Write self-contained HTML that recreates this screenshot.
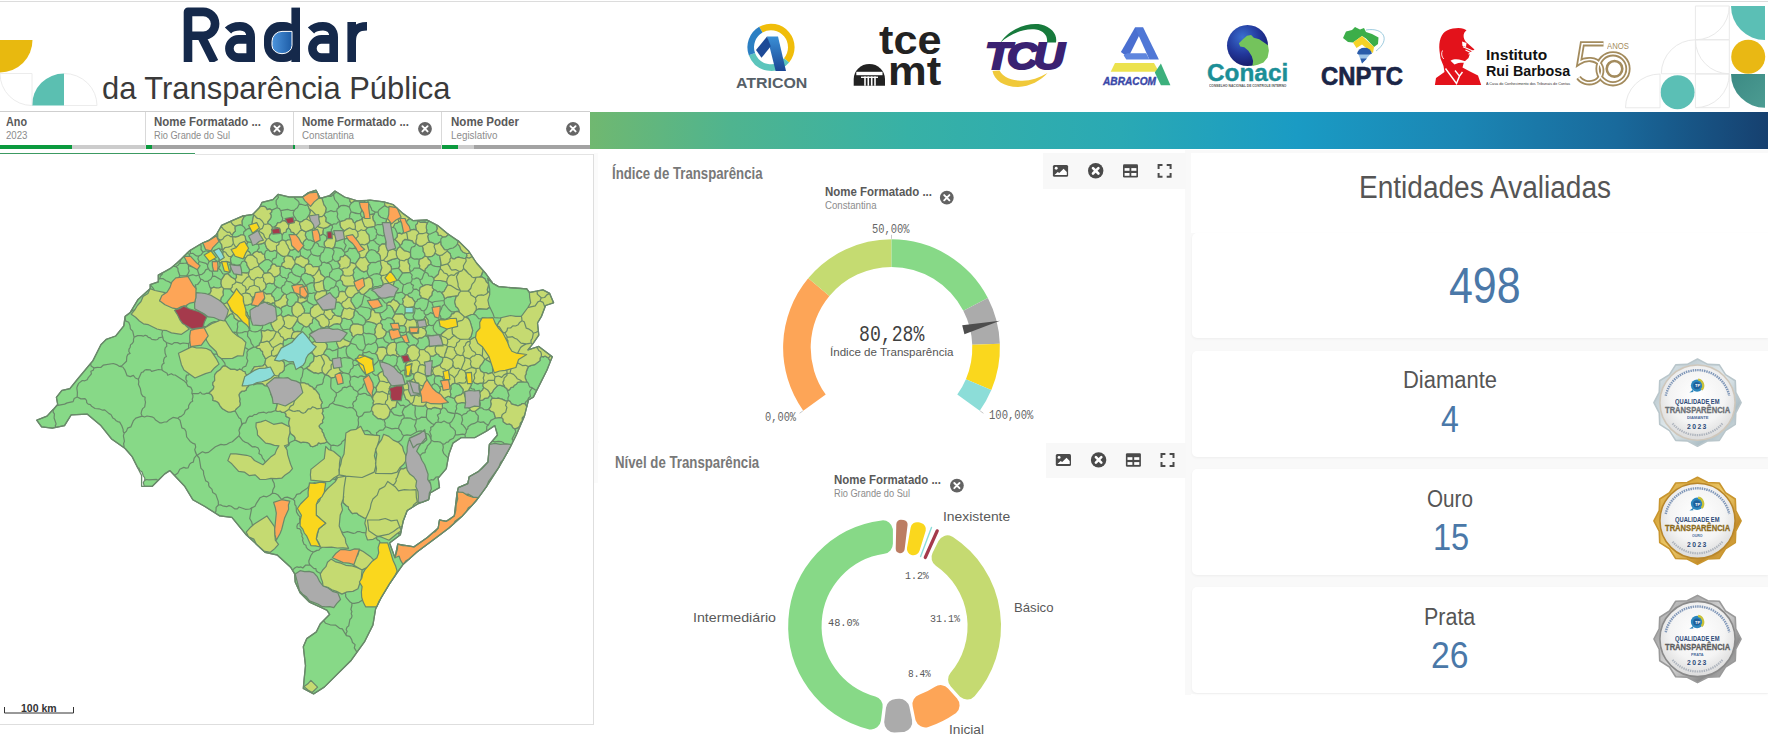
<!DOCTYPE html>
<html lang="pt-br">
<head>
<meta charset="utf-8">
<title>Radar da Transparência Pública</title>
<style>
html,body{margin:0;padding:0;background:#fff;}
body{width:1768px;height:742px;position:relative;overflow:hidden;font-family:"Liberation Sans",sans-serif;}
.abs{position:absolute;}
.t{position:absolute;white-space:nowrap;line-height:1;transform-origin:0 0;}
svg{position:absolute;left:0;top:0;overflow:visible;}
.card{position:absolute;left:1192px;width:576px;background:#fff;border-radius:5px 0 0 5px;box-shadow:0 1px 3px rgba(0,0,0,.05);}
</style>
</head>
<body>
<!-- top hairline -->
<div class="abs" style="left:0;top:1px;width:1768px;height:1px;background:#dcdcdc"></div>

<!-- ===== header graphics ===== -->
<svg width="1768" height="112" viewBox="0 0 1768 112">
<defs>
<linearGradient id="gDrop" x1="0" y1="0" x2="1" y2="0"><stop offset="0" stop-color="#4d95dd"/><stop offset="1" stop-color="#1d5ca6"/></linearGradient>
<linearGradient id="gA" x1="0" y1="0" x2="0" y2="1"><stop offset="0" stop-color="#3a8fd6"/><stop offset="1" stop-color="#1b4795"/></linearGradient>
<radialGradient id="gGlobe" cx="0.38" cy="0.3" r="0.75"><stop offset="0" stop-color="#3a6fd0"/><stop offset="0.55" stop-color="#22379a"/><stop offset="1" stop-color="#151a66"/></radialGradient>
<linearGradient id="gTeal2" x1="0" y1="0" x2="1" y2="1"><stop offset="0" stop-color="#3c8a84"/><stop offset="1" stop-color="#4c9c92"/></linearGradient>
<clipPath id="cpR"><rect x="170" y="0" width="210" height="62"/></clipPath>
</defs>
<!-- left decorations -->
<path d="M0 40H32.5A32.5 32.5 0 0 1 0 72.5Z" fill="#e8b90f"/>
<path d="M64 73.5V105.5H32A32 32 0 0 1 64 73.5Z" fill="#5bbfb1"/>
<g fill="none" stroke="#ececec" stroke-width="1">
<path d="M0 73.5H32V105.5A32 32 0 0 1 0 73.5"/>
<path d="M64 73.5A33 32 0 0 1 97 105.5H64"/>
</g>
<!-- Radar wordmark -->
<g fill="none" stroke="#15294b" stroke-width="8.6" stroke-linejoin="round" clip-path="url(#cpR)">
<path d="M188 62V11.9H203.2A11.9 11.9 0 0 1 203.2 35.7H188M201.5 36.5L214.3 62"/>
<path d="M228 30.5C231 27.3 235 26.3 240 26.3C247 26.3 250.7 30.5 250.7 37V62M250.7 39.4H238.5A9.1 9.1 0 0 0 238.5 57.6H250.7"/>
<path d="M295.7 7.6V62"/>
<path d="M311 30.5C314 27.3 318 26.3 323 26.3C330 26.3 333.7 30.5 333.7 37V62M333.7 39.4H321.5A9.1 9.1 0 0 0 321.5 57.6H333.7"/>
<path d="M351.7 22V62M351.7 41C351.7 31 357 26.3 367 26.3"/>
</g>
<rect x="264" y="22" width="36" height="40" rx="16" ry="17" fill="#15294b"/>
<path d="M292 31.4V45.5A10 8.2 0 0 1 272 45.5V41.4A10 10 0 0 1 282 31.4Z" fill="url(#gDrop)" stroke="#fff" stroke-width="1"/>

<!-- ATRICON -->
<g fill="none" stroke-width="6.6">
<path d="M760.85 29.72A20.3 20.3 0 0 1 786.55 60.35" stroke="#f0bd0a"/>
<path d="M786.55 60.35A20.3 20.3 0 0 1 751.92 54.24" stroke="#5cc5bc"/>
<path d="M751.92 54.24A20.3 20.3 0 0 1 760.85 29.72" stroke="#2b7fc3"/>
</g>
<path d="M767 36.5H778L786 71H775.6Z" fill="url(#gA)"/>
<path d="M767 36.5L756 50L761.5 57.8L770.8 46.3Z" fill="#1d4a97"/>

<!-- tce mt dome -->
<path d="M853.7 85.7V79A15.65 15 0 0 1 885 79V85.7Z" fill="#222"/>
<rect x="856.3" y="71.8" width="26.2" height="3.4" fill="#fff"/>
<path d="M865 76.6V85.7M868.3 76.6V85.7M871.7 76.6V85.7M875 76.6V85.7" stroke="#fff" stroke-width="1.6" fill="none"/>
<rect x="861" y="76.6" width="17" height="1.4" fill="#fff"/>

<!-- TCU swooshes -->
<path d="M1000.5 42.5C1009 29 1028 22 1041 24.5C1052 27 1057.5 35 1056 42.5L1047 42.5C1048 36 1044 31 1036 29.6C1024 28 1010 34 1000.5 42.5Z" fill="#177a3c"/>
<path d="M992.5 71C994 80 1004 87 1018 87C1030 86.5 1041 80.5 1047.5 73C1038 79 1028 81.5 1018 80.5C1008 79.5 1002 75.5 999.5 70.5Z" fill="#f0c93a"/>

<!-- ABRACOM -->
<path d="M1135 27.6H1143.2L1128.2 57.5L1120.9 52Z" fill="#4a6fd0"/>
<path d="M1135 27.6H1143.2L1158.9 59.5H1149.4Z" fill="#4f77d6"/>
<path d="M1123.6 55.2L1127.3 53.2H1146.2L1149.4 59.5H1126.3Z" fill="#5f86de"/>
<path d="M1115 63H1154L1158.9 71.8H1110.7Z" fill="#ece24e"/>
<path d="M1160.9 63.6L1170.4 85.3H1160.9L1154.8 72.4Z" fill="#3cb07c"/>

<!-- Conaci globe -->
<circle cx="1247.5" cy="45.5" r="20.5" fill="url(#gGlobe)"/>
<path d="M1238.9 43.3L1242.9 39.2L1247 35.8L1251.1 35.1L1253.8 37.8L1259.2 39.2L1264 42.6L1268 45.3L1268.9 50.7L1267.6 57.5L1263.5 62.5L1257.9 64.8L1252.4 66L1253.1 60.9L1251.8 56.2L1248.4 50.7L1244.3 47.3L1240.2 46.6Z" fill="#74c35c"/>

<!-- CNPTC map -->
<path d="M1343 38L1346 31.5L1352 30L1355 27L1360 29.5L1364 28L1366 32L1372 34L1378.5 37.5L1378 44L1374 47L1366 38.5L1362 36L1353 42.5L1348 42Z" fill="#3cae49"/>
<path d="M1353 42.5L1362 36L1374 47L1373 53L1368 49.5L1362 44.5L1356.5 48Z" fill="#f5d327"/>
<path d="M1357 53.5A7.8 7.8 0 0 1 1372 53.5L1368 55.5H1360Z" fill="#2a5caa"/>
<path d="M1358.5 54.5H1370L1362 63.5Z" fill="#9cc3e8"/>
<path d="M1360.5 58.5H1367L1362 63.5Z" fill="#2a5caa"/>
<path d="M1366 30C1384 27 1391 40 1376 51" fill="none" stroke="#5aa7c8" stroke-width="0.6"/>

<!-- IRB silhouette -->
<path d="M1447 30.5C1455 27 1464 27.5 1466.5 30.5C1462.5 33 1463 38.5 1466 42L1474.5 49.5L1470.5 52L1468.5 58L1464 62L1462.5 67.5L1470 71.5L1478 75.5L1481.2 84.9H1434.9L1436 78L1444.5 72L1443.5 66L1440.5 58.5L1439.5 51C1438.5 41 1441 33.5 1447 30.5Z" fill="#e3121b"/>
<path d="M1462 41.5L1466.5 43L1466 47L1462.5 46Z" fill="#fff"/>
<path d="M1463 46.8L1473.5 51.2M1465.5 50L1471 52.8L1468.5 54.2" fill="none" stroke="#fff" stroke-width="1.1"/>
<path d="M1450.5 60.8C1455 58.2 1461 59.2 1468.5 62.8C1463 62.6 1458 62.2 1454.5 64.5Z" fill="#fff"/>
<path d="M1445.5 68.5L1456.5 83.5L1459.5 76L1455 70.5M1462.5 72L1459.5 76" fill="none" stroke="#fff" stroke-width="1.4"/>
<path d="M1442.5 50.5C1441 53 1441.5 57 1443.8 59" fill="none" stroke="#fff" stroke-width="0.9"/>

<!-- 50 anos -->
<g fill="none" stroke="#a38b5d" stroke-width="5.2">
<path d="M1603.5 43.8H1582.3L1579.2 62.5C1586 58 1596 58.5 1600 64.5C1604 71 1601 79.5 1594 82C1588 84 1581.5 82 1578.5 77.5"/>
<circle cx="1613" cy="68.8" r="15"/>
</g>
<g fill="none" stroke="#fff" stroke-width="1.6">
<path d="M1603.5 43.8H1582.3L1579.2 62.5C1586 58 1596 58.5 1600 64.5C1604 71 1601 79.5 1594 82C1588 84 1581.5 82 1578.5 77.5"/>
<circle cx="1613" cy="68.8" r="15"/>
</g>
<circle cx="1614.5" cy="68.8" r="7.8" fill="none" stroke="#a38b5d" stroke-width="2.6"/>

<!-- right decorations -->
<path d="M1731 6H1765V40A34 34 0 0 1 1731 6Z" fill="#5bbfb5"/>
<circle cx="1748.2" cy="56.7" r="17" fill="#e9b814"/>
<path d="M1731 74H1765V107.7A34 33.7 0 0 1 1731 74Z" fill="url(#gTeal2)"/>
<circle cx="1677.6" cy="92.2" r="17" fill="#5bbfb5"/>
<g fill="none" stroke="#e9e9e9" stroke-width="1">
<path d="M1695.4 6H1729.3V39.8H1695.4ZM1729.3 6A33.9 33.8 0 0 1 1695.4 39.8"/>
<path d="M1695.4 39.8H1729.3V73.8H1695.4ZM1695.4 39.8A33.9 34 0 0 0 1729.3 73.8"/>
<path d="M1661.3 73.8A34.1 34 0 0 1 1695.4 39.8M1661.3 73.8H1695.4"/>
<path d="M1625.5 107.8A34.5 33.8 0 0 1 1660 74V107.8Z"/>
<path d="M1695.4 74H1729.3V107.7H1695.4ZM1729.3 74A33.9 33.7 0 0 1 1695.4 107.7"/>
</g>
</svg>


<!-- ===== filter bar ===== -->
<div class="abs" style="left:0;top:111px;width:590px;height:1px;background:#cfcfcf"></div>
<div class="abs" style="left:145px;top:112px;width:1px;height:37px;background:#d9d9d9"></div>
<div class="abs" style="left:293px;top:112px;width:1px;height:37px;background:#d9d9d9"></div>
<div class="abs" style="left:441px;top:112px;width:1px;height:37px;background:#d9d9d9"></div>
<!-- selection bars -->
<div class="abs" style="left:0;top:145px;width:72px;height:4px;background:#0b9a3e"></div>
<div class="abs" style="left:72px;top:145px;width:73px;height:4px;background:#cccccc"></div>
<div class="abs" style="left:146px;top:145px;width:6px;height:4px;background:#0b9a3e"></div>
<div class="abs" style="left:152px;top:145px;width:141px;height:4px;background:#a3a3a3"></div>
<div class="abs" style="left:293px;top:145px;width:2px;height:4px;background:#0b9a3e"></div>
<div class="abs" style="left:295px;top:145px;width:14px;height:4px;background:#cccccc"></div>
<div class="abs" style="left:309px;top:145px;width:132px;height:4px;background:#a3a3a3"></div>
<div class="abs" style="left:442px;top:145px;width:16px;height:4px;background:#0b9a3e"></div>
<div class="abs" style="left:458px;top:145px;width:16px;height:4px;background:#cccccc"></div>
<div class="abs" style="left:474px;top:145px;width:116px;height:4px;background:#a3a3a3"></div>
<!-- gradient strip -->
<div class="abs" style="left:590px;top:112px;width:1178px;height:37px;background:linear-gradient(90deg,#70b870 0%,#4fb48f 12%,#37b1a6 27%,#2aa9b4 45%,#1a9bc4 60%,#1b86b4 74%,#196a9c 87%,#16406f 100%)"></div>
<!-- loading / separators under filter bar -->
<div class="abs" style="left:0;top:153px;width:195px;height:1px;background:#3c9a62"></div>
<div class="abs" style="left:195px;top:154px;width:398px;height:1px;background:#e4e4e4"></div>

<!-- ===== page panels ===== -->
<div class="abs" style="left:594px;top:153px;width:5px;height:330px;background:#fbfbfb"></div>
<div class="abs" style="left:1185px;top:150px;width:583px;height:545px;background:#f9f9f9"></div>
<div class="abs" style="left:598px;top:153px;width:587px;height:288px;background:#fff"></div>
<div class="abs" style="left:598px;top:443px;width:587px;height:299px;background:#fff"></div>
<div class="abs" style="left:1043px;top:153px;width:143px;height:36px;background:#f8f8f8"></div>
<div class="abs" style="left:1046px;top:443px;width:140px;height:35px;background:#f8f8f8"></div>
<div class="abs" style="left:1191px;top:153px;width:577px;height:80px;background:#fff"></div>
<div class="abs" style="left:1191px;top:694px;width:577px;height:48px;background:#fff"></div>
<div class="abs" style="left:593px;top:154px;width:1px;height:571px;background:#dedede"></div>
<div class="abs" style="left:0;top:724px;width:594px;height:1px;background:#dedede"></div>

<!-- KPI cards -->
<div class="card" style="top:233px;height:105px"></div>
<div class="card" style="top:351px;height:106px"></div>
<div class="card" style="top:469px;height:106px"></div>
<div class="card" style="top:587px;height:106px"></div>

<!-- ===== map ===== -->
<svg width="600" height="742" viewBox="0 0 600 742">
<g stroke="#69896a" stroke-width="1.2" stroke-linejoin="round">
<path fill="#87d987" d="M55.2 425.9 56.1 423.9 54.1 418 54.4 413.9 53.1 412.1 53.4 410 52.9 409.7 47 416.1 36.7 420.2 41.6 426.9 52.3 428.2 55.9 427.4ZM343 372.7 337 375.1 334.4 377.3 331.1 377.9 330.7 386.4 331.3 388.6 336.2 392.9 338.2 392.2 341.8 389.8 342.6 387.8 344.7 387.2 346.8 387.6 348.5 386.4 350.6 385.9 349.6 381.6 350.6 379.6 350 375.3 348.6 373.9ZM385.1 366.3 383.7 364.6 382.2 360.6 378.7 360 377 362.3 372.7 366.2 369.7 366.1 368.8 367.9 369 371.2 371.6 371.7 373.1 373.7 375.2 375.3 377.8 375 379.5 373 384.2 370.4 385.9 368.3ZM321.9 198.3 327.9 196.1 331.3 196.3 336.5 191.9 335 191 329.6 195.6 320.2 198.3ZM313.3 191.1 315.7 196.7 318.6 198.3 320.2 198.3 316 190.2ZM408.8 400.7 405.8 398.9 403.4 392.5 401.5 393.9 399.2 394 397.2 395.2 396.3 397.4 396.3 399.4 397 401.3 400.6 405.6 403.6 405.2 406.1 406.9 410.7 403.7ZM196.7 455 194.2 458.2 193.3 462.1 191.3 462.8 189.7 464.1 188 467.9 185.9 468.1 183.8 467.4 179.8 469.2 177.9 473 174.5 475.5 184.7 486.3 192.8 499.7 204.9 506.5 215.2 513.1 216 510.7 216.1 507.4 218.4 505 218.3 501.4 215.9 494.6 212.8 492.6 211.9 489.1 209.3 486.7 208.6 485 208.7 483.1 207.5 481.7 205.7 480.9 203.7 474.4 203.4 470.9 200.9 468.2 199.2 458ZM156.6 479.4 148.6 479.8 146.6 479.5 144.7 480.4 143.3 482.5 144.3 486.3 152.3 486.3 158.1 480.5ZM274.1 330.5 271.1 324.3 271 320.8 269.5 317.6 266.4 316.3 261.3 320.9 261.4 323.3 262.7 325.4 262.4 327.9 260.7 329.8 261.2 330.4 264.5 331.1 267.7 329.8 270.8 330.9ZM443 526 438.9 530 440.7 534.2 448.9 528 459.2 518.8 457.4 519 456.5 521 454.6 522.1 453.2 523.8 451.2 524.5 449.1 523.5 446.9 524.3 445.2 525.8ZM357 652.2 354.3 647.9 355.1 644.6 352.5 642.5 351.6 639.3 349.7 636.4 346.4 635.7 342.3 628.9 339.6 628.3 335.4 625.1 330.2 624.8 325.5 623.2 323.9 621.1 323 621.1 320.3 623.8 316.3 631.9 306.8 638.6 303.3 646.7 305.5 665.6 303.3 688.5 313.6 693.9 324.3 687.1 351.3 660.2ZM433.7 325.2 436.5 321 441.1 318.9 440.5 315.8 438.6 313.8 435.9 312.5 433.2 313.6 430.5 312.6 428.5 314.4 425.8 315.1 425.4 316.4 428.1 320.3 427.9 322.7 429 324.9 431.3 325.7ZM124.1 446.5 123.6 443.8 124.4 441.2 123.4 435.9 124.1 433.3 123.2 431.5 123.1 429.4 121.8 425.7 119.7 422.1 117.6 421.6 115.8 420.4 114.6 418.9 112.8 417.9 110.9 414.5 109.1 413.6 104.7 409.9 102.7 410.2 99 408.8 95 408.5 91.6 406.3 90.4 404.6 88.2 404.2 86.7 402.6 86.5 400.4 85 398.7 80.9 398.9 77.2 397 74.2 398.5 73.1 401.6 67.2 402.9 64.6 404.1 56.6 405.6 53.4 410 53.1 412.1 54.4 413.9 54.1 418 56.1 423.9 55.2 425.9 55.9 427.4 64.5 425.6 71.2 414.8 87.4 414.2 100.9 425.6 111.6 439 123.8 447.6ZM439.5 476.7 436.2 477 433.4 480 431.2 479.7 429.3 480.5 430.2 484 428.4 487.1 428.6 490.5 430.2 492.9 439.5 487.6 438.2 478.2ZM443.1 522.9 443 526 445.2 525.8 446.9 524.3 449.1 523.5 451.2 524.5 453.2 523.8 454.6 522.1 456.5 521 457.4 519 459.2 518.8 462.4 515.9 475.9 501.1 485.9 487.4 486.4 485.8 484.5 482.9 482.1 480.4 479 478.6 475.4 478.6 472.8 476.2 472.7 474.8 469.2 476.8 467.8 483.6 458.4 487.6 457 493 454.3 515.9 446.3 521.3 444 520.9ZM438.9 530 443 526 443.1 522.9 444 520.9 439.5 520 438.2 528 437.1 529ZM350 407.3 347.3 408 342.3 406.1 334.6 404.3 332.3 402.9 329.7 404.5 328.3 407.2 322.6 408.7 322.9 411.2 322 413.5 323.4 415.5 323.8 418 322.4 420.2 322.7 422.8 320.5 424 318.9 426 319.9 428.1 321.9 429.4 322.1 431.7 323.6 433.6 324 435.8 326.9 441.8 331 445.5 333.2 445.1 337.6 446 339.6 444.9 341.4 443.6 342.2 441.4 344.1 440.3 348.4 435.2 349.3 430.8 351.6 431.2 356.2 429.9 357.3 427.7 358.4 425.2 358.5 422.6 358.1 419.9 358.7 417.3 356.7 415 356.5 412.1 354.9 409.8 352.7 408ZM313 551.8 311 551.2 307.6 548.9 306.3 547.3 305.9 545.2 304 544.2 302.5 540.3 303 538.3 301.9 536.5 302.2 534.4 301.1 532.5 300.9 530.4 299.5 528.6 297.2 528.4 296.9 526.3 297.5 524.3 299.4 523.1 300 521 299.5 518.9 300.1 516.8 298.5 515.4 296.5 511.9 296.1 506.2 294.9 504.7 294.6 500.7 293.1 499.4 287.4 497.1 284.3 497.7 281.7 499.6 278 495 275.4 493.5 272.4 493.2 269.8 495.3 266.8 496.8 263.3 496.2 260.1 497.7 256.5 503.1 255 506.3 251.8 507.7 249.7 518.5 251.6 521.7 252.5 525.3 255.8 529.7 256.1 531.6 257.5 533 259.4 533.4 257.8 543.9 259 545.3 259.7 547.3 265 552.3 277.2 555 290.6 567.2 292.4 570.1 295.1 567.8 297 566.8 299 567.3 301 566.9 302.8 568 305.7 565 307.7 565.2 309.8 564.8 309 563 308.8 561 310.9 555.5 313.2 552.2 315.1 551.5ZM475.6 314.9 478.7 318.6 481.1 319 484.7 322.2 484.6 324.7 485.5 327 491.5 328.3 497.1 325.8 499 322.1 500.4 320.5 500.8 318.4 500.9 314.2 499.3 312.6 499.2 310.3 497.1 307.5 494.4 306.6 491.8 307.8 489 307.5 486.7 309.2 478.7 308.7 476.2 309.9 473.3 314.3ZM259.7 547.1 259 545.3 257.8 543.9 259.4 533.4 257.5 533 256.1 531.6 255.8 529.7 252.5 525.3 251.6 521.7 249.7 518.5 251.8 507.7 249.9 509 245.4 509.3 239 507 237.3 508.8 234.9 508.9 231.2 506.3 228.9 505.6 226.7 506.7 222.5 505.8 220.6 504.9 218.4 505 216.1 507.4 216 510.7 215.2 513.1 219.7 515.9 231.9 517.3 246.2 534.8ZM192.2 390.3 190.9 387.4 187.8 386.1 186.4 383.2 183.9 380.7 175.1 375 173.1 374.8 171.3 373.7 167.6 375.2 167.1 373.2 163.5 371.3 162.1 370 158.6 369.5 151.6 371.4 150.3 369.9 146.4 369.6 144.5 370.3 143.3 371.9 141.4 372.5 138.4 379.3 138.8 381.8 138.4 384.3 140.4 388.8 141.3 393.9 142.7 396.1 145.1 397.3 144.9 399.7 145.5 402.1 144.7 406.9 142.7 408.6 141.6 411 141.1 413.6 142.1 416.1 144.6 417 147 416 151.9 416.8 154.1 418 155.6 420.1 159.7 422.8 162.1 422.8 164.4 422 166.9 421.8 168.8 420.1 173 417.4 178 418.4 179.3 416.8 181.2 416.4 184.1 413.9 185.4 410.2 187.2 409.4 188.6 408 188.6 405.8 189.6 403.9 190.8 402.2 192.7 401.3 192.2 399.2 192.9 397.3 192.9 395.2 191.9 393.5ZM56.6 405.6 64.6 404.1 67.2 402.9 73.1 401.6 74.2 398.5 77.2 397 77.4 392.4 76.8 387.9 78.6 383.4 82.3 380.5 84.8 380.8 87.2 379.8 88.3 377.6 91.4 373.8 90.9 371.3 93.2 370.2 94.1 367.9 91.1 366 90.6 363.5 69.9 388.6 61.8 390.5 56.4 397.3 57.7 404.5ZM138.4 379.3 141.4 372.5 143.3 371.9 144.5 370.3 146.4 369.6 150.3 369.9 151.6 371.4 158.6 369.5 162.1 370 161.7 366.2 162.4 364.3 164.1 363.3 163.5 361.4 163.8 359.4 164.6 357.6 166.4 356.6 165.1 353.2 164.8 349.6 165.3 347.6 166.8 346.3 166.4 342.5 163.6 340.3 162.6 337 158.8 337.8 157.6 339.5 155.5 339.8 151.7 339.3 150.3 337.9 148.3 337.4 147 335.9 145.1 335.2 143.3 336.2 141.2 335.6 137.5 335.6 134.1 337.2 133.5 339.4 133.5 341.6 132.3 343.5 130.5 344.9 130.2 347.2 129 349.1 128.8 351.5 130.1 353.5 127.8 354.4 126.8 356.7 126.5 361.3 121.7 365.9 119.5 366.4 122.8 367 124.8 369.8 127.1 375.7 130.3 376.6 133.4 375.4 135.4 378ZM282.1 412.4 280.1 411 277.8 411.5 275.6 410.5 271 412.1 268.5 412 266.3 413.2 264 412.2 258.9 412.8 256.8 414.3 254.2 414.6 252.3 416.3 249.6 416.2 247.6 418 245.7 422.8 242.9 423.3 239.8 427.8 238.9 430.4 239.7 433.1 239 435.8 242.5 440.4 244.9 442.1 247.7 443 252.2 446.8 255.2 446.7 257.9 447.8 259.5 450.5 258.9 453.6 261.5 455.2 262.5 458.1 264.4 460.3 265.4 462.9 267.1 465.1 268.2 467.7 271 467.5 273.3 465.9 275.8 461.2 278 459.9 283.2 459.4 285.1 457.4 284.9 454.7 286.1 452.1 285.6 449.4 286.4 446.8 288.8 445.2 289.8 442.5 294.8 440.2 295.2 438.1 294.2 436.2 290.9 433.7 289.2 430.2 289.1 428.2 289.5 426.3 288.8 424.4 288.8 422.3 289.8 418.3 286 416.4 286 414.1 284.5 412.3ZM212 303.8 209.7 299.4 207.3 298.3 206.3 295.8 203.2 296.5 197.8 293.7 194.8 294.3 193.9 297 191.9 299 189.2 300.1 187.8 302.8 186.7 305.5 186.2 308.4 187.1 311.2 188.6 313.8 191 315.5 196.6 318.2 198 321.1 201.8 313.3 204.7 312.2 206.7 310.3 209.5 305.3ZM315.5 242 317.1 239.1 317.7 235.8 316.1 234 316.1 231.7 313.8 231 312.5 229.1 305.8 231.9 305.2 235.3 306.7 238.4 308.4 240.2 310.9 240.2 312.9 241.4ZM323.9 621.1 325.5 623.2 330.2 624.8 335.4 625.1 339.6 628.3 342.3 628.9 346.4 635.7 346 633.5 347.1 631.5 346.2 629.4 347 627.3 348.7 625.9 349.9 619.5 351.5 617.9 352 615.8 351.2 613.6 351.9 611.5 350.9 609.5 351.9 605.3 351.8 603.1 350.2 602.1 346.5 597.9 345.6 596.2 345.7 594.2 344.4 592.7 344.4 590.7 340.7 589.6 339.2 588.4 337.1 585.1 335.3 584.2 334.9 582.3 332.6 579.1 330.9 578.3 328.9 578.8 327.1 578 326.2 576.2 317.7 572 316.2 570.7 315.9 568.7 314 568.6 309.8 564.8 307.7 565.2 305.7 565 302.8 568 301 566.9 299 567.3 297 566.8 295.1 567.8 292.4 570.1 294.7 573.9 295.2 582 300.1 592.8 309.5 602.2 327 610.3 329.7 614.3 323 621.1ZM199.5 277.2 199.1 275 195.9 275.8 193 274.7 187.1 276.3 188.3 277.9 188.1 280 189.7 281.1 191.6 284.7 189.6 290.3 191.4 291.9 193.7 292.5 194.5 290.5 196.1 289 195.4 284.8 197.6 284.5 200.3 281.2 200.7 279.1ZM495.5 418 490.9 420.4 488.4 425 486.8 426.3 486.6 430.4 486 431.4 494.8 425.6 497.5 435 492.2 441.2 494.8 441.8 498.2 441.3 501.6 441.7 503.2 442.5 504.4 443.9 508 444.5 510.2 447.3 513.3 441 512.1 439 515.7 431.7 514.9 428.9 512.7 427.6 511.8 425.3 509.6 423.9 507.1 424.4 503.2 421.7 503.1 419.2 501.5 417.3ZM349.7 636.4 351.6 639.3 352.5 642.5 355.1 644.6 354.3 647.9 357 652.2 364.8 641.3 372.9 625.1 375.6 609 380.9 598.2 389.5 584 389.3 583.5 387.2 583.4 385.6 581.9 383.6 582.7 381.6 582 380 583.9 378 585.4 378.1 588 376.8 590.3 374.6 591.7 372 591.5 369.7 592.7 367.2 597.1 365.3 598.6 359 602.3 354.3 603.4 351.8 603.1 351.9 605.3 350.9 609.5 351.9 611.5 351.2 613.6 352 615.8 351.5 617.9 349.9 619.5 348.7 625.9 347 627.3 346.2 629.4 347.1 631.5 346 633.5 346.4 635.7ZM432.8 426.4 430.7 427.4 430.9 429.8 429.7 431.8 431.2 435.8 430.9 438 431.3 440.3 434.2 441.7 437.3 441.5 440.4 442.1 442.8 444.2 444.8 443.8 446.3 442.3 448.4 441.9 449.6 440.1 453.4 438.3 455.4 434.6 455.4 431.2 453.3 428.5 450.5 426.5 449.5 423.3 446.6 422.6 444 421 441.3 422.6 438.2 422 435.8 422.7ZM483.4 270.8 481.4 275.5 479.6 276.9 482.6 277.2 485.1 279 486.2 281.8 488.4 283.8 489.7 282.4 491.6 281.9 486 273.8ZM164.9 312.4 162.5 312.5 160.7 310.8 158.3 310.7 156.4 309.3 155.1 307.3 153 306.2 152 304 150.3 305.2 148.3 305.7 146.2 305.5 144.4 304.6 142.5 304.9 139.1 306.8 137.3 307.3 136.3 309.1 132.6 310.5 125.1 316.4 125.5 320.9 128.7 322.3 130 325.5 130.4 328.8 132.7 331.1 134.1 337.2 137.5 335.6 141.2 335.6 143.3 336.2 145.1 335.2 147 335.9 148.3 337.4 150.3 337.9 151.7 339.3 155.5 339.8 157.6 339.5 158.8 337.8 162.6 337 161.9 333.8 162.5 330.6 162.2 327.4 161.2 324.4 163.2 321.8 165.8 319.7 165.3 316.3 167.2 313.3ZM206.5 393.2 204.4 394.1 202 393.9 200.3 392.2 198.5 393.6 191.9 393.5 192.9 395.2 192.9 397.3 192.2 399.2 192.7 401.3 190.8 402.2 189.6 403.9 188.6 405.8 188.6 408 187.2 409.4 185.4 410.2 184.1 413.9 181.2 416.4 179.3 416.8 178 418.4 180 420.2 181.9 427.9 184.6 429 186 431.5 186.7 437 190.2 441.4 192.5 443.1 195.1 444.1 195.7 447 194.7 449.7 195.5 452.4 196.7 455 197.1 455.2 202.4 451.8 205.4 452.9 208.5 452.4 215.4 446.8 220.9 444.4 223.9 444.8 226.9 444.3 229.5 442.7 232.3 441.8 239 435.8 239.7 433.1 238.9 430.4 241.3 425.5 241.8 423.4 240.8 419.1 238.9 417.8 235 410.8 230.7 412 228.4 412 226.3 411.1 222.5 408.8 219.7 405.3 218.8 403.3 217.1 401.8 215.1 400.8 212.9 400.5 213.1 398.2 212.3 396 210.9 394.2 208.8 393.3ZM443.3 447.3 442.6 450.3 443.6 453.3 448.2 458.1 449 453.9 453 443.1 461.1 437.7 465.3 437.7 465 434.5 462.6 434.1 457.8 434.9 455.4 434.6 453.4 438.3 449.6 440.1 448.4 441.9 446.3 442.3 444.8 443.8 442.8 444.2ZM356.2 429.9 351.6 431.2 349.3 430.8 348.4 435.2 344.1 440.3 342.2 441.4 341.4 443.6 339.6 444.9 337.6 446 333.2 445.1 331 445.5 330.6 449.2 331.7 450.8 332 452.7 333 454.4 334.9 455 335.8 456.6 337.5 457.5 338.1 459.4 337.6 461.3 339.2 462.5 339.9 464.4 338.7 465.8 338.1 467.5 338.2 469.5 337.3 471.1 340.2 470.9 345.8 468.8 348.7 469.8 357 467.2 362.2 464.8 368 463.8 370.3 462 376.4 461.8 381 457.9 380.9 452.2 378.4 450.5 377.8 447.5 378.7 444.7 378.4 441.8 376.8 439.4 375.9 436.6 371.3 434 369.7 431.8 367.4 430.4 364.7 431 361.9 430.7 359.4 429.5 357.3 427.7ZM397.4 233.5 395 228.3 393.2 227.5 388.3 226.6 388 229.1 386.2 230.9 384.6 235.4 387.2 240.4 389 239.7 394.9 239.3 397.3 236.9ZM134.1 337.2 132.7 331.1 130.4 328.8 130 325.5 128.7 322.3 125.5 320.9 125 317 123.8 325.8 115.7 336 106.3 339.3 100.9 344.7 92.8 360.9 90.6 363.5 91.1 366 94.1 367.9 97.4 367.3 100.7 367.5 103.2 365.2 113.3 363.5 116.6 364.6 119.5 366.4 121.7 365.9 126.5 361.3 126.8 356.7 127.8 354.4 130.1 353.5 128.8 351.5 129 349.1 130.2 347.2 130.5 344.9 132.3 343.5 133.5 341.6 133.5 339.4ZM306.4 291.9 307.7 294.1 309.6 293.2 311.7 293.5 313.8 292.7 315.8 293.4 317 291.6 315.1 290.1 314 285.3 314.5 283 312.1 282.7 309.8 283.2 305.9 285.7 304.7 288 304.2 290.5ZM196.6 318.2 193.6 317 188.6 313.8 185.6 314.6 179.5 313.2 178 310.4 169.4 311.3 167.2 313.3 165.3 316.3 165.8 319.7 163.2 321.8 161.2 324.4 162.2 327.4 162.5 330.6 161.9 333.8 163.6 340.3 166.4 342.5 172 344.4 174.4 342.5 177.5 342.6 180.2 343.9 183.1 343 188.6 343.6 192.2 339.4 194 334.1 196.8 332.8 199.5 327.6 199.6 324.6 198.2 323.1 198 321.1ZM294.7 261 296.5 257.1 298.8 257.1 300.5 255.6 300.2 251.6 299 249.8 299.3 247.7 296.9 247.9 292.6 249.9 290.2 250 287.5 255.6 292.2 256.8 293.2 259.1ZM488 397.8 484.9 398.3 482.5 400.2 479.5 400.5 480.1 404.2 479.5 407.8 482 407.9 483.9 409.5 486.3 409.8 488.7 409.3 490.6 406.9 491.3 404 490.6 400.9 492.3 398.2 491.6 396.5 490 395.3ZM243.1 367.2 245.9 366.1 247.8 360.7 246.6 358 247.2 355.1 246.9 352.1 248.7 349.7 245.9 347.9 242.7 347.6 240.3 345.4 237.3 344.2 236.3 346.9 230.7 352.8 228 353.9 226.1 356.1 223.2 355.7 220.5 356.4 221.6 358.8 224.8 363.1 225.3 365.8 230.8 369.4 235.3 369.4 237.2 370.5 239.3 369.2 241.6 369.8ZM169.3 281.9 166.1 280.7 163.2 278.7 159.7 278.6 158.3 279.9 158.3 281.9 150.2 284.6 153.5 288.6 155.1 293.8 153.8 296.3 154.1 299 152 301.1 152 304 153 306.2 155.1 307.3 156.4 309.3 158.3 310.7 160.7 310.8 162.5 312.5 164.9 312.4 167.1 313.1 169.8 307.4 174.6 303.4 177.7 297.5 175 287 173.9 285.1ZM197.7 355.7 193.5 351.3 189.5 349.9 188.7 347.8 188.6 343.6 183.1 343 180.2 343.9 177.5 342.6 174.4 342.5 172 344.4 166.4 342.5 166.8 346.3 165.3 347.6 164.8 349.6 165.1 353.2 166.4 356.6 164.6 357.6 163.8 359.4 163.5 361.4 164.1 363.3 162.4 364.3 161.7 366.2 162.1 370 163.5 371.3 167.1 373.2 167.6 375.2 171.3 373.7 173.1 374.8 175.1 375 183.9 380.7 186.4 383.2 187 381.1 185.9 379.2 186.5 375.2 188.6 374.8 190.1 373.2 190.5 371.1 191.8 369.3 193.5 363.4 192.5 361.5 193 359.5 194 357.7 196.1 357.2ZM223.2 355.7 226.1 356.1 228 353.9 230.7 352.8 236.3 346.9 238.7 341.4 239.2 338.3 236.5 332.7 234.4 332.1 232.4 332.9 228.7 331.2 226.8 331 221.8 333.6 220.3 337.1 218.3 337.5 216.9 338.9 218.3 345.1 220.1 346.4 218.8 350.2 217.5 351.8 217.1 353.9 220.5 356.4ZM371.8 525.6 370.8 528.7 371.7 530.6 371.4 532.6 372.3 534.4 374.3 535.1 375.9 536.3 376.3 538.2 377.4 539.9 379.2 540.5 382.8 548.8 384.3 550 384.3 551.9 388.3 558.7 389.7 562.6 388.6 564.4 388.7 568.4 388.3 570.4 386.9 571.9 386.3 575.8 383.1 578.2 381.9 579.9 381.6 582 383.6 582.7 385.6 581.9 387.2 583.4 389.3 583.5 389.5 584 403.1 564.4 416.6 552.3 440.7 534.2 438.9 530 437.1 529 427.4 537.5 413.9 546.9 397.7 544.2 395 557.7 389.6 542.9 400.4 534.8 400.9 532.1 398.8 533.9 394.6 531.3 392.4 532.2 387.6 532.4 382.3 528.2 379.2 525.2 378.2 523.1 376.3 521.9 373.8 523ZM372.7 521.3 370.8 520.5 367.7 518.3 363.8 517.8 358.5 514.8 357 513.1 354.8 513 352.6 513.6 351.1 512.2 348.6 508.8 348.3 506.7 346.4 505.8 343.3 502.8 343.1 500.6 343.7 496.6 342.8 494.7 342.6 492.6 341 491.3 339.1 490.6 336.3 485 337.1 482.9 336.6 480.9 335 479.5 328.8 478.1 326.3 480.3 323 480.7 320.8 483.2 317.6 483.8 314.5 482.7 311.4 483.8 307.2 488.2 302.2 491.5 299.9 493.7 296.7 494.4 295.2 497.1 293.1 499.4 294.6 500.7 294.9 504.7 296.1 506.2 296.5 511.9 298.5 515.4 300.1 516.8 299.5 518.9 300 521 299.4 523.1 297.5 524.3 296.9 526.3 297.2 528.4 299.5 528.6 300.9 530.4 301.1 532.5 302.2 534.4 301.9 536.5 303 538.3 302.5 540.3 304 544.2 305.9 545.2 306.3 547.3 307.6 548.9 311 551.2 313 551.8 315.1 551.5 316.9 550.4 318.9 550.2 320.2 548.5 323.9 546.3 326.2 546.5 328.4 542.8 331.4 540 333.1 536.3 335 535.3 335.7 533.2 339.4 531.4 341.5 531.6 343.4 532.7 347.4 531.6 353.3 533.4 355.4 533 357.2 531.7 359.4 531.5 361.4 532.3 365.8 532.8 368 532.1 369.1 530.2 370.8 528.7 371.8 525.6 373.8 523ZM428.6 300.8 431.9 302.6 434.8 301.5 444 300.5 444.7 298.8 443.6 295.4 441.6 292.6 439.7 291.4 437.5 291.9 436 290.4 434 289.6 432.2 292.1 431.8 295.2 429.6 297.3 428.2 300ZM427.7 273.3 428.8 276 431.7 276.3 433.9 278.2 438.3 274.3 439 271.3 440.4 268.7 440.4 266.5 435.3 266.4 432.9 265.6 430.8 264.2 428.4 265.1 427.1 267.3 425.2 268.9 424.8 271.5 425 272.1ZM302.2 367.6 300.1 366.9 296.8 364.5 290.2 363.5 287.1 365 284.5 367.1 284.2 369.9 282.4 372 279.9 373.2 278.5 375.6 279.4 379.9 281.4 381.6 286 383.9 288.1 385.6 293.3 386.4 295.9 385.8 298.1 383.7 301.1 382.9 300.6 379.4 302.2 376.2 303.3 369.5ZM433.1 328.1 434.1 330.8 438 334.9 441.1 334.5 442.9 332.5 445.1 331 447.2 329.1 447.5 326.3 445.3 324.7 444.9 322.1 443.4 320 441.1 318.9 436.5 321 433.7 325.2ZM276.5 225.3 277.5 222.9 280.2 222.7 282.2 221 282.8 218.2 281.4 215.8 281.4 213.2 280.7 210.7 279.4 208.6 277.1 207.7 271.8 210.1 271.6 212.2 270 213.5 271.1 215.2 271 217.2 270.2 218.9 267.7 221.8 267.8 223.7 270.4 224.8 272.1 227 274.4 227ZM426.8 410.4 426.3 417.3 427.5 419.8 431.7 423.5 434.3 424.6 435.8 422.7 438.2 422 438 420.1 438.7 418.4 437.4 415 440.5 412.9 440.4 410.9 441.3 409.1 434.6 407.4 432.8 407.8 431.3 408.9 427.8 408.3ZM389.7 317.8 387.1 317.9 385 319.7 382.2 319.5 380.7 320.9 380.4 322.9 382.3 325.1 382.3 328 386.3 331.6 389.4 331.9 392.3 330.6 393.4 329.1 394.5 323.6 394.2 320.7 392.1 318.8ZM300.9 277.1 295.9 275.6 293.5 274.3 291.9 272.2 289.5 272.9 288.2 274.9 288.2 277.4 286.5 279.2 286.7 280.8 288.6 281.7 290.6 281.9 293.8 284.4 296.5 284.3 300.4 280.6ZM524.6 415.4 522.2 417.9 522.3 420.9 520.3 423.1 519.8 426 517.7 427.9 514.9 428.9 515.7 431.7 512.1 439 513.3 441 516.3 435 524.4 416.2ZM130.3 312.3 132.6 310.5 136.3 309.1 137.3 307.3 139.1 306.8 142.5 304.9 144.4 304.6 146.2 305.5 148.3 305.7 150.3 305.2 152 304 152 301.1 154.1 299 153.8 296.3 155.1 293.8 153.5 288.6 150.2 284.6 150.2 288.6 138.1 299.4ZM295.2 263.6 291.4 269.4 291.9 272.2 293.5 274.3 295.9 275.6 300.9 277.1 302 274.6 304.4 273.5 305.5 270.5 304.6 267.4 302.1 267.1 297.7 264.3ZM400.9 371.7 398.3 368.5 397.6 366.5 396 365.1 391.4 367.8 388.6 367.1 386 368.4 388.3 369.7 389.8 371.8 391.1 376.8 393.4 376.1 395.8 376 399.9 373.5ZM222.9 291.8 223.4 295.2 221.1 297.9 220.4 301.3 222.2 303 224.6 303.8 227 302.8 229.5 303.7 231.3 302.1 232.5 300 235.6 296.3 234 294.6 233.4 292.4 231.5 291 230.6 288.9 223.6 288.5ZM350.4 343.1 355.8 344.8 357.7 348.2 359.1 349.7 362.9 350.5 364.7 348.3 365.6 345.5 364.7 342.7 363.9 336.8 362.4 334.3 360 334.7 357.6 334.3 355.3 335.2 351.7 339.4ZM415.3 409 414.9 412.4 415.3 416 417.1 419 419.5 418.6 421.5 417.1 426.3 417.3 426.8 410.4 427.8 408.3 426.2 406.6 425.7 404.3 423.5 406.2 420.5 406.2 415 405.5ZM304.7 288 305.9 285.7 300.8 277.9 300.4 280.6 298.7 282.6 296.5 284.3 293.8 284.4 292.7 286.6 294 291.2 295.6 292.9 297.9 292.4 300.2 292.9 302.1 291.5 304.2 290.5ZM182.9 263.4 179.7 263.1 178.1 265.2 175.9 266.6 177.9 268.3 178.1 271 179.8 275.5 186.5 275.8 188.1 273.6 189.2 271.1 188.4 268.5 188.6 265.8 187.8 264.1 186.2 263ZM239 435.8 232.3 441.8 229.5 442.7 226.9 444.3 223.9 444.8 220.9 444.4 215.4 446.8 208.5 452.4 205.4 452.9 202.4 451.8 197.1 455.2 199.2 458 200.9 468.2 203.4 470.9 203.7 474.4 205.7 480.9 207.5 481.7 208.7 483.1 208.6 485 209.3 486.7 211.9 489.1 212.8 492.6 215.9 494.6 218.3 501.4 218.4 505 220.6 504.9 222.5 505.8 226.7 506.7 228.9 505.6 231.2 506.3 234.9 508.9 237.3 508.8 239 507 245.4 509.3 249.9 509 255 506.3 256.5 503.1 260.1 497.7 263.3 496.2 266.8 496.8 269.8 495.3 272.4 493.2 272.9 489.7 274.6 486.6 274.1 483.2 272.5 480.1 272.4 473.2 270.6 472.6 269.4 471.2 269.4 469.3 265.4 462.9 264.4 460.3 262.5 458.1 261.5 455.2 258.9 453.6 259.5 450.5 257.9 447.8 255.2 446.7 252.2 446.8 247.7 443 244.9 442.1 242.5 440.4ZM368.1 201.7 368 203.7 369.7 204.7 370.3 206.6 371.4 208.3 371.8 210.2 375.2 212.1 378 211.8 379.2 209.7 384.8 205.6 384.7 202.1 383.6 201.8 370.1 200.2 367.4 200.4ZM220.1 265.5 219.7 262.3 219.2 261.3 217.1 261.3 213.9 258.7 211.9 259.2 209 261.6 207.6 265 207.6 266.9 209.7 270.7 212.1 271.4 218.5 268.4ZM366.1 333.7 369 333.4 374.4 334.7 375.4 332.2 374.9 329.5 377 324.6 374.4 323.2 368.6 321.5 365.6 321.8 364.8 324 362.9 325.5 363.5 332.5ZM293.8 284.4 290.6 281.9 288.6 281.7 286.7 280.8 285 282.5 284.6 284.8 282.5 285.9 281.3 287.9 281.9 291.5 284.6 293.8 286.5 294.7 288.8 293.8 290.7 292.4 295.5 293 294 291.2 292.7 286.6ZM265.5 251.3 264.5 254.5 264.6 257 265.5 259.4 268.9 259.7 271.6 261.7 273.1 258.9 276.1 257.8 277.2 251.9 276.7 250.9 274.5 250.3 272.4 251.3 270.1 251.3 268.5 249.6ZM448.4 234.3 446 236.6 442.8 236.9 440.9 238.9 440.7 241.6 440.9 244.6 444.4 249.6 447.4 250.1 450.1 248.6 453.1 248 455.6 246.3 457.5 243.9 458.3 241.2ZM376.7 386.1 378 384.6 379.8 381 377.8 375 375.2 375.3 373.1 373.7 371.6 371.7 369 371.2 367.8 374 365.8 376.2 366.4 382.6 369 384 370.5 386.4 373.3 386.8 375.9 387.9ZM370.8 395.8 367.1 394.9 365.7 393.5 363.9 393.4 360.2 394.3 358.3 393.9 357.7 395.8 356.3 397.2 356.6 399.2 355.4 400.9 353.5 401.9 352.6 403.9 353.5 405.9 352.7 408 354.9 409.8 356.5 412.1 356.7 415 358.7 417.3 362.2 415.6 364.3 412.4 370.1 411.8 371.5 410.4 371.9 407.5 373.5 405.1 373.1 403 373.9 401 372.7 399.3 372.1 397.3ZM230.1 306.1 229.9 308.6 230.9 310.8 232.6 312.7 234.5 310.3 237.2 308.9 243.1 308.3 243.6 306.6 243.1 303.9 243.7 301.1 242.7 298.3 240 297 237.7 297 235.6 296.3 232.5 300 231.3 302.1 229.5 303.7ZM337.7 356.8 337.9 348.9 335.2 350.1 332.2 350.8 329.6 349.1 326.5 348.8 324.7 351.3 323.3 354.2 326.2 355.4 328.5 357.4 330 360.3 333.2 361.4 335.7 361.6 337.9 360.4 338.7 359.3ZM415.1 302.3 413.9 306.5 414.9 308.1 417.4 308.8 419.9 308.2 421.4 310.4 424 311 426.1 309 427.4 306.4 428.6 300.8 428.2 300 426.6 299.1 421.4 297.7 419.7 298.8 417.7 299.3 416.9 301.2ZM341.5 331.9 343.1 329.8 341.2 327.3 340.1 324.4 337.2 323.7 334.2 324 329.1 327 328.9 329.1 329.6 331.2 329.6 333.5 331.2 335.1 333.9 335 336 336.8 341.2 334.5ZM403.6 435.7 401.5 439.7 399.8 441.1 397.7 442.1 397.6 444.3 396.3 446.2 395.6 448.4 396.2 450.6 396.2 452.9 399.5 456 400.2 464.7 399.5 466.8 401.1 468.6 403.3 469 405.2 467.9 407.3 468 409.2 468.9 410.1 464.2 413.3 460.6 415.9 460.5 418.1 459.1 420.2 457.5 420.7 454.9 422.5 453.1 425.1 452.7 425.3 450.2 426.7 448.1 427.4 445.9 430.7 442.5 431.3 440.3 429.6 435.7 427.9 434 425.5 433.2 421.3 430.9 418.9 431.1 416.6 432 410.5 435.4 407 434.8ZM371.8 353.4 369.3 351.4 366.3 352.6 363.1 352.4 362.8 353.4 363.4 355.3 365.1 356.2 366.2 357.7 368 365 369.7 366.1 372.7 366.2 377 362.3 378.7 360 376.9 354.6 375.1 353.6ZM217.5 351.8 218.8 350.2 220.1 346.4 218.3 345.1 216.9 338.9 213.7 335.9 212.9 333.7 213.1 331.4 211 330.9 209.3 329.6 208 327.8 206.1 326.8 202.7 326.1 199.6 324.6 199.5 327.6 196.8 332.8 194 334.1 192.2 339.4 188.6 343.6 188.7 347.8 189.5 349.9 193.5 351.3 197.7 355.7 202.6 355.3 207.5 356.1 209.5 354.3 211.9 353.2 214.4 354.3 217.1 353.9ZM302.9 247.2 304.9 249 307.4 250.1 310.1 249.7 311.9 248.2 315.1 242.1 310.9 240.2 308.4 240.2 306.7 238.4 303.6 241.7 302.7 244 300.6 245.1 300.5 246ZM197.9 258.9 198.6 256.1 196.4 255.9 192.7 253.3 190.4 253.5 189.3 254.3 189.6 256.7 189.2 259.1 187.9 261.2 186.2 263 187.8 264.1 188.6 265.8 192.4 267 196.1 265.8 198 263.9 199.2 261.5ZM370.1 411.8 364.3 412.4 362.2 415.6 358.7 417.3 358.1 419.9 358.5 422.6 358.4 425.2 357.3 427.7 359.4 429.5 361.9 430.7 364.7 431 367.4 430.4 369.7 431.8 371.3 434 375.9 436.6 376.8 434.8 376.5 432.8 378.1 431.8 379.4 430.3 383.2 429.8 385.7 426.7 384.9 425 385.2 423 384.3 421.3 384.6 419.4 382.4 419.6 380.4 418.6 378.1 418.7 373.1 414.4 373 412.1 371.5 410.4ZM524.8 403.6 526.8 406.6 528.5 400 533.4 397.1 536.9 390.1 535 389.8 532.1 387.7 529.7 391.8 530.4 396.5 528.6 398 527.7 400.1 526 401.6ZM379.3 298.3 376.4 292.8 372.1 288.1 369.5 288.8 367.8 290.9 364 294.3 364.1 294.9 366.7 296.8 369.6 297.9 370.9 300.8 372.9 303.2 373.4 300.9 375.2 299.6ZM372.1 397.3 376.4 391.7 376.6 389.7 375.9 387.9 373.3 386.8 370.5 386.4 369 384 366.4 382.6 363.5 384.3 362.4 387.6 359.7 389.3 357.6 391.7 358.3 393.9 360.2 394.3 363.9 393.4 365.7 393.5 367.1 394.9 370.8 395.8ZM396 365.1 397.2 361.2 397 359.1 397.7 357.1 395.7 355.3 393.1 354.6 390.5 355.6 387.8 354.7 385.6 355.2 382.2 360.6 383.7 364.6 386 368.4 388.6 367.1 391.4 367.8 393.8 366.7ZM381.3 298.3 385 302.8 386.9 303.5 388.6 302.2 390.8 302.2 391.9 300.4 393.6 299.2 394.8 296.3 395 293.1 392 291.6 390.8 288.5 388.9 289.2 386.9 288.7 385 290.9 382.7 292.7 381.3 295.3ZM271.1 240.2 273.6 241.8 276.5 242.7 279.4 241.8 282.2 240 282.2 235 280.5 232.5 280 229.4 277.5 227.5 272.1 227 272.5 230 271.7 232.9 269.7 235.2 269 238.2ZM404.2 416.1 403.1 414.5 401.5 415.7 399.6 415.9 394.1 414.6 390.3 410.4 388.9 415.8 387.1 418 384.6 419.4 384.3 421.3 385.2 423 384.9 425 385.7 426.7 391.9 428.9 395.2 428.4 398.5 428.5 399.2 425.6 400.8 423 401.5 419.9 404.1 418.1ZM243.8 217 246 215.8 246.8 215.3 242.5 216.1ZM441 265.7 441 263.1 439.6 255.5 437.1 254.6 434.9 253 433.8 255 431.9 256.3 427.4 256.9 428.1 258.9 429.8 260.2 430.9 262 430.8 264.2 432.9 265.6 435.3 266.4 437.8 266.6 440.4 266.5ZM337.6 316.2 340.7 316.6 341.8 314.6 342.2 312.2 344 308 342.3 306.2 341.4 303.9 338.9 302 335.8 302.2 334.5 305.4 331.7 310.1 332.3 312.1 333.9 313.3 334.9 315ZM467.9 411.2 466.3 413.4 463.7 414.1 461.7 415.9 462.6 420 461.3 424 463.1 425.1 465.6 428.3 466.5 430.2 467.8 428.7 468 426.7 471 424.4 474.5 423.4 477.7 421.5 478.3 418.7 478.3 415.9 476.4 413.9 475 411.4 472.6 411.3 470.5 410.3ZM351.9 359 353.3 360.3 356.4 359.9 361.7 356.5 363.1 352.4 362.9 350.5 359.1 349.7 357.7 348.2 355.8 344.8 350.4 343.1 349.2 345.2 347.1 346.5 346.1 349.7 346.3 353 347.4 356.2ZM399.9 373.5 395.8 376 393.4 376.1 391.1 376.8 390.9 379.6 389.5 382 391.3 385 394.1 384.2 396.9 385.3 399.7 385.5 402.5 385.1 403.2 382 402.9 378.9 400.4 376.8ZM372.8 240.3 376.1 237.9 376.2 235.7 377.5 234 376.3 232.2 376.5 230 374.9 228.5 374.5 226.4 367.5 227.7 365.4 230.2 366.8 232.8 368.8 235 369.7 240.9ZM390.7 272.2 389 274.7 390.2 276.4 393.5 278.8 394.5 280.6 398.1 279.8 402.7 272.8 398.5 268.1 391.5 269.2ZM159.7 278.6 160.4 276.1 162.2 274.3 162.4 272.9 158.3 275.1 158.3 279.9ZM342.4 233.5 344.5 230.8 340.7 227 340.1 224.4 340.2 221.7 337.9 222.1 336.5 224 334.1 223.8 332.2 225.1 332.6 227.7 331.2 229.8 331.7 232.2 332.9 234.3 335.9 235.1 337.6 237.6 340 236.7 342.6 236.9ZM426.3 387.3 427.7 390.9 427.8 392.8 427.2 394.6 428.4 396.4 432.9 397.5 435.1 396.5 437.4 396.2 437.9 393.7 439.7 392 440.7 389.7 439.8 387.3 437.6 384.8 434.6 383.4 432.3 384.7 431.3 387.1ZM215.9 238.5 210.8 240.3 212.2 245.8 212.1 248.8 210.1 251 213.2 250.8 219.3 248.9 222.4 249.7 221.7 244.6 220.1 242.5 219.7 239.8 217.8 238.4ZM325 442.8 320.6 443.6 318.5 442.9 317.2 444.9 312.9 446.8 310.6 446.1 309.5 444 307.7 442.6 303.1 442.1 300.9 442.6 296.9 440.7 294.8 440.2 289.8 442.5 288.8 445.2 286.4 446.8 285.6 449.4 286.1 452.1 284.9 454.7 285.1 457.4 283.2 459.4 278 459.9 275.8 461.2 273.3 465.9 271 467.5 268.2 467.7 269.4 469.3 269.4 471.2 270.6 472.6 272.4 473.2 272.5 480.1 274.1 483.2 274.6 486.6 272.9 489.7 272.4 493.2 275.4 493.5 278 495 281.7 499.6 284.3 497.7 287.4 497.1 293.1 499.4 295.2 497.1 296.7 494.4 299.9 493.7 302.2 491.5 307.2 488.2 311.4 483.8 314.5 482.7 317.6 483.8 320.8 483.2 323 480.7 326.3 480.3 328.8 478.1 335 479.5 336.7 477.9 336.8 473.3 338.2 469.5 338.1 467.5 338.7 465.8 339.9 464.4 339.2 462.5 337.6 461.3 338.1 459.4 337.5 457.5 335.8 456.6 334.9 455 333 454.4 332 452.7 331.7 450.8 330.6 449.2 331 445.5 326.9 441.8ZM419.8 265.8 418.8 263.8 419.4 259.4 417 258.9 414.5 259.2 412.2 258.1 410.6 256.3 409.6 258 408 259.1 408.1 262.4 409.7 265.3 409.4 268.6 410.2 271.8 412.7 270.5 414.1 268.2 419.4 268.1ZM234.9 228.6 235.4 231.1 233.5 232.7 232.2 234.9 232.7 236.6 235.5 237.1 238.2 236.4 240.7 235 243.6 234.9 243.7 232 245.8 230 244.4 227.4 242.2 225.5 240.4 224.7 235 226.1ZM379.3 298.3 375.2 299.6 373.4 300.9 372 309.4 374.2 310.4 375.1 312.7 379.6 313 382.5 312.3 384.9 310.6 387 308.3 386.9 303.5 385 302.8 381.3 298.3ZM399.8 304.5 394.8 312.9 395 313.9 397.3 314.2 402.2 313.9 404.2 315.4 405 313.2 407.1 312 406.6 309.8 407.4 307.6 404.5 306.5 402.7 304ZM472.8 476.2 475.4 478.6 479 478.6 482.1 480.4 484.5 482.9 486.4 485.8 484.1 479.9 484.7 476.7 488.3 471.5 490.6 469.6 492.3 467 493.3 460.9 494.9 458.2 497 455.9 499.6 454.1 502.6 453.2 506.9 453.2 510.2 447.3 508 444.5 504.4 443.9 503.2 442.5 501.6 441.7 498.2 441.3 494.8 441.8 492.2 441.2 489.4 444.5 488 462 478.6 471.4 472.7 474.8ZM352.8 368 350.6 369.4 350 371.8 348.6 373.9 350 375.3 350.5 377.3 354.4 376.1 358.2 377.6 359.8 376.2 361.8 375.9 363.8 376.9 365.8 376.2 367.8 374 369 371.2 368.7 369.8 366.7 369.1 364.6 369 363.4 367.3 359.4 365.6 357.6 364.3 355.7 365.5 353.5 365.5ZM350 204.9 351.4 203.1 350 201.4 349.7 199.2 349 198.3 344.5 197 336.5 191.9 333.9 194 333.7 195.9 334.7 199.5 338.2 203.9 338.7 205.7 338.5 207.6 340.8 205.7 343.8 205.4 346.7 205.9 349.4 207.1ZM400.4 376.8 402.9 378.9 403.2 382 402.5 385 405.7 384 413.8 378.4 413.8 376.2 414.4 374.2 412.2 373.6 408.7 370.7 403.4 370.1 400.9 371.7 399.9 373.5ZM293.2 212.8 293.7 215.6 295.3 217.8 296.4 220.3 299.9 222.1 301.7 221.7 304.7 219.5 306.5 219 309.6 214.4 310.4 211.5 307.6 204.6 305.5 205.5 301.2 204.2 299.1 204.3 297.4 207.8 295.8 208.8 294.5 210.2ZM347.4 356.2 346.3 353 346.1 349.7 347.1 346.5 344.9 346.1 340.9 347.9 338.7 348.1 337.9 348.9 337.7 356.8 338.7 359.3 344.3 357.5 350.2 358.3ZM423.7 274.1 422.1 278.7 420 280.1 420.9 283.3 423.3 285.6 427.8 284.5 430 285.3 432.3 285.2 432.8 282.7 434.2 280.5 433.9 278.2 431.7 276.3 428.8 276 427.7 273.3 425 272.1ZM334.1 223.8 336.5 224 337.9 222.1 340.2 221.7 338.4 219.4 337.2 216.7 337.7 213.8 336.7 211 333.8 211.6 330.9 210.6 328.3 211.8 325.4 212.4 323.9 214.9 326 217.8 325.7 221.4 332.2 225.1ZM367.7 273.9 366.9 270.9 363.8 271.9 360.8 270.5 356.4 266.3 353.2 270.1 353.8 272.7 352.7 275 354.8 280.9 356.3 282.4 358.9 280 365.8 278.6 369 277 369.2 276.5ZM186.5 275.8 179.8 275.5 178.5 278.3 173.5 281.3 172.1 283.9 173.9 285.1 175 287 175.9 291.2 177.8 291.8 179.7 291.4 180.8 289.7 184.4 288.3 188.1 289.1 189.6 290.3 191.6 284.7 189.7 281.1 188.1 280 188.3 277.9ZM409.3 297 412 297.8 415.1 302.3 416.9 301.2 417.7 299.3 419.7 298.8 421.4 297.7 420.9 295.9 419.5 294.6 419.9 292.7 419.3 290.9 416.6 289.2 413.4 289.4 412.5 291.3 411 292.8 408.9 293.3 407.4 294.8ZM380.7 260.6 380.3 255.8 379 253.8 376.9 252.5 375.3 250.8 373.3 250 371 249.7 369 250.7 366.7 253.4 365.3 256.7 368.7 262.3 375.9 262.6 378 261.3ZM249.8 269.9 247.1 265.4 246.6 262.7 244.6 260.8 242 261.7 240.7 264.2 238.2 265 235.7 265.1 237.7 266.1 238.8 268.1 239 270.3 239.9 272.3 246.5 273.1 248.7 272.7ZM405 239.3 402.7 241.1 401.9 243.7 399.9 245.6 400 246.5 404.4 250.8 407.5 251.5 410.3 252.8 410.6 250 411.6 247.3 414.6 246.4 416 243.7 413.6 243 412.4 240.8ZM351.1 211.8 358 213.7 360.4 213.4 361.9 210.2 364.9 208.2 364.1 204.7 364.6 201.3 362.7 200.7 354.3 201 351.4 203.1 350 204.9 349.4 207.1ZM405.6 294.9 402.3 292.4 400.4 292.3 398.6 292.9 395 293.1 394.8 296.3 393.6 299.2 395.1 300.6 397.1 301.4 399.8 304.5 402.7 304 403.4 301.4 402.4 298.9 404.6 297.4ZM196.7 455 194.7 449.7 195.7 447 195.1 444.1 192.5 443.1 190.2 441.4 186.7 437 186 431.5 184.6 429 181.9 427.9 180 420.2 178 418.4 173 417.4 168.8 420.1 166.9 421.8 164.4 422 162.1 422.8 159.7 422.8 155.6 420.1 154.1 418 151.9 416.8 147 416 144.6 417 142.1 416.1 135.8 418.1 133.5 420.6 130.8 426.9 127.6 428.1 126.5 431.1 124.1 433.3 123.4 435.9 124.4 441.2 123.6 443.8 124.1 446.5 123.8 447.6 125.1 448.5 132.1 456.6 137.8 467.9 138.9 468.2 139.7 470.5 141.9 471.8 143.4 476 144.8 478 144.7 480.4 146.6 479.5 148.6 479.8 156.6 479.4 158.1 480.5 164.5 474.1 169.9 470.6 174.5 475.5 177.9 473 179.8 469.2 183.8 467.4 185.9 468.1 188 467.9 189.7 464.1 191.3 462.8 193.3 462.1 194.2 458.2ZM209.5 305.3 206.7 310.3 204.7 312.2 201.8 313.3 198 321.1 198.2 323.1 199.6 324.6 202.7 326.1 206.1 326.8 209.6 323.7 211.6 322.6 213.8 321.7 216.2 321.8 218.6 321.2 219.9 319 222.1 317.8 222.1 315.8 217.2 309.5 217 307.5 215.5 306.1 214.9 304.3 212 303.8ZM316 390.3 319.3 394.8 319.6 397.6 322.3 402.5 321 405.1 321.4 408 322.6 408.7 328.3 407.2 329.7 404.5 332.3 402.9 334.4 400.9 334.8 398.1 336.4 395.7 336.2 392.9 331.3 388.6 330.7 386.4 331.1 377.9 328.5 375.7 325.1 375 323.3 379.5 323.2 382 322.1 384.2 317.1 385.3 316 387.8 313.6 389ZM396.4 346.8 395.7 350.2 396.8 351.8 396.5 353.8 398.3 354.5 399.4 356 401.8 356.5 404.1 355.8 406.1 354 407.1 351.5 407.3 348.7 409.4 346.8 407.7 344.4 405.5 342.3 403.2 341.7 398.5 342.4 396.4 343.4ZM332.3 248.7 329.2 247.7 326 247.5 324.8 247.9 323.2 252 321.2 253.3 319.9 257.4 319.8 259.4 322 262.8 324.3 262.1 326.5 263.2 331.9 260.8 332.7 258.9 332.4 256.2 333.6 253.9 334.1 251.2ZM417.5 339.3 413.5 336.8 412 334.8 411.8 332.3 409.3 331.6 406.8 332.4 406.1 334.9 406.6 337.4 405.5 339.8 405.5 342.3 407.7 344.4 409.4 346.8 410.8 345.5 412.6 345.1 414.5 344.9 416.1 346.1 416.7 344.4 417.9 343 418.4 341.1ZM398.5 342.4 403.2 341.7 405.5 342.3 405.5 339.8 406.6 337.4 406.1 334.9 406.8 332.4 406 331.8 403.4 332.9 400.7 332.2 397.8 332.5 395.9 334.6 395.5 336.6 394.4 338.3 394.1 340.3 394.7 342.3 396.4 343.4ZM277.2 205.8 276.2 204.2 276.1 200.5 278.4 197.5 277.8 195.5 278.1 194.4 272.9 199.6 262.1 202.3 259.8 206.9 261.8 206.3 264 206.3 266 207.6 267.2 209.6 269.6 208.9 271.8 210.1 277.1 207.7ZM410.7 403.7 404.1 408 402.2 412.3 404.2 416.1 404.1 418.1 410.3 418 413.1 419.6 416.3 419.8 417.1 419 415.3 416 414.9 412.4 415.3 409 415 405.5 413 405.1 411.6 403.7ZM403.4 370.1 406.4 370.5 407.2 367.4 405.6 364.6 407.2 362.1 407.7 359.1 405.5 357.9 404.1 355.8 401.8 356.5 399.4 356 397.7 357.1 397 359.1 397.2 361.2 396 365.1 397.6 366.5 398.3 368.5 400.9 371.7ZM141.1 413.6 141.6 411 142.7 408.6 144.7 406.9 145.5 402.1 144.9 399.7 145.1 397.3 142.7 396.1 141.3 393.9 140.4 388.8 138.4 384.3 138.8 381.8 138.4 379.3 135.4 378 133.4 375.4 130.3 376.6 127.1 375.7 124.8 369.8 122.8 367 119.5 366.4 116.6 364.6 113.3 363.5 103.2 365.2 100.7 367.5 97.4 367.3 94.1 367.9 93.2 370.2 90.9 371.3 91.4 373.8 88.3 377.6 87.2 379.8 84.8 380.8 82.3 380.5 78.6 383.4 77.5 385.6 76.8 387.9 77.4 392.4 77.2 397 80.9 398.9 85 398.7 86.5 400.4 86.7 402.6 88.2 404.2 90.4 404.6 91.6 406.3 95 408.5 99 408.8 102.7 410.2 104.7 409.9 109.1 413.6 110.9 414.5 112.8 417.9 114.6 418.9 115.8 420.4 117.6 421.6 119.7 422.1 121.8 425.7 123.1 429.4 123.2 431.5 124.1 433.3 126.5 431.1 127.6 428.1 130.8 426.9 133.5 420.6 135.8 418.1 142.1 416.1ZM491.6 396.5 492.3 398.2 496.2 398.5 498.2 398.1 502 399.1 505.5 400.9 507.4 401.1 508.1 400.5 507.9 397.9 509 395.5 506.9 388.6 505.1 387.6 503.6 386.1 499.6 385.2 497.6 385.6 493.6 389.8 492.3 392.4 489.8 394 490 395.3ZM193.7 292.5 191.4 291.9 188.1 289.1 184.4 288.3 180.8 289.7 179.7 291.4 177.8 291.8 175.9 291.2 177.7 297.5 174.6 303.4 169.8 307.4 167.2 313.3 169.4 311.3 178 310.4 179.5 313.2 182.6 314.2 185.6 314.6 188.6 313.8 186.2 308.4 186.7 305.5 189.2 300.1 191.9 299 193.9 297 194.8 294.3ZM350.2 358.3 344.3 357.5 338.7 359.3 337.9 360.4 337.6 363.9 340.1 370.6 343 372.7 348.6 373.9 350 371.8 350.6 369.4 352.8 368 353.5 365.5 352.7 362.9 353.3 360.3 351.9 359ZM350.4 262.4 355.5 263.9 359.9 257.4 359.8 254.8 357.5 249.9 355.3 248.2 352.2 248.6 349.2 248.1 347.8 251.1 344.7 252.4 344.8 254.9 347 256 350.5 259.7ZM162.2 274.3 160.4 276.1 159.7 278.6 163.2 278.7 166.1 280.7 169.3 281.9 172.1 283.9 173.5 281.3 178.5 278.3 179.8 275.5 178.1 271 177.9 268.3 175.9 266.6 173.1 266.2 170.4 268.4 162.4 272.9ZM337.1 209 338.5 207.6 338.7 205.7 338.2 203.9 334.7 199.5 333.7 195.9 333.9 194 331.3 196.3 327.9 196.1 321.9 198.3 324 205.2 325.4 206.7 326.1 208.5 325.4 212.4 328.3 211.8 330.9 210.6 333.8 211.6 336.7 211ZM224.8 363.1 221.6 358.8 220.5 356.4 217.1 353.9 214.4 354.3 211.9 353.2 209.5 354.3 207.5 356.1 202.6 355.3 197.7 355.7 196.1 357.2 194 357.7 192.5 361.5 193.5 363.4 191.8 369.3 190.5 371.1 190.1 373.2 188.6 374.8 186.5 375.2 185.9 377.2 185.9 379.2 187 381.1 186.4 383.2 187.8 386.1 190.9 387.4 192.2 390.3 191.9 393.5 198.5 393.6 200.3 392.2 202 393.9 204.4 394.1 206.5 393.2 208.8 393.3 210.3 391.8 213.4 388.8 213.9 386.6 212.7 384.6 213 382.3 214.7 380.6 214.5 375.9 215.3 373.8 216.8 372.1 220.4 369.6 221.5 367.7 223.1 366.2 225.3 365.8ZM390.6 249.4 392.7 249.3 394.7 250 396.4 251.3 397.7 248.5 400 246.5 399.2 243.7 394.9 239.3 389 239.7 387.2 240.4 385.8 242.1 385.3 244.2 387.3 247.1 388.7 250.4ZM346.3 288.8 348.1 286.2 345.3 286 342.9 284.4 342.4 281.6 340.4 279.6 336.4 281.6 335.5 285.6 337.3 286.5 338.4 288.1 338.4 290.1 339.4 291.8 342.3 291.3 345.1 291.8ZM206.2 250.8 209.3 251.9 212.1 248.8 212.2 245.8 210.8 240.3 209.8 239.9 200.3 244.3 201.2 246.1 201 249.5 203.1 252.1ZM274.9 285.6 273.9 283.3 271.8 283.7 269.8 283.1 267.7 283.5 265.9 284.7 266 286.8 265.1 288.8 263.3 290 262.2 291.9 264.5 292.6 266.5 294.2 271.4 293.7 276.9 287.1ZM441.1 318.5 445.3 319.5 449.2 317.7 450.9 316.3 451.5 314.2 453.7 313.7 454.9 311.9 451.4 311.8 448.7 309.5 444.6 304.3 442.3 306 441.4 308.9 438.6 313.8 440.5 315.8ZM363.1 352.4 366.3 352.6 369.3 351.4 371.8 353.4 375.1 353.6 377.2 350.9 378 347.6 377.2 344.6 375.6 342 370.9 344.5 368.1 343.9 365.6 345.5 364.7 348.3 362.9 350.5ZM528.5 366.6 526.2 372 526.1 374 525.1 375.9 525.2 378 526.8 381.8 528.3 383.2 528.9 385.2 530 387.1 532.1 387.7 535 389.8 536.9 390.1 546.9 370.2 550.4 361.4 548.4 358.1 545.1 356 543.3 356.9 541.3 356.3 540 358.3 540 360.6 534.7 364.7 530.5 365.6ZM401.5 419.9 400.8 423 399.2 425.6 398.5 428.5 401.4 431.9 402 434.1 403.6 435.7 407 434.8 410.5 435.4 416.6 432 416 428.8 414.5 425.9 415.8 423 416.3 419.8 413.1 419.6 410.3 418 407.2 417.8 404.1 418.1ZM217.8 238.4 217.7 232.2 216.3 234.7 209.8 239.9 210.8 240.3 215.9 238.5ZM334.1 251.2 333.6 253.9 332.4 256.2 332.7 258.9 334.9 261.1 338 261.3 340.1 259.7 340.4 257 342.9 256.7 344.8 254.9 344.7 252.4 341.6 248.6 335.3 247.3 332.5 248.9ZM440 364.9 442.4 361.6 443 357.6 439.5 356.3 438.7 354.5 436.8 353.7 433.9 355.8 430.3 356.1 430.3 360 428.9 361.4 428.3 363.3 429.6 364.6 430.1 366.4 433.6 367.6ZM424.2 313.3 425.8 315.1 428.5 314.4 430.5 312.6 433.2 313.6 435.9 312.5 434.4 310.2 431.9 302.6 428.6 300.8 427.4 306.4 426.1 309 424 311ZM351.1 211.8 349.4 207.1 346.7 205.9 343.8 205.4 340.8 205.7 337.1 209 336.7 211 337.7 213.8 337.2 216.7 338.4 219.4 340.2 221.7 344.6 220.5 346.4 219 348.8 218.6 349.8 217 349.7 215.1ZM364.6 201.3 364.1 204.7 364.9 208.2 361.9 210.2 360.4 213.4 360.9 215.9 362.8 217.8 365.9 216.3 367.7 213.4 370.9 214.7 374.2 213.8 375.2 212.1 371.8 210.2 371.4 208.3 370.3 206.6 369.7 204.7 368 203.7 368.1 201.7 367.4 200.4 365.7 200.5ZM353 324 358 324.2 362.9 325.5 364.8 324 365.6 321.8 365.1 318.8 362.3 316.1 359.1 314.2 356.8 311.2 355 310.4 353.9 312.8 353.9 315.5 352.7 317.8 350.4 319.3 352.2 321.4ZM299 249.8 300.2 251.6 300.5 255.6 305.5 258.6 307.5 258.5 311.4 253.6 310.1 249.7 307.4 250.1 304.9 249 302.9 247.2 300.5 246 299.3 247.7ZM262.4 327.9 262.7 325.4 261.4 323.3 261.3 320.9 258 320.2 254.8 321.5 249.6 317.6 248.7 321.2 249.6 324.1 248.7 327 249.4 330 252.1 331.5 255.1 331.9 258 331.3 260.7 329.8ZM422.5 258.3 425.1 256.1 424.7 253.5 423.2 251.3 423.2 248.6 422.4 246.1 419 245.8 416 243.7 414.6 246.4 411.6 247.3 410.6 250 410.6 256.3 412.2 258.1 414.5 259.2 417 258.9 419.4 259.4ZM282 311.8 280.8 314.8 283 317.2 288.4 314.9 291.2 316 294.2 315.8 292.7 313.8 292 311.3 292.1 306.3 289.4 306.5 287.2 304.9 281.9 307.1 280.9 308.7ZM395 313.9 392.2 307.6 390 305.4 386.9 305.2 387 308.3 384.9 310.6 382.5 312.3 379.6 313 380.6 316.4 382.2 319.5 385 319.7 387.1 317.9 389.7 317.8 392.1 318.8ZM432.3 287.8 434 289.6 436 290.4 437.5 291.9 439.7 291.4 441.6 292.6 444 291.5 447.8 284.8 446.6 281.8 440.5 280.5 434.2 280.5 432.8 282.7ZM344.1 242.5 346.2 245.3 343.5 251.2 344.7 252.4 347.8 251.1 349.2 248.1 352.2 248.6 355.3 248.2 355.3 245.4 357.2 243.4 355.8 240.7 353.5 238.6 347.4 238.2 344.5 239ZM320.1 330.1 317.1 331.7 319.2 333.2 320.9 335.1 321.5 340.2 324.6 341.4 326.8 337.1 331.2 335.1 329.6 333.5 329.6 331.2 328.9 329.1 329.1 327 328.3 326.2 326.4 326.3 324.9 327.5 323 327.5 321.3 326.9ZM320.2 271.2 320.8 274 325.2 277.6 327.2 276.6 329.3 276.9 329.8 272.8 331.5 271.5 332.4 269.5 330.8 265.1 329 263.4 326.5 263.2 324.3 262.1 322 262.8 321.2 265.3 318.9 266.6 318.9 268.5ZM257.9 249.5 259.2 248.1 258.5 244.4 255.2 243.6 253.4 240.8 250.7 242.4 247.7 241.9 245.5 247.2 246.8 250.2 249.4 251.9 251 254.7 252.1 254.8 254.2 252.5 257.1 251.3ZM417.6 220.4 420.1 222.3 425 222.1 427.2 223.1 428.6 221.4 429.4 221.2 426.7 219.9ZM267.9 385.9 264.9 385.7 262.7 383.7 256.6 383.7 253.8 384.8 248.6 381.6 248.6 386.1 246.8 387.7 246.2 390 244.1 391.2 241.8 391.2 240.1 392.8 238.9 394.8 239.9 399.2 239.6 401.4 240.3 403.6 239.7 405.9 236.2 408.9 235 410.8 238.9 417.8 240.8 419.1 241.8 423.4 241.3 425.5 242.9 423.3 245.7 422.8 247.6 418 249.6 416.2 252.3 416.3 254.2 414.6 256.8 414.3 258.9 412.8 264 412.2 266.3 413.2 268.5 412 271 412.1 275.6 410.5 277.3 404.6 275.2 402 275.3 398.7 272.4 397.2 271 394.2 271.2 391 270 388.1ZM384.6 235.4 386.2 230.9 388 229.1 388.3 226.6 386.4 224 383.5 223.8 380.7 224.7 377.8 224.5 375.1 225.5 374.5 226.4 374.9 228.5 376.5 230 376.3 232.2 377.5 234 379 235.2 380.9 235.2 382.7 236ZM384.8 205.6 379.2 209.7 378 211.8 378.6 215 380.9 217.2 383.8 218.4 386.8 219.1 389.5 218.7 391.7 217 392.5 214.4 394.7 212.7 395.1 211.5 393.3 208.9 387.4 207ZM222.4 249.7 219.3 248.9 213.2 250.8 210.1 251 209.3 251.9 209.6 254 209.4 256 211.9 259.2 213.9 258.7 217.1 261.3 219.2 261.3 219.3 258.5 222.7 254.1 223.3 251.4ZM264.7 312.9 261.9 311.4 260.1 309 257.7 307.3 256.4 310.4 253.5 312.3 252.5 315.6 249.6 317.6 254.8 321.5 258 320.2 261.3 320.9 266.4 316.3ZM343.1 329.8 350 329 350.8 326 353 324 352.2 321.4 350.4 319.3 348.3 319.5 344.2 318 342 318.8 341.7 321.8 340.1 324.4 341.2 327.3ZM340.7 276.5 343 274.5 343.1 271.6 341.2 269.4 339 268 332.4 269.5 331.5 271.5 329.8 272.8 329.3 276.9 336.4 281.6 340.4 279.6ZM291.7 338.2 287.8 338.5 286.1 339.8 284.1 339.7 283.2 341.8 283 344.1 283.2 346.1 284.4 350 286.1 351.2 288.7 350.4 291.3 350.9 293.1 353 295.9 353.2 298 350.7 298.8 346.1 298.3 343.9 296.4 342.6 295.5 340.5 294 338.7ZM454.8 413.7 454.5 416.5 451.7 421.5 449.5 423.3 450.5 426.5 453.3 428.5 455.4 431.2 455.4 434.6 457.8 434.9 462.6 434.1 465 434.5 466.1 432.5 466.5 430.2 465.6 428.3 463.1 425.1 461.3 424 462.6 420 461.7 415.9 460.4 414.6 456.9 413.1ZM519.8 381.8 517.6 382.3 516.4 384.3 514.3 385.3 513 387.2 510.8 387.7 509.6 389.6 507.6 390.6 509 395.5 507.9 397.9 508.1 400.5 510.4 401.6 511.3 403.9 518.2 405.8 520.4 404.9 522.4 403.5 524.8 403.6 526 401.6 527.7 400.1 528.6 398 530.4 396.5 529.7 391.8 532.1 387.7 530 387.1 528.9 385.2 528.3 383.2 526.8 381.8ZM466.9 403.1 462.1 402.5 457.4 403.7 456.2 406.1 456.7 408.8 455.5 411 455.1 413.6 456.9 413.1 460.4 414.6 461.7 415.9 463.7 414.1 466.3 413.4 467.9 411.2 470.5 410.3 469.6 408.2 467.5 407.3ZM486.3 409.8 483.9 409.5 482 407.9 479.5 407.8 475 411.4 476.4 413.9 478.3 415.9 477.7 421.5 480.5 422.3 483.5 421.8 485.6 423.8 488.4 425 490.9 420.4 495.5 418 493.8 412.3 491 411.3 488.7 409.3ZM353.5 405.9 352.6 403.9 353.5 401.9 355.4 400.9 356.6 399.2 356.3 397.2 357.7 395.8 358.3 393.9 357.6 391.7 353.6 389.4 352.7 387.2 350.6 385.9 348.5 386.4 346.8 387.6 344.7 387.2 342.6 387.8 341.8 389.8 338.2 392.2 336.2 392.9 336.4 395.7 334.8 398.1 334.4 400.9 332.3 402.9 334.6 404.3 342.3 406.1 347.3 408 350 407.3 352.7 408ZM207.6 265 209 261.6 211.9 259.2 209.4 256 209.6 254 209.3 251.9 206.2 250.8 203.1 252.1 201.3 254.7 198.6 256.1 197.9 258.9 199.2 261.5 206 263.3ZM384 339.7 385.3 341.6 389.6 343.5 392.1 342.5 394.7 342.3 394.1 340.3 394.4 338.3 395.5 336.6 395.9 334.6 393.6 333.1 392.3 330.6 389.4 331.9 386.3 331.6 385.5 334.9 383.2 337.5ZM471.2 314.5 465.3 317 468.3 318.4 470 321.2 472.7 330.4 471 336.6 468.8 339 470.1 339.9 474.1 337.5 476.5 337.2 478.6 338.4 481.7 336.6 483.3 333.4 485.4 330.5 485.5 327 484.6 324.7 484.7 322.2 481.1 319 478.7 318.6 475.6 314.9 473.3 314.3ZM484.7 359.2 482.2 363.7 480.4 365.6 479.4 368 480.8 371.1 483.8 372.7 486.2 372.5 488.1 373.9 492.4 372.7 492.9 370.5 492.5 368.3 494.9 364.7 493.1 362.4 490.2 362 485.5 359.2ZM416.3 419.8 415.8 423 414.5 425.9 416 428.8 416.6 432 418.9 431.1 421.3 430.9 425.5 433.2 427.9 434 429.6 435.7 431.3 440.2 430.9 438 431.2 435.8 429.7 431.8 430.9 429.8 430.7 427.4 432.8 426.4 434.3 424.6 431.7 423.5 427.5 419.8 426.3 417.3 421.5 417.1 419.5 418.6 417.1 419ZM379.6 274.3 381.9 267.7 380.4 260.9 378 261.3 375.9 262.6 373.4 262.3 371 262.7 367.7 266.2 367.9 268.7 366.9 270.9 367.7 273.9 369.2 276.5 374.1 274 376.9 273.7ZM395 293.1 400.4 292.3 402.3 292.4 402.6 288.5 403.6 284.7 400.6 282.6 399.7 280.9 398.1 279.8 394.5 280.6 392.7 287.2 390.8 288.5 392 291.6ZM310.1 249.7 311.4 253.6 313.3 255.1 318 256.1 320.4 255.4 321.2 253.3 323.2 252 324.8 247.9 322.1 246.8 319.2 246.5 318 243.7 315.5 242 311.9 248.2ZM303.3 369.5 302.2 376.2 300.6 379.4 301.1 382.9 304.7 383 306.3 384 308.2 384.1 309.4 385.6 312.7 387.3 313.6 389 316 387.8 317.1 385.3 322.1 384.2 323.2 382 323.3 379.5 325.1 375 322.5 372.3 320.2 372.7 318.2 373.6 316 372.7 313.7 372.8 309.8 370.7 306.3 368.1ZM405.1 225.1 406.9 228.8 406.5 230.8 408.8 229.5 411.5 229.9 414 229.4 416.5 230.3 415.6 225.4 417.4 223.6 418 221.1 417.6 220.4 413.2 220.7 409.9 218.4 406.3 221.3 405.3 223.1ZM258 331.3 255.1 331.9 252.1 331.5 249.4 330 247.8 331.8 247.5 336.2 250.3 339.6 251.4 343.6 252.9 345.1 253.6 347.1 255.9 347.2 257.4 346 259.2 345.4 259.5 343.5 261 342.2 262.1 336.3 261.2 330.4 260.7 329.8ZM399.7 385.5 396.9 385.3 394.1 384.2 391.3 385 389.7 386.9 389.8 389.4 388.6 391.5 388.7 393.9 390.8 394.1 395 395.6 396.3 397.4 397.2 395.2 399.2 394 401.5 393.9 403.4 392.5 404.2 390.2 402.5 385.1ZM248.2 228.4 243.7 232 243.6 234.9 245.1 236.4 245.9 240.6 247.7 241.9 250.7 242.4 253.4 240.8 255.2 239 256.3 236.8 256.2 231.8 253 231.3 251 228.8ZM485.6 423.8 483.5 421.8 480.5 422.3 477.7 421.5 474.5 423.4 471 424.4 468 426.7 467.8 428.7 466.5 430.2 466.1 432.5 465 434.5 465.3 437.7 474.6 437.7 486 431.4 486.6 430.4 486.8 426.3 488.4 425ZM395.2 428.4 391.9 428.9 385.7 426.7 383.2 429.8 379.4 430.3 378.1 431.8 376.5 432.8 376.8 434.8 375.9 436.6 376.8 439.4 378.4 441.8 378.7 444.7 377.8 447.5 378.4 450.5 380.9 452.2 381 457.9 383.7 458.8 385 461.4 390 463 392.1 464.7 397.3 465.4 399.5 466.8 400.2 464.7 399.5 456 396.2 452.9 396.2 450.6 395.6 448.4 396.3 446.2 397.6 444.3 397.7 442.1 399.8 441.1 401.5 439.7 403.6 435.7 402 434.1 401.4 431.9 398.5 428.5ZM430.1 340.1 428.5 338.6 427.5 336.6 425.5 335.6 421.7 337.9 419.3 337.8 417.5 339.3 418.4 341.1 417.9 343 416.7 344.4 416.1 346.1 419.7 349.6 424.4 349.5 426.3 347.1 429 345.8 430.2 343.1 432.1 340.8ZM465.7 258.3 467.1 255.4 466.3 253.5 463.1 252.2 460.8 249.7 459.8 246.4 457.5 243.9 455.6 246.3 453.1 248 450.1 248.6 447.4 250.1 447.2 251.1 450.2 253.7 451.1 257.6 452.8 258.8 454.9 258.8 456.5 257.6 458.5 257.1 463.8 258.5ZM361.8 304.1 364.1 294.9 364 294.3 361.2 294 359.3 292 354.9 294.3 353.3 296.4 351.3 297.9 350.8 301 355.6 308.6 358 308.2ZM403.6 405.2 400.6 405.6 397 401.3 395.7 407.2 392.6 407.9 390.6 410.3 394.1 414.6 399.6 415.9 401.5 415.7 403.1 414.5 402.2 412.3 404.1 408 406.1 406.9ZM249.8 374.1 254.3 366.9 262.8 366 264.9 363.9 265.7 359.1 262.7 353.7 262.6 351.6 260.9 350.4 259.9 348.5 257.7 348.5 255.9 347.2 253.6 347.1 251 348.2 248.7 349.7 246.9 352.1 247.2 355.1 246.6 358 247.8 360.7 245.9 366.1 243.1 367.2 241.6 369.8 243 371.2 245 371.8 245.5 373.9 247.2 375.3ZM280.7 210.7 287.6 209.4 291 210.5 294.5 210.2 295.8 208.8 297.4 207.8 299.1 204.3 299 202.3 297.8 200.7 294.7 198.3 294.1 197 289 197 278.2 194.3 277.8 195.5 278.4 197.5 276.1 200.5 276.2 204.2 277.2 205.8 277.1 207.7 279.4 208.6ZM306.9 297.2 307.2 300.4 308.3 302.4 314 305.3 316.3 304.7 318.2 303.2 315 298.8 314.5 296 315.8 293.4 313.8 292.7 311.7 293.5 309.6 293.2 307.7 294.1ZM173.1 266.2 175.9 266.6 178.1 265.2 179.7 263.1 180.7 260.4 180.4 259.8ZM282.2 263.3 284.6 261.7 283.9 258.9 285.2 256.3 282.8 256.3 280.7 255.1 277.2 251.9 276.1 257.8 273.1 258.9 271.6 261.7 272.8 264 275.1 264.4 276.4 266.2 280.6 266.5 281.4 266.1ZM279.1 288 276.9 287.1 271.4 293.7 271.9 296 273.7 297.3 274.9 301.4 278 300.5 280.7 298.8 282.3 296 284.6 293.8 281.9 291.5 281.3 287.9ZM287.8 240 290.2 239.9 294.5 237.9 295.2 234.8 293.6 232.7 291.2 232 290.3 229.6 288.6 227.8 286.5 229.4 286.1 232 283.6 232.8 282.2 235 282.1 237.5 282.2 240 284.1 240.4 285.7 241.3ZM455.5 411 456.7 408.8 456.2 406.1 457.4 403.7 455.5 401.4 454.4 398.6 448.1 396.2 445.9 397.2 444.2 398.5 443 400.4 443 402.4 442.3 404.2 442.5 408 444.4 408 446 409.1 448.1 412.1 451.4 413.1 455.1 413.6ZM306.3 368.1 309.5 365.7 310.2 363.8 313.5 361 314.2 356.7 313.4 354.6 312.1 352.8 310 352.6 308 353.2 306.4 354.6 302.2 355.2 298 354.1 296.5 352.4 295.9 353.2 294.2 359 295.9 361.5 296.8 364.5 300.1 366.9 302.2 367.6 303.3 369.5ZM427.6 236.2 428.6 240.4 429.8 242.2 432.5 242.7 434.7 244.3 437.9 243.6 440.7 241.6 440.9 238.9 442.8 236.9 440.9 235.4 438.4 235.3 438 232.9 436.2 231.2 430.7 233.8 428.7 234.2ZM230 272.1 230.9 269.5 230.6 266.7 231.9 264.3 231.7 264 229.1 262.1 226 261.3 223 262.8 219.7 262.3 220.1 265.5 218.5 268.4 220.2 269.8 222.7 273.7 225 274.4 227.6 273.6ZM311.4 253.6 307.5 258.5 308.8 261.1 308.2 263.9 311.2 264.5 313.1 267 316 266.5 318.9 266.6 321.2 265.3 322 262.8 319.8 259.4 320.4 255.4 318 256.1 313.3 255.1ZM409.8 272.4 402.7 272.8 398.1 279.8 399.7 280.9 400.6 282.6 403.6 284.7 405.5 284.3 407 283.3 410.7 282.5 411.8 280.8 412.2 278.9 411.6 277.1 412.2 275.2ZM206.1 281.4 204.1 281.1 202.6 279.8 200.7 279.1 200.3 281.2 197.6 284.5 195.4 284.8 196.1 289 194.5 290.5 193.7 292.5 194.8 294.3 197.8 293.7 203.2 296.5 206.3 295.8 210.1 293.2 211.2 291 210.9 288.6 209.8 286.9 208 281.1ZM207.6 266.9 207.6 265 206 263.3 199.2 261.5 198 263.9 196.1 265.8 199.1 274.7 202 274.3 204.3 272.5 205.7 269.9 208.4 268.6ZM301.2 204.2 305.5 205.5 310 203 313.9 198.9 315.7 196.7 313.3 191.1 307.9 192.9 302.5 197 294.1 197 294.7 198.3 297.8 200.7 299 202.3 299.1 204.3ZM323.3 283.3 324.1 289 326.6 290.7 329.3 290.3 331.1 288.2 333.8 287.7 335.5 285.6 336.4 281.6 329.3 276.9 327.2 276.6 325.2 277.6 323.4 280.5ZM210.8 279.2 208 281.1 209.8 286.9 210.9 288.6 213.5 287.2 216.4 288 219.2 287.8 221.8 286.8 221 283.5 221.3 280.1 219.3 278.7 215 276.2 212.5 276.3ZM378 347.6 382.7 347.1 385.1 347.7 386.6 349.7 387.3 346.2 389.6 343.5 385.3 341.6 384 339.7 383.2 337.5 380.2 338.4 377 338.6 376.1 340.2 375.6 342 377.2 344.6ZM189.3 254.3 190.4 253.5 190.4 250.2 186.9 253.3ZM236.5 332.7 237.7 326.8 237.3 323.8 238.6 321.1 234.4 318.1 233.9 315.5 232.3 313.5 230 314.3 226.6 317.6 224.2 318.3 228.5 327.7 228.7 331.2 232.4 332.9 234.4 332.1ZM326.4 294.5 328.6 297.2 331.2 299.3 334.5 299.9 336.1 297.9 338.2 296.6 339.4 291.8 338.4 290.1 338.4 288.1 337.3 286.5 335.5 285.6 333.8 287.7 331.1 288.2 329.3 290.3 326.6 290.7ZM268.4 270.2 270.6 268.6 271.1 266 272.8 264 271.6 261.7 268.9 259.7 265.5 259.4 260.3 263 258.8 264.5 258.4 266.3 263.3 271.2 264.3 273.4 267.6 272.8ZM476 393.3 474.2 389.2 471.9 388.8 470.1 387.4 468 391.2 466.2 392.8 463.8 392.7 465 396.7 466.2 398.3 468 399.4 469.9 398.6 471.5 397.1 473.5 396.4 475.7 396.6ZM431.3 325.7 429 324.9 426.2 326.2 424.9 329 426.5 332.2 425.5 335.6 427.5 336.6 428.5 338.6 430.1 340.1 433.1 340.7 432.9 338.5 434.4 336.8 438 334.9 434.1 330.8 433.1 328.1 433.7 325.2ZM351.1 211.8 349.7 215.1 349.8 217 348.8 218.6 350.9 218.6 352.6 219.9 353.2 222 354.8 223.3 356.3 221.4 361.1 219.8 362.6 217.7 360.9 215.9 360.4 213.4 358 213.7 355.6 213.5ZM338.7 348.1 336.6 342.6 336.7 339.7 336 336.8 333.9 335 331.2 335.1 326.8 337.1 324.6 341.4 327 344.7 327.1 346.8 326.5 348.8 329.6 349.1 332.2 350.8 335.2 350.1 337.9 348.9ZM227.6 273.6 231.1 277 235.3 279.4 236.6 277.3 236.3 275 237.8 273.3 239.9 272.3 239 270.3 238.8 268.1 237.7 266.1 233.9 264.3 231.9 264.3 230.6 266.7 230.9 269.5 230 272.1ZM274.7 280.2 273.9 283.3 274.9 285.6 279.1 288 281.3 287.9 282.5 285.9 284.6 284.8 285 282.5 286.7 280.8 286.5 279.2 284.8 277.5 282.5 277.4 279.5 274.4 277.1 276.1 274.3 277.1ZM239.5 333 242.3 332.6 244.9 331.5 247.8 331.8 249.4 330 248.7 327 249.6 324.1 248.7 321.2 249.2 318.3 247 320.2 238.6 321.1 237.3 323.8 237.7 326.8 236.7 332.5ZM287.1 365 290.2 363.5 296.8 364.5 295.9 361.5 294.2 359 295.9 353.2 293.1 353 291.3 350.9 288.7 350.4 286.1 351.2 286.2 353.4 284.7 355.1 281.2 357.4 281.6 360.2 283.8 362 284.5 364.5 284.5 367.1ZM430.7 442.5 427.4 445.9 426.7 448.1 425.3 450.2 425.1 452.7 422.5 453.1 420.7 454.9 420.2 457.5 415.9 460.5 413.3 460.6 410.1 464.2 409.2 468.9 412.3 469.3 415.2 470.3 418.3 470.2 421.2 471.3 423.7 477.2 425.8 480 429.3 480.5 431.2 479.7 433.4 480 436.2 477 439.5 476.7 446.3 468.7 448.2 458.1 443.6 453.3 442.6 450.3 443.3 447.3 442.8 444.2 440.4 442.1 437.3 441.5 434.2 441.7 431.3 440.3ZM424.8 271.5 419.4 268.1 414.1 268.2 412.7 270.5 410.2 271.8 409.8 272.4 412.2 275.2 411.6 277.1 412.2 278.9 414.4 279 416.4 277.9 418.6 278.3 420 280.1 422.1 278.7 423.7 274.1 425 272.1ZM369.1 530.2 368 532.1 365.8 532.8 361.4 532.3 359.4 531.5 357.2 531.7 355.4 533 353.3 533.4 347.4 531.6 343.4 532.7 341.5 531.6 339.4 531.4 337.5 532.2 335.7 533.2 335 535.3 333.1 536.3 331.4 540 328.4 542.8 326.2 546.5 323.9 546.3 320.2 548.5 318.9 550.2 316.9 550.4 313.2 552.2 310.9 555.5 308.8 561 309 563 309.8 564.8 314 568.6 315.9 568.7 316.2 570.7 317.7 572 326.2 576.2 327.1 578 328.9 578.8 330.9 578.3 332.6 579.1 334.9 582.3 335.3 584.2 337.1 585.1 339.2 588.4 340.7 589.6 344.4 590.7 344.4 592.7 345.7 594.2 345.6 596.2 346.5 597.9 350.2 602.1 351.8 603.1 354.3 603.4 359 602.3 367.2 597.1 369.7 592.7 372 591.5 374.6 591.7 376.8 590.3 378.1 588 378 585.4 380 583.9 381.6 582 381.9 579.9 383.1 578.2 386.3 575.8 386.9 571.9 388.3 570.4 388.7 568.4 388.6 564.4 389.7 562.6 388.3 558.7 384.3 551.9 384.3 550 382.8 548.8 379.2 540.5 377.4 539.9 376.3 538.2 375.9 536.3 374.3 535.1 372.3 534.4 371.4 532.6 371.7 530.6 370.8 528.7ZM300.8 331.7 304.4 338.3 306.7 340 308.8 338.5 310 336.2 310.4 333.5 312.5 331.8 308.5 326.1 306.3 327 304.1 326.1 302.1 328.7ZM452.3 383.9 450.7 386 451 388.8 450 391.4 450.8 394.1 450.3 396.9 454.4 398.6 455.9 396.3 461.2 394.6 463.1 392.6 463.3 389.4 459.3 384.5 454.9 383.1ZM499.6 354.3 501.4 355.7 501.9 360 508.3 359.8 511.5 359.1 514.2 356.8 512.7 353.2 508.1 349.8 506.2 344.4 504 346.3 503.5 349.2 501 350.3 498.9 352.2ZM359.7 389.3 362.4 387.6 363.5 384.3 366.4 382.6 365.8 376.2 363.8 376.9 361.8 375.9 359.8 376.2 358.2 377.6 354.4 376.1 350.5 377.3 350.6 379.6 349.6 381.6 350.6 385.9 352.7 387.2 353.6 389.4 357.6 391.7ZM325.1 235.2 327 236.9 332.9 234.3 331.7 232.2 331.2 229.8 332.6 227.7 332.2 225.1 331.4 224.9 329.4 225.7 327.8 227.1 323.7 228.3 322.9 231.1 322.9 234ZM358 308.2 355.6 308.6 355 310.4 356.8 311.2 359.1 314.2 362.3 316.1 365.1 318.8 365.6 320.7 368.8 319.3 370.7 316.3 370.7 313 371.5 309.7 368.8 308 359.7 306.5ZM406.6 309.8 407.1 312 405 313.2 404.2 315.4 405 317.7 406.9 319.3 410.4 320.3 413.9 319 413 316.2 414.3 313.5 414.9 310.8 414.9 308.1 413.9 306.5 407.4 307.6ZM281.4 213.2 281.4 215.8 282.8 218.2 282.2 221 284.3 220.6 287.8 223.1 288.7 224.9 289.9 222.8 296.4 220.3 295.3 217.8 293.7 215.6 293.2 212.8 294.5 210.2 291 210.5 287.6 209.4 280.7 210.7ZM478.7 393.5 482.6 389.9 483.7 387.6 482.9 385.7 483.2 383.6 482.9 383.2 480.2 383.2 477.7 383.8 475 383.1 473.1 381.2 470.6 382.4 471.3 385 470.1 387.4 471.9 388.8 474.2 389.2 476 393.3ZM387.2 240.4 384.6 235.4 382.7 236 380.9 235.2 379 235.2 377.5 234 376.2 235.7 376.1 237.9 372.8 240.3 374.9 241.3 376.3 243.2 380.1 245.6 382.4 243.8 385.3 244.2 385.8 242.1ZM397.8 332.5 400.7 332.2 403.4 332.9 406 331.8 406.2 328.2 405.3 326.6 403.9 325.4 398.9 325.8 397.1 324 394.5 323.6 393.4 329.1 392.3 330.6 393.6 333.1 395.9 334.6ZM496.8 300.6 499.6 297.1 500.2 294.9 504 291.9 506.5 291.8 509.4 288.2 507.6 287.5 498.4 286.6 492.7 283.2 491.6 281.7 489.7 282.4 488.4 283.8 488.4 285.7 487.2 289.6 487.7 291.6 493 295.3ZM380.1 245.6 376.3 243.2 374.9 241.3 372.8 240.3 369.7 240.9 368.7 242.7 366.9 243.8 369 250.7 371 249.7 373.3 250 375.3 250.8 376.9 252.5 378.5 251.3 379.1 249.3 378.8 247.3ZM359.7 306.5 368.8 308 371.5 309.7 372 309.4 372.7 306.3 372.9 303.2 370.9 300.8 369.6 297.9 366.7 296.8 364.1 294.9 361.8 304.1ZM454.5 295.8 451.2 296.8 447.7 297.1 444.7 298.8 444 300.5 444.6 304.3 448.7 309.5 451.4 311.8 454.9 311.9 457.2 311.4 459.4 312.2 458.9 310 457.7 308 455.9 306.5 454.7 301.8 456 297 458 295.5ZM261.8 292 259.1 292.6 256.7 293.9 255.2 296.4 252.4 297.3 252.1 300.4 252.8 303.3 255.9 304.2 257.6 307 259.2 305.6 260 303.7 263.3 301.5 264.1 299.1 263.9 296.6 262.4 294.5ZM196.1 265.8 192.4 267 188.6 265.8 188.4 268.5 189.2 271.1 188.1 273.6 186.5 275.8 187.1 276.3 193 274.7 195.9 275.8 199.1 275ZM352.7 362.9 353.5 365.5 355.7 365.5 357.6 364.3 359.4 365.6 363.4 367.3 364.6 369 366.7 369.1 368.7 369.8 368.8 367.9 369.7 366.1 368 365 366.2 357.7 365.1 356.2 363.4 355.3 362.8 353.4 361.7 356.5 356.4 359.9 353.3 360.3ZM418.6 278.3 416.4 277.9 414.4 279 412.2 278.9 411.8 280.8 410.7 282.5 411.6 284.4 413.5 285.4 412.7 287.4 413.4 289.4 416.6 289.2 419.3 290.9 420.2 287.5 423.3 285.6 420.9 283.3 420 280.1ZM238.2 265 240.7 264.2 242 261.7 244.6 260.8 245.4 258.1 243.3 256.5 241.8 254.3 237.5 251.2 236.3 252.9 232.7 255 230.4 258.3 230.7 262.3 231.9 264.3 233.9 264.3 235.7 265.1ZM340 236.7 337.6 237.6 335.9 240.2 334.4 246.3 332.3 248.7 335.3 247.3 341.6 248.6 343.5 251.2 346.2 245.3 344.1 242.5 344.5 239 342.6 236.9ZM406.5 230.8 406.9 228.8 405.1 225.1 405.3 223.1 402.3 221.3 398.9 221.7 397.1 223.1 394.9 223.5 393.9 225.4 393.2 227.5 395 228.3 397.4 233.5 399.8 233.1 401.9 234.2 403.5 232.5 405.7 232ZM295.5 293 290.7 292.4 288.8 293.8 286.5 294.7 286.2 297.5 287.9 299.7 286.8 302.2 287.2 304.9 289.4 306.5 292.1 306.3 293.7 305.2 295.9 302.2 297.9 302.1 298.4 297.1ZM272.6 302.8 271.1 304.2 268.8 313.5 266.2 315.6 266.4 316.3 272.5 318.3 280.8 314.8 282 311.8 280.9 308.7 279 307.4 276.8 306.7 275 305.1 274.7 302.7ZM262 243.7 258.5 244.4 259.2 248.1 257.9 249.5 257.1 251.3 259.1 252.4 261.2 252 262.4 254 264.5 254.5 265.5 251.3 268.5 249.6 266.8 248.2 265.2 244.2 265.1 242.1ZM381.3 295.3 382.7 292.7 385 290.9 386.9 288.7 382.6 285.5 379.9 285.7 377.4 286.7 374.7 286.7 372.4 288.2 376.4 292.8 379.3 298.3 381.3 298.3ZM374.7 286.7 377.4 286.7 379.9 285.7 382.6 285.5 383.2 282.9 381.1 278.2 381.8 275.7 379.6 274.3 376.9 273.7 374.1 274 369.2 276.5 369 277 371.7 278.9 372.9 285.1 372.1 288.1ZM302.3 305.5 304.6 310.3 304 313 310.2 313.3 310.7 308.6 312.6 307.2 314 305.3 308.3 302.4 307.2 300.4 300.7 303.4ZM440.4 410.9 440.5 412.9 437.4 415 438.7 418.4 438 420.1 438.2 422 441.3 422.6 444 421 446.6 422.6 449.5 423.3 451.7 421.5 454.5 416.5 454.8 413.7 448.1 412.1 446 409.1 444.4 408 442.5 408 441.3 409.1ZM212.7 273.8 212.1 271.4 209.7 270.7 208.4 268.6 205.7 269.9 204.3 272.5 202 274.3 199.1 275 199.5 277.2 200.7 279.1 202.6 279.8 204.1 281.1 206.1 281.4 208 281.1 210.8 279.2 212.5 276.3ZM331.9 260.8 326.5 263.2 329 263.4 330.8 265.1 332.4 269.5 339 268 340 266.4 339.8 264.5 338.4 263.2 338 261.3 334.9 261.1 332.7 258.9ZM375.2 212.1 372.6 216.6 373.1 219.8 374.9 222.4 375.1 225.5 377.8 224.5 380.7 224.7 383.5 223.8 386.4 224 386.2 221.5 386.8 219.1 383.8 218.4 380.9 217.2 378.6 215 378 211.8ZM363.9 336.8 364.7 342.7 365.6 345.5 368.1 343.9 370.9 344.5 375.6 342 377 338.6 376 336.5 374.4 334.7 369 333.4 366.1 333.7 363.5 332.5 362.4 334.3ZM215 276.2 221.3 280.1 225 274.4 222.7 273.7 220.2 269.8 218.5 268.4 212.1 271.4 212.7 273.8 212.5 276.3ZM313.5 317.7 312.4 320.1 312.4 322.7 310 323.9 308.5 326.1 312.5 331.8 314.8 331 317.1 331.7 320.1 330.1 321.3 326.9 319.5 324.7 318.9 321.9 314.9 318ZM255.9 304.2 252.8 303.3 248.2 304.8 245.6 305 243.6 306.6 243.1 308.3 244.7 310.7 247 312.4 247.7 315.2 249.6 317.5 252.5 315.6 253.5 312.3 256.4 310.4 257.7 307.3ZM288.8 268.4 286.1 268.5 283.9 266.9 281.4 266.1 280.6 266.5 279.8 268.4 280.3 272.5 279.5 274.4 282.5 277.4 284.8 277.5 286.5 279.2 288.2 277.4 288.2 274.9 289.5 272.9 291.9 272.2 291.4 269.4ZM426.3 387.3 431.3 387.1 432.3 384.7 434.6 383.4 434.2 379.6 435.3 375.9 433.5 373.9 431.7 374.8 429.8 374.9 428.4 376.4 426.4 376.7 426.5 379.3 427.5 381.7 425.6 383.6 425.6 386.4ZM307.7 284.3 312.1 282.7 314.5 283 314 281 314.5 279.1 312.2 275.9 310.5 274.6 308.4 274.4 306.5 273.3 304.4 273.5 302 274.6 300.8 277.9 305.9 285.7ZM236.5 332.7 239.2 338.3 238.7 341.4 237.3 344.2 240.3 345.4 242.7 347.6 245.9 347.9 248.7 349.7 253.6 347.1 252.9 345.1 251.4 343.6 250.3 339.6 247.5 336.2 247.8 331.8 244.9 331.5 242.3 332.6 239.5 333ZM292.8 330 294.5 331.9 297.6 331.4 300.8 331.7 302.1 328.7 304.1 326.1 302.1 324.4 299.8 323.3 297.9 321.3 297.7 318.6 295.4 323.3 292.4 327.5ZM428.7 234.2 430.7 233.8 436.2 231.2 437.4 228.5 436.7 225.7 435 224.1 429.4 221.2 428.6 221.4 427.2 223.1 426.4 225.4 426.2 227.8 426.8 230.1 426.4 232.5ZM342.6 337.4 344.6 339.8 350.5 342.2 351.7 339.4 353.7 337.1 352 335.4 351.8 333.1 350.2 331.3 350 329 343.1 329.8 341.5 331.9 341.2 334.5ZM415.5 320.2 421.2 320.3 424 319.1 425.4 316.4 425.8 315.1 424.2 313.3 424 311 421.4 310.4 419.9 308.2 417.4 308.8 414.9 308.1 414.9 310.8 414.3 313.5 413 316.2 413.9 319ZM391.5 269.2 398.5 268.1 399.7 266.3 399.3 262 400 260 397.7 258.1 392.2 259.4 386.9 261.6 387.9 263.8 390 264.9 391.2 266.9ZM222.1 317.8 219.9 319 218.6 321.2 216.2 321.8 213.8 321.7 211.6 322.6 209.6 323.7 206.1 326.8 208 327.8 209.3 329.6 211 330.9 213.1 331.4 212.9 333.7 213.7 335.9 216.9 338.9 218.3 337.5 220.3 337.1 221.8 333.6 226.8 331 228.7 331.2 228.5 327.7 224.2 318.3ZM318 243.7 319.2 246.5 322.1 246.8 324.8 247.9 326 247.5 324.3 245 324.4 242 326.7 239.9 327 236.9 325.1 235.2 322.9 234 320.4 235.4 317.7 235.8 317.1 239.1 315.5 242ZM201 249.5 201.2 246.1 200.3 244.3 190.4 250.2 190.4 253.5 192.7 253.3 196.4 255.9 198.6 256.1 201.3 254.7 203.1 252.1ZM438.6 313.8 441.4 308.9 442.3 306 444.6 304.3 444 300.5 434.8 301.5 431.9 302.6 434.4 310.2 435.9 312.5ZM310.4 333.5 310 336.2 308.8 338.5 306.7 340 311.2 344.5 313 342.2 315.8 341.2 318.8 341.7 321.5 340.2 320.9 335.1 319.2 333.2 317.1 331.7 314.8 331 312.5 331.8ZM187.9 261.2 189.2 259.1 189.6 256.7 189.3 254.3 186.9 253.3 180.4 259.8 180.7 260.4 179.7 263.1 182.9 263.4 186.2 263ZM243.8 217 241.9 221 242.2 225.5 244.4 227.4 245.8 230 248.2 228.4 251 228.8 252.1 225.4 252.3 221.8 253.7 214.8 253.3 213.8 252.6 214.5 246.8 215.3ZM407.4 294.8 408.9 293.3 411 292.8 412.5 291.3 413.4 289.4 412.7 287.4 413.5 285.4 411.6 284.4 410.7 282.5 407 283.3 405.5 284.3 403.6 284.7 402.6 288.5 402.3 292.4 405.6 294.9ZM445.1 384.6 443.3 378.5 442.1 376.7 438.8 375.6 435.3 375.9 434.2 379.6 434.6 383.4 437.6 384.8 439.8 387.3 442.6 386.3Z"/>
<path fill="#c5da71" d="M306.3 368.1 313.7 372.8 316 372.7 318.2 373.6 320.2 372.7 322.5 372.3 321.9 370 322.1 367.6 324.4 363.6 324 361.4 320.8 355.5 318.7 355.5 316.9 356.6 314.9 356.2 313.4 354.6 314.2 356.7 313.5 361 310.2 363.8 309.5 365.7ZM504.9 333 506.9 330.8 507.6 328 510.6 328 512.8 325.9 515.6 326 518.2 324.7 519.7 322.4 522 320.7 521.7 317.7 520.9 314.8 522 309 518.9 309.3 516.2 307.8 513.1 307.7 510.4 306.2 508.3 308.6 505.6 310.3 499.2 310.3 499.3 312.6 500.9 314.2 500.8 318.4 500.4 320.5 499 322.1 497.1 325.8 499.2 326.7 502.7 332ZM509.8 337.1 512.5 336.7 514.7 338.3 517.2 339.3 521 343.1 526.4 343.9 528.8 343.7 531.1 343 531 340.4 532.4 338.2 533.3 333.3 532.1 331.3 528.4 328.8 526.3 328.2 524.2 321.7 522 320.7 519.7 322.4 518.2 324.7 515.6 326 512.8 325.9 510.6 328 507.6 328 506.9 330.8 504.9 333 507.1 336.8ZM407.3 468 405.2 467.9 403.3 469 401.1 468.6 399.8 470 397.2 477.3 396 478.8 396.3 480.8 395.4 482.6 394.1 484.3 392.1 485.1 392.3 487.2 391.3 489.1 390.8 491.4 388.9 492.6 386.7 492.2 383.3 495 382.5 497.1 380.3 497.3 378.4 498.5 377.2 500.3 376.9 502.5 377.5 504.5 377 506.6 378.5 510.4 377.8 512.4 378.5 514.4 376.9 518 377 520 376.3 521.9 378.2 523.1 379.2 525.2 382.3 528.2 387.6 532.4 392.4 532.2 394.6 531.3 398.8 533.9 400.9 532.1 403.1 521.3 407.2 510.5 418 503.8 428.7 499.7 430.2 492.9 428.6 490.5 428.4 487.1 430.2 484 429.3 480.5 425.8 480 423.7 477.2 421.2 471.3 418.3 470.2 415.2 470.3 412.3 469.3 409.2 468.9ZM355.6 308.6 350.8 301 351.3 297.9 348.3 297.2 345.1 300.8 342.8 301.8 341.4 303.9 342.3 306.2 344 308 346.8 309 349.6 307.9 352.2 309.1 355 309.5ZM245.5 373.9 245 371.8 243 371.2 241.6 369.8 239.3 369.2 237.2 370.5 235.3 369.4 230.8 369.4 225.3 365.8 223.1 366.2 221.5 367.7 220.4 369.6 216.8 372.1 215.3 373.8 214.5 375.9 214.7 380.6 213 382.3 212.7 384.6 213.9 386.6 213.4 388.8 208.8 393.3 210.9 394.2 212.3 396 213.1 398.2 212.9 400.5 215.1 400.8 217.1 401.8 218.8 403.3 219.7 405.3 222.5 408.8 226.3 411.1 228.4 412 230.7 412 235 410.8 236.2 408.9 239.7 405.9 240.3 403.6 239.6 401.4 239.9 399.2 238.9 394.8 240.1 392.8 241.8 391.2 244.1 391.2 246.2 390 246.8 387.7 248.6 386.1 248.5 378.3 247.2 375.3ZM368.7 242.7 369.7 240.9 368.8 235 366.8 232.8 365.4 230.2 363.2 230.5 361.2 229.7 359.4 231 357.4 231.6 358.1 234 358 236.4 356.2 238.2 355.8 240.7 357.2 243.4 359.5 244.7 362.1 244.3 364.6 245ZM548.4 358.1 550.4 361.4 552.3 356.7 550.7 355.5ZM423.2 248.6 423.2 251.3 424.7 253.5 425.1 256.1 427.4 256.9 431.9 256.3 433.8 255 435.8 250.9 434.1 246.6 434.7 244.3 432.5 242.7 429.8 242.2 427.6 242.3 426 243.9 422.4 246.1ZM258.8 264.5 265.5 259.4 264.6 257 264.5 254.5 262.4 254 261.2 252 259.1 252.4 257.1 251.3 254.2 252.5 252.1 254.8 256.9 258.6 257.3 261.7ZM546.8 294.9 544.6 297.5 541.2 297.8 540 301 543.1 302.4 544.9 307.3 545.6 305.5 553.6 302.8 549.6 293.4ZM312.1 352.8 310.7 348.8 311.2 344.5 306.3 340 304.3 341.3 301.9 341.2 299.6 341.9 298.3 343.9 298.8 346.1 298 350.7 296.5 352.4 298 354.1 302.2 355.2 306.4 354.6 308 353.2 310 352.6ZM478.7 308.7 486.7 309.2 489 307.5 491.8 307.8 494.4 306.6 497.1 307.5 498 304 496.8 300.6 493 295.3 487.7 291.6 487.1 293.5 485.4 294.5 483.6 295.3 481.7 294.9 478.1 295.3 475.5 297.8 476 301 474.4 303.9 476.3 306.6 476.2 309.9ZM271.8 346.7 268.9 341.9 267 341.1 263 342.4 261 342.2 259.5 343.5 259.2 345.4 257.4 346 255.9 347.2 257.7 348.5 259.9 348.5 260.9 350.4 262.6 351.6 262.7 353.7 265.7 359.1 268.5 357 271.6 355.5 271.5 351.2 273.3 349.8 273.5 347.5ZM464.4 316.8 459.4 312.2 457.2 311.4 454.9 311.9 453.7 313.7 451.5 314.2 450.9 316.3 449.2 317.7 445.3 319.5 441.1 318.5 441.1 318.9 443.4 320 444.9 322.1 445.3 324.7 447.5 326.3 452.6 327.2 454.4 326.1 455.2 324.2 457 323.2 457.9 321.4 462.1 320.4 463.6 318.8ZM395 313.9 392.1 318.8 394.2 320.7 394.5 323.6 397.1 324 398.9 325.8 403.9 325.4 405.9 322.6 406.9 319.3 405 317.7 404.2 315.4 402.2 313.9 397.3 314.2ZM321.4 408 319.1 408.7 316.7 408.8 314.7 407.5 312.4 406.9 310.7 408.8 308.2 408.9 305.2 412.5 303.1 413.3 301 412.4 299.3 410.8 297 410.7 294.9 411.4 292.7 411.1 288.7 409.4 284.5 412.3 286 414.1 286 416.4 289.8 418.3 288.8 422.3 288.8 424.4 289.5 426.3 289.1 428.2 289.2 430.2 290.9 433.7 294.2 436.2 295.2 438.1 294.8 440.2 296.9 440.7 300.9 442.6 303.1 442.1 307.7 442.6 309.5 444 310.6 446.1 312.9 446.8 317.2 444.9 318.5 442.9 320.6 443.6 325 442.8 326.9 441.8 324 435.8 323.6 433.6 322.1 431.7 321.9 429.4 319.9 428.1 318.9 426 320.5 424 322.7 422.8 322.4 420.2 323.8 418 323.4 415.5 322 413.5 322.9 411.2 322.6 408.7ZM269.4 303 267.4 302.3 265.2 302.5 263.3 301.5 260 303.7 259.2 305.6 257.6 307 260.1 309 261.9 311.4 264.7 312.9 266.2 315.6 268.8 313.5 269.8 310.4 271.1 304.2ZM522 309 520.9 314.8 521.7 317.7 522 320.7 524.2 321.7 526.3 328.2 528.4 328.8 532.1 331.3 533.3 333.3 536.3 332.3 538.4 330.9 537.5 323 541.5 316.3 544.9 307.3 543.1 302.4 540 301 537.9 301.9 535.2 305.8 528.5 307.4 524.1 306.1ZM295.2 263.6 297.7 264.3 302.1 267.1 304.6 267.4 305.8 265.1 308.2 263.9 308.8 261.1 307.5 258.5 305.5 258.6 300.5 255.6 298.8 257.1 296.5 257.1 294.7 261ZM273.3 349.8 271.5 351.2 271.6 355.5 274.2 356.4 276.7 355.1 279.3 355.5 281.2 357.4 284.7 355.1 286.2 353.4 286.1 351.2 284.4 350 283.2 346.1 283 344.1 280.3 343.4 273.5 347.5ZM269.7 235.2 271.7 232.9 272.5 230 272.1 227 270.4 224.8 267.8 223.7 266 224.3 264 224 262.4 228.4 260.1 229.4 258.6 231.3 261.3 232.5 263.6 234.3 264.6 237.2 266.7 239.3 269 238.2ZM448.1 384.7 445.1 384.6 442.6 386.3 439.8 387.3 440.7 389.7 439.7 392 437.9 393.7 437.4 396.2 438 398 441.1 400.3 443 400.4 444.2 398.5 448.1 396.2 450.3 396.9 450.8 394.1 450 391.4 451 388.8 450.7 386ZM507.7 287.5 512.6 288.7 514.9 288.8 516.1 288.2ZM223.6 288.5 230.6 288.9 232.2 287.1 232.4 284.7 234.6 283.8 236 281.8 235.3 279.4 231.1 277 227.6 273.6 225 274.4 221.3 280.1 221 283.5 221.8 286.8ZM252.1 300.4 252.4 297.3 250.9 295.8 249.8 293.9 247.8 293.2 245.6 292.9 242.1 294 240 297 242.7 298.3 243.7 301.1 243.1 303.9 243.6 306.6 245.6 305 248.2 304.8 252.8 303.3ZM410.2 271.8 409.4 268.6 409.7 265.3 408.1 262.4 408 259.1 405.9 259.6 404.2 260.9 400 260 399.3 262 399.7 266.3 398.5 268.1 402.7 272.8 409.8 272.4ZM393.2 227.5 394.9 223.5 397.1 223.1 398.9 221.7 398 219.1 395.7 217.7 394.7 212.7 392.5 214.4 391.7 217 389.5 218.7 386.8 219.1 386.2 221.5 386.4 224 388.3 226.6ZM325 374.7 328.5 375.7 331.1 377.9 334.4 377.3 337 375.1 343 372.7 340.1 370.6 337.6 363.9 337.9 360.4 335.7 361.6 333.2 361.4 332.5 363.5 331.1 365.1 331.2 369.3 329.4 370.3 326.9 373.7ZM341.2 334.5 336 336.8 336.7 339.7 336.6 342.6 338.7 348.1 340.9 347.9 344.9 346.1 347.1 346.5 349.2 345.2 350.4 343.1 350.5 342.2 344.6 339.8 342.6 337.4ZM503.1 419.2 503.2 421.7 507.1 424.4 509.6 423.9 511.8 425.3 512.7 427.6 514.9 428.9 517.7 427.9 519.8 426 520.3 423.1 522.3 420.9 522.2 417.9 524.6 415.4 526.8 406.6 524.8 403.6 522.4 403.5 520.4 404.9 518.2 405.8 511.3 403.9 510.4 401.6 508.1 400.5 507.4 401.1 505.6 405.3 506.9 407.4 505.7 412.2 503.6 413.4 502 415 501.5 417.3ZM391.2 266.9 390 264.9 387.9 263.8 386.9 261.6 385 261.3 383.5 260.1 380.7 260.6 380.4 260.9 380.9 264.4 381.9 267.7 379.6 274.3 381.8 275.7 385.4 275 387.2 274.2 389 274.7 390.7 272.2 391.5 269.2ZM233.9 315.5 234.4 318.1 238.6 321.1 247 320.2 249.6 317.6 247.7 315.2 247 312.4 244.7 310.7 243.1 308.3 237.2 308.9 234.5 310.3 232.3 313.5ZM266.7 239.3 265.1 242.1 265.2 244.2 266.8 248.2 270.1 251.3 272.4 251.3 274.5 250.3 276.7 250.9 276.4 245.9 278.7 244.5 279.4 241.8 276.5 242.7 273.6 241.8 271.1 240.2 269 238.2ZM460.8 291.1 467.8 291.1 469.5 289.9 470.8 288.3 472 284.4 474.7 281.3 476 277.5 473.9 277.7 471.9 277 470.7 275.3 468.9 274.1 466.5 271 463.6 268.5 461.9 270.8 459.2 271.6 456.4 276.7 458.1 283.9 458.1 286.3 460.4 290.5ZM292.8 332.8 291.4 336.3 291.7 338.2 294 338.7 295.5 340.5 296.4 342.6 298.3 343.9 299.6 341.9 301.9 341.2 304.3 341.3 306.3 340 304.4 338.3 300.8 331.7 297.6 331.4 294.5 331.9ZM506.9 453.2 502.6 453.2 499.6 454.1 497 455.9 494.9 458.2 493.3 460.9 492.3 467 490.6 469.6 488.3 471.5 484.7 476.7 484.1 479.9 486.4 485.8 485.9 487.4 498.8 467.4ZM349.8 265.6 347.3 267.8 344.1 268 341.2 269.4 343.1 271.6 343 274.5 345.2 276 350.3 275.8 352.7 275 353.8 272.7 353.2 270.1 356.4 266.3 355.5 263.9 350.4 262.4ZM371.9 407.5 371.5 410.4 373 412.1 373.1 414.4 378.1 418.7 380.4 418.6 382.4 419.6 384.6 419.4 387.1 418 388.9 415.8 390.3 410.4 387.1 405 385.2 404 382.2 404.4 379.3 403.7 376.2 403.8 373.5 405.1ZM246 288.3 245 286.3 243 285.2 241.8 283.3 236 281.8 234.6 283.8 232.4 284.7 232.2 287.1 230.6 288.9 231.5 291 233.4 292.4 234 294.6 235.6 296.3 237.7 297 240 297 242.1 294 245.6 292.9ZM446 337.8 442.1 336.3 441.1 334.5 438 334.9 434.4 336.8 432.9 338.5 433.1 340.7 434.3 343.6 436.9 345.4 439.5 345.6 441.8 344.2 446.7 345.4 447.8 342.4 447.4 339.2ZM379.6 313 375.1 312.7 374.2 310.4 372 309.4 371.5 309.7 370.7 313 370.7 316.3 368.8 319.3 365.6 320.7 365.6 321.8 368.6 321.5 374.4 323.2 377 324.6 378.5 323.3 380.4 322.9 380.7 320.9 382.2 319.5 380.6 316.4ZM442.5 270.6 444.1 273 446.9 273.9 448.6 276.3 451.2 274.8 454.1 275.4 456.1 273.4 458.8 272.3 459.2 271.6 455.7 269.6 451.8 270.1 450.4 268.7 449.8 266.9 447.6 263.8 441 265.7 440.4 266.5 440.4 268.7ZM314.5 283 319.1 282.2 321 280.9 323.4 280.5 325.2 277.6 320.8 274 320.2 271.2 318.9 268.5 317.9 270.9 314.7 275 312.2 275.9 314.5 279.1 314 281ZM514.9 288.8 512.6 288.7 516.1 293.3 518.6 295.1 521.6 295.2 520.8 298.1 521 301.1 523.5 303 524.1 306.1 528.5 307.4 535.2 305.8 537.9 301.9 540 301 541.2 297.8 537.3 294.1 537.1 291 529.4 292.5 526.7 288.8 516.1 288.2ZM427.8 408.3 431.3 408.9 432.8 407.8 434.6 407.4 441.3 409.1 442.5 408 442.3 404.2 443 402.4 443 400.4 441.1 400.3 439.4 399.4 438 398 437.4 396.2 435.1 396.5 432.9 397.5 428.4 396.4 427 398 426.4 400.1 426.7 402.3 425.7 404.3 426.2 406.6ZM251.1 279.2 249.4 276.3 247 277.4 241.8 283.3 243 285.2 245 286.3 246 288.3 246.1 290.5 248.3 289.2 249.5 286.8 254.3 285.2 254.2 280.4ZM454.4 377.9 454.9 383.1 456.4 383.6 459.1 382.7 462 383.2 465 382.8 466.8 380.4 465.6 378 466.3 375.4 465.7 372.9 464.3 370.7 461.2 369.2 460.4 369.4 458.7 371.4 457.8 373.9ZM284.5 324.1 284.3 321.6 283.2 319.6 283 317.2 280.8 314.8 272.5 318.3 269.5 317.6 271 320.8 271.1 324.3 272.5 327.5 274.1 330.5 276.2 331.9 278.1 332 278.8 330.1 281.9 327.7ZM323.7 228.3 327.8 227.1 329.4 225.7 331.4 224.9 325.7 221.4 326 217.8 323.9 214.9 322.1 216.6 319.7 216.7 318.4 218.2 318.5 220.2 316.4 223.2 317 225.7 319 227.2ZM491.4 352.1 488.1 357.5 485.5 359.2 490.2 362 493.1 362.4 494.9 364.7 497.9 364.7 500.4 363 501.9 360 501.4 355.7 499.6 354.3 498.9 352.2 496.4 351.9 494.3 350.8ZM326.4 310.4 332.5 308.3 334.5 305.4 335.8 302.2 334.5 299.9 331.2 299.3 328.6 297.2 325.2 301.4 323 303 320.3 303.6 321.4 305.4 321.1 307.4 322.3 309.1ZM492.3 392.4 493.6 389.8 497.6 385.6 495 383.5 494.4 380.2 488.3 380.3 486.2 382.6 483.2 383.6 482.9 385.7 483.7 387.6 487.6 390 489.1 391.8 489.8 394ZM294.2 315.8 297.6 317.7 298.9 316.1 300.8 315.4 302.1 313.8 304 313 304.6 310.3 302.3 305.5 300.7 303.4 297.9 302.1 295.9 302.2 293.7 305.2 292.1 306.3 292 311.3 292.7 313.8ZM419.9 292.7 419.5 294.6 420.9 295.9 421.4 297.7 426.6 299.1 428.2 300 429.6 297.3 431.8 295.2 432.2 292.1 434 289.6 432.3 287.8 432.3 285.2 430 285.3 427.8 284.5 425.5 284.9 420.2 287.5 419.3 290.9ZM329.1 327 334.2 324 337.2 323.7 340.1 324.4 341.7 321.8 342 318.8 340.7 316.6 337.6 316.2 334.9 315 333 315.9 332.2 317.8 330.8 319.4 328.7 319.5 329.3 322.9 328.3 326.2ZM350.2 331.3 351.8 333.1 352 335.4 353.7 337.1 355.3 335.2 357.6 334.3 360 334.7 362.4 334.3 363.5 332.5 362.9 325.5 358 324.2 353 324 350.8 326 350 329ZM269.8 272.7 271.6 273.9 272.6 275.8 274.3 277.1 277.1 276.1 279.5 274.4 280.3 272.5 279.8 268.4 280.6 266.5 276.4 266.2 275.1 264.4 272.8 264 271.1 266 270.6 268.6 268.4 270.2 267.6 272.8ZM458.3 241.2 457.5 243.9 459.8 246.4 460.8 249.7 463.1 252.2 466.3 253.5 468.6 253.4 469.6 252.5 468.5 250.9 458.1 240.8ZM467.8 401.4 468 399.4 466.2 398.3 465 396.7 463.8 392.7 463.1 392.6 461.2 394.6 455.9 396.3 454.4 398.6 455.5 401.4 457.4 403.7 462.1 402.5 466.9 403.1ZM287.5 255.6 290.2 250 288.6 248.1 287.8 245.7 286.3 243.7 285.7 241.3 284.1 240.4 282.2 240 279.4 241.8 278.7 244.5 276.4 245.9 276.7 250.9 277.2 251.9 280.7 255.1 282.8 256.3 285.2 256.3ZM425.2 268.9 427.1 267.3 428.4 265.1 430.8 264.2 430.9 262 429.8 260.2 428.1 258.9 427.4 256.9 425.1 256.1 422.5 258.3 419.4 259.4 418.8 263.8 419.8 265.8 419.4 268.1 424.8 271.5ZM496.4 351.9 498.9 352.2 501 350.3 503.5 349.2 504 346.3 507.7 342.9 508 340.8 506.8 339 507.1 336.8 504.9 333 502.7 332 499.6 335.3 498.7 337.5 498.6 339.8 494.4 341.3 493.2 343.4 490.9 344 493.8 346.8 494.8 348.7 494.3 350.8ZM482.3 356.1 482.9 346.3 484 343.2 482.7 341.7 480.9 341.3 478.6 338.4 476.5 337.2 474.1 337.5 470.1 339.9 470.2 343.5 469.1 345.3 472 350.5 475.3 352.6 476 354.4 479.4 354.5ZM454.3 349.8 455.5 351.4 456.1 353.3 457.7 354.6 460.3 355.6 463 355.2 463 353 464.2 351.1 463.6 346.9 465.4 345.4 466 343.2 467.7 341.7 470 341.4 470.1 339.9 468.8 339 460.3 339.3 458.9 341.6 456.7 343 456.3 345.7 454.5 347.7ZM543.3 356.9 545.1 356 548.4 358.1 550.7 355.5 538.8 346.4 536.3 347.2 537.7 348.5 538.7 350.6 540.7 351.8 541.4 354 541.3 356.3ZM536.3 332.3 533.3 333.3 532.4 338.2 531 340.4 531.1 343 532.3 344.5 538.8 335.1 538.4 330.9ZM429.3 354.1 427.8 352.4 425.7 351.5 424.4 349.5 419.7 349.6 419 352.4 419.7 355.2 416.8 359.9 419.3 361.9 420.3 364.9 422.5 364.6 424.6 365.6 428.3 363.3 428.9 361.4 430.3 360 430.3 356.1ZM278.5 375.6 276 375.8 273.8 374.7 272.3 372.6 270.2 371.4 268.7 369.7 264.9 363.9 262.8 366 254.3 366.9 249.8 374.1 247.2 375.3 248.5 378.3 248.6 381.6 253.8 384.8 256.6 383.7 262.7 383.7 264.9 385.7 267.9 385.9 270 388.1 271.1 384.7 272.8 381.5 277.8 379.1 278.6 377.3ZM399.4 356 398.3 354.5 396.5 353.8 396.8 351.8 395.7 350.2 396.4 346.8 396.4 343.4 394.7 342.3 392.1 342.5 389.6 343.5 387.3 346.2 386.6 349.7 386.6 352.4 387.8 354.7 390.5 355.6 393.1 354.6 395.7 355.3 397.7 357.1ZM211.2 291 210.1 293.2 206.3 295.8 207.3 298.3 209.7 299.4 212 303.8 214.9 304.3 217.1 301.8 220.4 301.3 221.1 297.9 223.4 295.2 222.9 291.8 223.6 288.5 221.8 286.8 219.2 287.8 216.4 288 213.5 287.2 210.9 288.6ZM317 291.6 314.5 296 315 298.8 318.2 303.2 320.3 303.6 323 303 327.1 299.5 328.6 297.2 326.4 294.5 326.5 290.9 321.7 290.7 319.5 291.9ZM267.7 221.8 270.2 218.9 271 217.2 271.1 215.2 270 213.5 271.6 212.2 271.8 210.1 269.6 208.9 267.2 209.6 266 207.6 264 206.3 261.8 206.3 259.8 206.9 253.3 213.8 253.7 214.8 257.6 218.5 259.5 218.6 262.1 221 264 224 266 224.3 267.8 223.7ZM493.2 343.4 494.4 341.3 498.6 339.8 498.7 337.5 499.6 335.3 502.7 332 499.2 326.7 497.1 325.8 491.5 328.3 485.5 327 485.4 330.5 483.3 333.4 481.7 336.6 478.6 338.4 480.9 341.3 482.7 341.7 484 343.2 487.4 344.1 490.9 344ZM298.1 383.7 295.9 385.8 297.1 388.9 297.2 395.7 295.2 398.5 293.3 404.7 290.2 406.4 288.7 409.4 292.7 411.1 294.9 411.4 297 410.7 299.3 410.8 301 412.4 303.1 413.3 305.2 412.5 308.2 408.9 310.7 408.8 312.4 406.9 314.7 407.5 316.7 408.8 319.1 408.7 321.4 408 321 405.1 322.3 402.5 319.6 397.6 319.3 394.8 316 390.3 313.6 389 312.7 387.3 309.4 385.6 308.2 384.1 306.3 384 304.7 383 302.9 382.7ZM237.6 247.6 234.9 246 233.4 243.2 231.6 246 228.4 247.1 225.1 247.5 222.8 250 223.3 251.4 225.7 252.3 227 254.5 228.8 256.4 231.4 256.6 232.7 255 236.3 252.9 237.5 251.2ZM413 405.1 417.7 406 423.5 406.2 425.7 404.3 426.7 402.3 426.4 400.1 427 398 428.4 396.4 427.2 394.6 418.4 396.1 415.7 394.5 414.5 396.7 413.4 401.8 411.6 403.7ZM219.7 239.8 221.6 239.8 223.1 238.7 224.1 237.1 227.3 235 229.2 235.5 230.7 236.7 232.7 236.6 232.2 234.9 230.6 233.7 229.8 232 227.8 232.4 226.1 231.4 223.3 229.2 221.2 226.4 217.7 232.2 217.8 238.4ZM495 383.5 497.6 385.6 499.6 385.2 503.6 386.1 505.1 387.6 504.4 385.7 503.2 384.1 502.9 382.1 503.9 380.2 504.1 378.2 506.9 375.4 507.2 373.5 503.9 374.9 501.7 377.4 498.5 376 495 376.8 494.4 380.2ZM354.3 201 357.3 200.8 349 198.3 349.7 199.2 350 201.4 351.4 203.1ZM379.5 392.1 382.5 391.4 387.7 394.3 388.7 393.9 388.6 391.5 389.8 389.4 389.7 386.9 391.3 385 389.5 382 387 382.7 384.6 381.7 379.8 381 375.9 387.9 376.6 389.7 376.4 391.7ZM460.3 339.3 468.8 339 471 336.6 472.7 330.4 470 321.2 468.3 318.4 464.4 316.8 463.6 318.8 462.1 320.4 457.9 321.4 457 323.2 455.2 324.2 454.4 326.1 452.6 327.2 452 329.4 452.5 334.1 457.1 337.7ZM455.9 355.5 453.5 358.6 451.8 359.6 453.2 362 453 364.7 453.9 367 455.7 368.6 458.2 368.1 460.4 369.4 461.2 369.2 464.8 360.6 464.6 357.4 463 355.2 460.3 355.6 457.7 354.6ZM440 364.9 433.6 367.6 432.5 370.8 433.5 373.9 435.3 375.9 438.8 375.6 442.1 376.7 445.3 375.3 446.6 372.1 446.6 370.9 444.9 369.2 442.6 368.6 440.8 367.1ZM418.9 385 425.6 386.4 425.6 383.6 427.5 381.7 426.5 379.3 426.4 376.7 424.7 374.7 417.7 371.9 415.8 372.7 414.4 374.2 413.8 376.2 413.8 378.4 416.9 384.1ZM427.9 322.7 428.1 320.3 425.4 316.4 424 319.1 421.2 320.3 415.5 320.2 416.8 323.3 417 326.8 419.1 327.4 421.2 326.7 422.8 328.3 424.9 329 426.2 326.2 429 324.9ZM499.2 310.3 505.6 310.3 508.3 308.6 510.4 306.2 513.1 307.7 516.2 307.8 518.9 309.3 522 309 524.1 306.1 523.5 303 521 301.1 520.8 298.1 521.6 295.2 518.6 295.1 516.1 293.3 512.6 288.7 509.4 288.2 506.5 291.8 504 291.9 500.2 294.9 499.6 297.1 496.8 300.6 498 304 497.1 307.5ZM463.6 268.5 468.9 274.1 470.7 275.3 471.9 277 473.9 277.7 479.6 276.9 481.4 275.5 481.9 273.3 483.4 270.8 476.5 263 472.6 257.1 471.8 256.7 469.2 258.1 466.4 257.3 465.7 258.3 466.2 261 463.4 265.7ZM334.4 246.3 335.9 240.2 337.6 237.6 335.9 235.1 332.9 234.3 327 236.9 326.7 239.9 324.4 242 324.3 245 326 247.5 329.2 247.7 332.3 248.7ZM394.7 212.7 395.7 217.7 398 219.1 398.9 221.7 402.3 221.3 405.3 223.1 407.8 219.8 409.9 218.4 402.4 213.1 398.1 209.1 396.2 209.8 395.1 211.5ZM297.9 321.3 299.8 323.3 302.1 324.4 304.1 326.1 306.3 327 308.5 326.1 310 323.9 312.4 322.7 312.4 320.1 313.5 317.7 311.1 316.1 310.2 313.3 304 313 302.1 313.8 300.8 315.4 298.9 316.1 297.6 317.7ZM407.8 239.7 406.9 233.7 405.7 232 403.5 232.5 401.9 234.2 399.8 233.1 397.4 233.5 397.3 236.9 394.9 239.3 399.2 243.7 399.9 245.6 401.9 243.7 402.7 241.1 405 239.3ZM436.7 225.7 437.4 228.5 436.2 231.2 438 232.9 438.4 235.3 440.9 235.4 442.8 236.9 446 236.6 448.4 234.3 437.6 225.4ZM490 395.3 489.1 391.8 487.6 390 483.7 387.6 482.6 389.9 478.7 393.5 476 393.3 475.7 396.6 479.5 400.5 482.5 400.2 484.9 398.3 488 397.8ZM464.6 357.4 469.7 358.8 472.5 356.1 474.5 355.8 476 354.4 475.3 352.6 472 350.5 469.1 345.3 470.2 343.5 470 341.4 467.7 341.7 466 343.2 465.4 345.4 463.6 346.9 464.2 351.1 463 353 463 355.2ZM476 368.6 479.4 368 480.4 365.6 482.2 363.7 484.7 359.2 482.3 356.1 479.4 354.5 476 354.4 474.5 355.8 472.5 356.1 469.7 358.8 471 361.3 470.4 364.1 471.5 366.8ZM277.5 227.5 280 229.4 280.5 232.5 282.2 235 283.6 232.8 286.1 232 286.5 229.4 288.6 227.8 288.7 224.9 287.8 223.1 284.3 220.6 282.2 221 280.2 222.7 277.5 222.9 276.5 225.3 274.4 227ZM321 314.4 314.9 318 318.9 321.9 319.5 324.7 321.3 326.9 323 327.5 324.9 327.5 326.4 326.3 328.3 326.2 329.3 322.9 328.7 319.5 323.5 314.2ZM386.9 261.6 392.2 259.4 397.7 258.1 396.3 254.8 396.4 251.3 394.7 250 392.7 249.3 390.6 249.4 388.7 250.4 387.6 253 387.3 255.9 383.5 260.1 385 261.3ZM447.8 284.8 451.2 285.7 457.1 289.4 460.4 290.5 458.1 286.3 458.1 283.9 456.4 276.7 458.8 272.3 456.1 273.4 454.1 275.4 451.2 274.8 448.6 276.3 447.2 278.9 446.6 281.8ZM274.1 330.5 270.8 330.9 267.7 329.8 264.5 331.1 261.2 330.4 262.1 336.3 261 342.2 263 342.4 267 341.1 268.9 341.9 271.4 339.9 273.6 337.6 276.2 331.9ZM500.4 363 503.2 364.6 505.2 367.2 506.8 370.2 507.2 373.5 510.1 373 511.4 366.3 517.1 362.5 515 360.2 514.1 357.2 511.5 359.1 508.3 359.8 501.9 360ZM282.3 296 280.7 298.8 278 300.5 274.9 301.4 274.7 302.7 275 305.1 276.8 306.7 279 307.4 280.9 308.7 281.9 307.1 287.2 304.9 286.8 302.2 287.9 299.7 286.2 297.5 286.5 294.7 284.6 293.8ZM435.5 351.8 435.1 349.5 435.4 347.2 436.9 345.4 434.3 343.6 433.1 340.7 432.1 340.8 430.2 343.1 429 345.8 426.3 347.1 424.4 349.5 425.7 351.5 427.8 352.4 429.3 354.1 430.3 356.1 433.9 355.8 436.8 353.7ZM323.3 354.2 324.7 351.3 326.5 348.8 327.1 346.8 327 344.7 324.6 341.4 321.5 340.2 318.8 341.7 315.8 341.2 313 342.2 311.2 344.5 310.7 348.8 311.2 350.9 313.4 354.6 314.9 356.2 316.9 356.6 318.7 355.5 320.8 355.5ZM344.5 239 347.4 238.2 353.5 238.6 355.8 240.7 356.2 238.2 358 236.4 358.1 234 357.4 231.6 355.2 229.3 352.2 229.3 349.6 227.8 346.9 229.1 344.5 230.8 342.4 233.5 342.6 236.9ZM456 297 454.7 301.8 455.9 306.5 457.7 308 458.9 310 459.4 312.2 464.4 316.8 465.3 317 471.2 314.5 473.3 314.3 476.2 309.9 476.3 306.6 474.4 303.9 476 301 475.5 297.8 471 295.1 470.2 292.5 467.8 291.1 460.8 291.1 459 293 458 295.5ZM324.4 312 324.3 309.5 322.3 309.1 321.1 307.4 321.4 305.4 320.3 303.6 318.2 303.2 316.3 304.7 314 305.3 312.6 307.2 310.7 308.6 310.2 313.3 311.1 316.1 313.5 317.7 314.9 318 321 314.4 323.5 314.2ZM397.3 465.4 392.1 464.7 390 463 385 461.4 383.7 458.8 381 457.9 376.4 461.8 370.3 462 368 463.8 362.2 464.8 357 467.2 348.7 469.8 345.8 468.8 340.2 470.9 337.3 471.1 336.7 477.9 335 479.5 336.6 480.9 337.1 482.9 336.3 485 339.1 490.6 341 491.3 342.6 492.6 342.8 494.7 343.7 496.6 343.1 500.6 343.3 502.8 346.4 505.8 348.3 506.7 348.6 508.8 351.1 512.2 352.6 513.6 354.8 513 357 513.1 358.5 514.8 363.8 517.8 367.7 518.3 370.8 520.5 372.7 521.3 373.8 523 376.3 521.9 377 520 376.9 518 378.5 514.4 377.8 512.4 378.5 510.4 377 506.6 377.5 504.5 376.9 502.5 377.2 500.3 378.4 498.5 380.3 497.3 382.5 497.1 383.3 495 386.7 492.2 388.9 492.6 390.8 491.4 391.3 489.1 392.3 487.2 392.1 485.1 394.1 484.3 395.4 482.6 396.3 480.8 396 478.8 397.2 477.3 398.9 471.7 401.1 468.6 399.5 466.8ZM459 293 460.8 291.1 460.4 290.5 457.1 289.4 451.2 285.7 447.8 284.8 444 291.5 441.6 292.6 443.6 295.4 444.7 298.8 447.7 297.1 458 295.5ZM384.7 202.1 384.8 205.6 387.4 207 393.3 208.9 395.1 211.5 396.2 209.8 398.1 209.1 393 204.5ZM293.2 259.1 292.2 256.8 287.5 255.6 285.2 256.3 283.9 258.9 284.6 261.7 282.2 263.3 281.4 266.1 283.9 266.9 286.1 268.5 288.8 268.4 291.4 269.4 295.2 263.6 294.7 261ZM356.3 282.4 354.8 280.9 352.7 275 350.3 275.8 345.2 276 343 274.5 340.7 276.5 340.4 279.6 342.4 281.6 342.9 284.4 345.3 286 352.2 286 354.4 285.6 355.8 283.9ZM258.8 264.5 257.3 261.7 256.9 258.6 252.1 254.8 247.6 255.4 245.4 258.1 244.6 260.8 246.6 262.7 247.1 265.4 249.8 269.9 252.2 269.4 254 267.9 258.4 266.3ZM362.7 257.9 365.3 256.7 366.7 253.4 369 250.7 366.9 243.8 364.6 245 362.1 244.3 359.5 244.7 357.2 243.4 355.3 245.4 355.3 248.2 357.5 249.9 359.8 254.8 359.9 257.4ZM370.9 214.7 367.7 213.4 365.9 216.3 362.8 217.8 362.3 220.7 364.7 226.4 367.5 227.7 374.5 226.4 375.1 225.5 374.9 222.4 373.1 219.8 372.6 216.6 374.2 213.8ZM302.7 244 303.6 241.7 306.7 238.4 305.2 235.3 305.8 231.9 302.4 230.1 300.2 230.6 297.3 234.1 295.2 234.8 294.5 237.9 297 238.5 298.9 240.3 300.7 242.4 300.6 245.1ZM356.4 266.3 360.8 270.5 363.8 271.9 366.9 270.9 367.9 268.7 367.7 266.2 371 262.7 368.7 262.3 365.3 256.7 362.7 257.9 359.9 257.4 355.5 263.9ZM388.9 289.2 392.7 287.2 394.5 280.6 393.5 278.8 390.2 276.4 389 274.7 387.2 274.2 385.4 275 381.8 275.7 381.1 278.2 383.2 282.9 382.6 285.5 386.9 288.7ZM215.5 306.1 217 307.5 217.2 309.5 222.1 315.8 222.1 317.8 224.2 318.3 226.6 317.6 230 314.3 232.3 313.5 232.6 312.7 230.9 310.8 229.9 308.6 230.1 306.1 229.5 303.7 227 302.8 224.6 303.8 222.2 303 220.4 301.3 217.1 301.8 214.9 304.3ZM259.9 290 259.2 287.3 254.3 285.2 249.5 286.8 248.3 289.2 246.1 290.5 245.6 292.9 249.8 293.9 250.9 295.8 252.4 297.3 255.2 296.4 256.7 293.9 259.1 292.6 261.8 292ZM240.2 247.1 241.7 244.9 244.3 245.2 246.6 244 247.7 241.9 245.9 240.6 245.1 236.4 243.6 234.9 240.7 235 238.2 236.4 235.5 237.1 232.7 236.6 232.8 240.1 233.4 243.2 234.9 246 237.6 247.6ZM321.9 198.3 318.6 198.3 315.7 196.7 310 203 307.6 204.6 309.2 208.8 311.9 210.7 316.5 215.5 319.7 216.7 322.1 216.6 323.9 214.9 325.4 212.4 326.1 208.5 325.4 206.7 324 205.2ZM514.1 357.2 515 360.2 517.1 362.5 522.4 365.6 525.6 365.3 528.5 366.6 530.5 365.6 534.7 364.7 540 360.6 540 358.3 541.3 356.3 541.4 354 540.7 351.8 538.7 350.6 537.7 348.5 536.3 347.2 528 349.9 532.3 344.5 531.1 343 526.4 343.9 522.3 346 520.6 347.5 517.5 353.6ZM402.5 385.1 404.2 390.2 408.9 389.5 413.6 390.5 414.6 388.7 414 386.7 416.9 384.1 413.8 378.4 405.7 384ZM410.3 359.4 412.1 361.3 414.3 360.3 416.8 359.9 419.7 355.2 419 352.4 419.7 349.6 414.5 344.9 410.8 345.5 407.3 348.7 407.1 351.5 406.1 354 404.1 355.8 405.5 357.9 407.7 359.1ZM418 231.5 419 233.3 422.7 233.7 426.4 232.5 426.8 230.1 426.2 227.8 426.4 225.4 427.2 223.1 425 222.1 420.1 222.3 418 221.1 417.4 223.6 415.6 225.4 416.5 230.3ZM262.1 221 259.5 218.6 257.6 218.5 256.1 217.4 255.1 215.9 253.7 214.8 252.3 221.8 252.1 225.4 251 228.8 253 231.3 256.2 231.8 258.6 231.3 260.1 229.4 262.4 228.4 264 224ZM479.5 400.5 475.7 396.6 473.5 396.4 471.5 397.1 469.9 398.6 468 399.4 467.8 401.4 466.9 403.1 467.5 407.3 469.6 408.2 470.5 410.3 472.6 411.3 475 411.4 479.5 407.8 480.1 404.2ZM338.9 302 341.4 303.9 342.8 301.8 345.1 300.8 348.3 297.2 346.1 294.9 345.1 291.8 342.3 291.3 339.4 291.8 338.2 296.6 336.1 297.9 334.5 299.9 335.8 302.2ZM302.1 291.5 300.2 292.9 297.9 292.4 295.5 293 298.4 297.1 297.9 302.1 300.7 303.4 307.2 300.4 306.9 297.2 307.7 294.1 306.4 291.9 304.2 290.5ZM497.9 364.7 494.9 364.7 492.5 368.3 492.9 370.5 492.4 372.7 495 376.8 498.5 376 501.7 377.4 503.9 374.9 507.1 373.4 506.8 370.2 505.2 367.2 503.2 364.6 500.4 363ZM292.4 327.5 296.7 321 297.7 318.6 297.6 317.7 294.2 315.8 291.2 316 288.4 314.9 283 317.2 283.2 319.6 284.3 321.6 284.5 324.1 283 326 285.3 326.9 287.4 328.3 290.1 328.8ZM407.8 239.7 412.4 240.8 413.6 243 416.2 243.7 415.9 240.9 416.8 238.3 416.9 235.4 419 233.3 418 231.5 416.5 230.3 414 229.4 411.5 229.9 408.8 229.5 406.5 230.8 405.7 232 406.9 233.7ZM452.7 376.1 448.5 373.7 446.6 372.1 445.3 375.3 442.1 376.7 443.3 378.5 445.1 384.6 448.1 384.7 450.7 386 452.3 383.9 454.9 383.1 454.4 377.9ZM382.2 360.6 385.6 355.2 387.8 354.7 386.6 352.4 386.6 349.7 385.1 347.7 382.7 347.1 378 347.6 377.2 350.9 375.1 353.6 376.9 354.6 378.7 360ZM400 260 404.2 260.9 405.9 259.6 408 259.1 409.6 258 410.6 256.3 410.3 252.8 407.5 251.5 404.4 250.8 400 246.5 397.7 248.5 396.4 251.3 396.3 254.8 397.7 258.1ZM432.5 370.8 433.6 367.6 430.1 366.4 429.6 364.6 428.3 363.3 424.6 365.6 422.5 364.6 420.3 364.9 418.8 366.2 417.7 371.9 424.7 374.7 426.4 376.7 428.4 376.4 429.8 374.9 431.7 374.8 433.5 373.9ZM419 245.8 422.4 246.1 426 243.9 427.6 242.3 429.8 242.2 428.6 240.4 427.6 236.2 428.7 234.2 426.4 232.5 422.7 233.7 419 233.3 416.9 235.4 416.8 238.3 415.9 240.9 416.2 243.7ZM314.3 226.9 314.8 224.1 313 222.5 306.5 219 304.7 219.5 301.7 221.7 299.9 222.1 299.5 224.3 300.6 226.3 300.8 228.6 304 231.3 305.8 231.9 312.5 229.1ZM466.2 392.8 468 391.2 471.3 385 470.6 382.4 466.8 380.4 465 382.8 462 383.2 459.1 382.7 456.4 383.6 459.3 384.5 463.3 389.4 463.1 392.6ZM510.1 373 513.6 374.4 516.2 377.1 517.2 378.7 520.6 380.3 522 381.6 524.4 382 526.8 381.8 525.2 378 525.1 375.9 526.1 374 526.2 372 527.5 368.3 528.5 366.6 525.6 365.3 522.4 365.6 517.1 362.5 511.4 366.3ZM346.4 219 344.6 220.5 340.2 221.7 340.1 224.4 340.7 227 342.5 229.1 344.5 230.8 349.6 227.8 352.2 229.3 355.2 229.3 355.4 226.3 354.8 223.3 353.2 222 352.6 219.9 350.9 218.6ZM264.3 273.4 262.8 274.9 262.5 277 263.8 278.9 263.5 281.1 265.1 282.6 265.9 284.7 267.7 283.5 269.8 283.1 271.8 283.7 273.9 283.3 274.7 280.2 274.3 277.1 272.6 275.8 271.6 273.9 269.8 272.7ZM473.1 381.2 474.7 378.2 474.1 374.8 476.1 372 476 368.6 471.5 367.5 464.3 370.7 465.7 372.9 466.3 375.4 465.6 378 466.8 380.4 470.6 382.4ZM437.1 254.6 439.6 255.5 441.9 255.2 447.2 251.1 447.4 250.1 444.4 249.6 442.6 247 440.9 244.6 440.7 241.6 437.9 243.6 434.7 244.3 434.1 246.6 435.8 250.9 434.9 253ZM408.7 370.7 412.2 373.6 414.4 374.2 415.8 372.7 417.7 371.9 418.8 366.2 420.3 364.9 419.3 361.9 416.8 359.9 414.3 360.3 412.1 361.3 410.3 359.4 407.7 359.1 407.2 362.1 405.6 364.6 407.2 367.4 406.4 370.5ZM372.7 399.3 373.9 401 373.1 403 373.5 405.1 376.2 403.8 379.3 403.7 382.2 404.4 385.2 404 385.7 401.4 387.6 399.4 387.7 394.3 382.5 391.4 379.5 392.1 376.4 391.7 372.1 397.3ZM404.6 297.4 402.4 298.9 403.4 301.4 402.7 304 404.5 306.5 407.4 307.6 413.9 306.5 415.1 302.3 412 297.8 409.3 297 407.4 294.8 405.6 294.9ZM237.5 251.2 241.8 254.3 243.3 256.5 245.4 258.1 247.6 255.4 251 254.7 249.4 251.9 246.8 250.2 245.5 247.2 246.6 244 244.3 245.2 241.7 244.9 240.2 247.1 237.6 247.6ZM262.4 294.5 263.9 296.6 264.1 299.1 263.3 301.5 265.2 302.5 267.4 302.3 269.4 303 271.1 304.2 272.6 302.8 274.7 302.7 274.9 301.4 273.7 297.3 271.9 296 271.4 293.7 266.5 294.2 264.5 292.6 262.2 291.9ZM222.7 254.1 219.3 258.5 219.2 261.3 219.7 262.3 223 262.8 226 261.3 229.1 262.1 231.7 264 230.7 262.3 230.4 258.3 231.4 256.6 228.8 256.4 227 254.5 225.7 252.3 223.3 251.4ZM446.7 345.4 441.8 344.2 439.5 345.6 436.9 345.4 435.4 347.2 435.1 349.5 435.5 351.8 436.8 353.7 438.7 354.5 439.5 356.3 443 357.6 444.6 357.1 444.9 354.3 447.7 346.7ZM372.9 285.1 371.7 278.9 369 277 365.8 278.6 358.9 280 356.3 282.4 355.8 283.9 359.3 292 361.2 294 364 294.3 367.8 290.9 369.5 288.8 372.1 288.1ZM451.2 346.7 454.5 347.7 456.3 345.7 456.7 343 458.9 341.6 460.3 339.3 457.1 337.7 454.5 335.4 452.7 336.5 449.6 339.4 447.4 339.2 447.8 342.4 446.7 345.4 447.7 346.7ZM495 376.8 492.4 372.7 488.1 373.9 486.2 372.5 483.8 372.7 484.2 375.4 483.2 378 484 380.6 482.9 383.2 483.2 383.6 486.2 382.6 488.3 380.3 494.4 380.2ZM282.9 337.4 280.6 336.2 279.8 333.8 278.1 332 276.2 331.9 273.6 337.6 268.9 341.9 271.8 346.7 273.5 347.5 280.3 343.4 283 344.1 283.2 341.8 284.1 339.7ZM258.4 266.3 254 267.9 252.2 269.4 249.8 269.9 248.3 274.6 251.1 279.2 254.2 280.4 255.6 278.4 257.8 277.3 260.2 278 262.5 277 262.8 274.9 264.3 273.4 263.3 271.2 260.2 267.8ZM288.6 227.8 290.3 229.6 291.2 232 293.6 232.7 295.2 234.8 297.3 234.1 300.2 230.6 302.4 230.1 300.8 228.6 300.6 226.3 299.5 224.3 299.9 222.1 296.4 220.3 289.9 222.8 288.7 224.9ZM362.6 217.7 361.1 219.8 356.3 221.4 354.8 223.3 355.4 226.3 355.2 229.3 357.4 231.6 359.4 231 361.2 229.7 363.2 230.5 365.4 230.2 367.5 227.7 364.7 226.4 362.3 220.7ZM446.5 349.2 446.1 351.9 444.9 354.3 444.6 357.1 446.6 357.3 451.8 359.6 453.5 358.6 455.9 355.5 457.7 354.6 456.1 353.3 455.5 351.4 454.3 349.8 454.5 347.7 451.2 346.7 447.7 346.7ZM446.6 372.1 448.5 373.7 452.7 376.1 454.4 377.9 457.8 373.9 458.7 371.4 460.4 369.4 458.2 368.1 455.7 368.6 453.9 367 453 364.7 452.3 367 450.3 368.4 448.8 370.1 446.6 370.9ZM461.9 270.8 463.6 268.5 463.4 265.7 466.2 261 465.7 258.3 463.8 258.5 458.5 257.1 456.5 257.6 454.9 258.8 452.8 258.8 451.1 257.6 449.9 259.1 450.1 261.1 447.6 263.8 449.8 266.9 450.4 268.7 451.8 270.1 455.7 269.6 459.2 271.6ZM230.4 221.4 233.1 224.8 235 226.1 240.4 224.7 242.2 225.5 241.9 221 243.8 217 242.5 216.1ZM385.9 368.3 384.2 370.4 379.5 373 377.8 375 379.8 381 384.6 381.7 387 382.7 389.5 382 390.9 379.6 391.1 376.8 389.8 371.8 388.3 369.7ZM305.5 270.5 304.4 273.5 306.5 273.3 308.4 274.4 310.5 274.6 312.2 275.9 314.7 275 317.9 270.9 318.9 268.5 318.9 266.6 316 266.5 313.1 267 311.2 264.5 308.2 263.9 305.8 265.1 304.6 267.4ZM383.5 260.1 387.3 255.9 387.6 253 388.7 250.4 387.3 247.1 385.3 244.2 382.4 243.8 380.1 245.6 378.8 247.3 379.1 249.3 378.5 251.3 376.9 252.5 379 253.8 380.3 255.8 380.7 260.6ZM325 315.4 325.9 317.1 328.7 319.5 330.8 319.4 332.2 317.8 333 315.9 334.9 315 333.9 313.3 332.3 312.1 331.7 310.1 332.5 308.3 326.4 310.4 324.3 309.5 324.4 312 323.5 314.2ZM353.3 296.4 354.9 294.3 359.3 292 355.8 283.9 354.4 285.6 348.1 286.2 346.3 288.8 345.1 291.8 346.1 294.9 348.3 297.2 351.3 297.9ZM451.8 359.6 446.6 357.3 444.6 357.1 443 357.6 442.4 361.6 440 364.9 440.8 367.1 442.6 368.6 444.9 369.2 446.6 370.9 448.8 370.1 450.3 368.4 452.3 367 453.2 362ZM342 318.8 344.2 318 348.3 319.5 350.4 319.3 352.7 317.8 353.9 315.5 353.9 312.8 355 309.5 352.2 309.1 349.6 307.9 346.8 309 344 308 342.2 312.2 341.8 314.6 340.7 316.6ZM320.4 235.4 322.9 234 322.9 231.1 323.7 228.3 319 227.2 317 225.7 316.4 223.2 314.8 224.1 314.3 226.9 312.5 229.1 313.8 231 316.1 231.7 316.1 234 317.7 235.8ZM490.6 400.9 491.3 404 490.6 406.9 488.7 409.3 491 411.3 493.8 412.3 495.5 418 501.5 417.3 502 415 503.6 413.4 505.7 412.2 506.9 407.4 505.6 405.3 507.4 401.1 505.5 400.9 502 399.1 498.2 398.1 496.2 398.5 492.3 398.2ZM405.9 322.6 403.9 325.4 405.3 326.6 406.2 328.2 406 331.8 406.8 332.4 409.3 331.6 411.8 332.3 412.2 330.3 415.8 328.4 417 326.8 416.8 323.3 415.5 320.2 413.9 319 410.4 320.3 406.9 319.3ZM391.9 300.4 390.8 302.2 388.6 302.2 386.9 303.5 386.9 305.2 390 305.4 392.2 307.6 394.8 312.9 399.8 304.5 397.1 301.4 395.1 300.6 393.6 299.2ZM418.4 396.1 427.2 394.6 427.8 392.8 427.7 390.9 425.6 386.4 423.3 386.2 416.9 384.1 414 386.7 414.6 388.7 413.6 390.5 414.1 392.8ZM290.1 328.8 287.4 328.3 285.3 326.9 283 326 281.9 327.7 278.8 330.1 278.1 332 279.8 333.8 280.6 336.2 282.9 337.4 284.1 339.7 286.1 339.8 287.8 338.5 291.7 338.2 291.4 336.3 292 334.6 292.8 332.8 294.5 331.9 292.8 330 292.4 327.5ZM277.8 379.1 272.8 381.5 271.1 384.7 270 388.1 271.2 391 271 394.2 272.4 397.2 275.3 398.7 275.2 402 277.3 404.6 275.6 410.5 277.8 411.5 280.1 411 282.1 412.4 284.5 412.3 288.7 409.4 290.2 406.4 293.3 404.7 295.2 398.5 297.2 395.7 297.1 388.9 295.9 385.8 293.3 386.4 288.1 385.6 286 383.9 281.4 381.6 279.4 379.9 278.6 377.3ZM246.5 273.1 239.9 272.3 237.8 273.3 236.3 275 236.6 277.3 235.3 279.4 236 281.8 241.8 283.3 247 277.4 249.4 276.3 248.3 274.6 248.7 272.7ZM476 368.6 476.1 372 474.1 374.8 474.7 378.2 473.1 381.2 475 383.1 477.7 383.8 480.2 383.2 482.9 383.2 484 380.6 483.2 378 484.2 375.4 483.8 372.7 480.8 371.1 479.4 368ZM537.1 291 537.3 294.1 541.2 297.8 544.6 297.5 546.8 294.9 549.6 293.4 542.9 289.8ZM506.9 375.4 504.1 378.2 503.9 380.2 502.9 382.1 503.2 384.1 504.4 385.7 505.1 387.6 506.9 388.6 507.6 390.6 509.6 389.6 510.8 387.7 513 387.2 514.3 385.3 516.4 384.3 517.6 382.3 522 381.6 520.6 380.3 517.2 378.7 516.2 377.1 513.6 374.4 511.8 373.7 510.1 373 507.2 373.5ZM221.2 226.4 223.3 229.2 226.1 231.4 227.8 232.4 229.8 232 230.6 233.7 232.2 234.9 233.5 232.7 235.4 231.1 234.9 228.6 235 226.1 233.1 224.8 230.4 221.4 221.6 225.3ZM300.5 246 300.7 242.4 297 238.5 294.5 237.9 290.2 239.9 287.8 240 285.7 241.3 286.3 243.7 287.8 245.7 288.6 248.1 290.2 250 292.6 249.9 296.9 247.9 299.3 247.7ZM264.6 237.2 263.6 234.3 261.3 232.5 258.6 231.3 256.2 231.8 256.3 236.8 255.2 239 253.4 240.8 255.2 243.6 258.5 244.4 262 243.7 265.1 242.1 266.7 239.3ZM380.2 338.4 383.2 337.5 385.5 334.9 386.3 331.6 382.3 328 382.3 325.1 380.4 322.9 378.5 323.3 377 324.6 374.9 329.5 375.4 332.2 374.4 334.7 376 336.5 377 338.6ZM452.5 334.1 452 329.4 452.6 327.2 447.5 326.3 447.2 329.1 441.1 334.5 442.1 336.3 446 337.8 447.4 339.2 449.6 339.4 452.7 336.5 454.5 335.4ZM316.4 223.2 318.5 220.2 318.4 218.2 319.7 216.7 316.5 215.5 311.9 210.7 309.2 208.8 310.4 211.5 309.6 214.4 306.5 219 313 222.5 314.8 224.1ZM390.6 410.3 392.6 407.9 395.7 407.2 397 401.3 396.3 399.4 396.3 397.4 395 395.6 390.8 394.1 388.7 393.9 387.7 394.3 387.6 399.4 385.7 401.4 385.2 404 387.1 405ZM485.5 359.2 488.1 357.5 491.4 352.1 494.3 350.8 494.8 348.7 493.8 346.8 490.9 344 487.4 344.1 484 343.2 482.9 346.3 482.3 356.1 484.7 359.2ZM265.1 282.6 263.5 281.1 263.8 278.9 262.5 277 260.2 278 257.8 277.3 255.6 278.4 254.2 280.4 254.3 285.2 259.2 287.3 259.9 290 262 292 263.3 290 265.1 288.8 266 286.8 265.9 284.7ZM314 285.3 315.1 290.1 317 291.6 319.5 291.9 321.7 290.7 326.5 290.9 324.1 289 323.3 283.3 323.4 280.5 321 280.9 319.1 282.2 314.5 283ZM439 271.3 438.3 274.3 433.9 278.2 434.2 280.5 440.5 280.5 446.6 281.8 447.2 278.9 448.6 276.3 446.9 273.9 444.1 273 442.5 270.6 440.4 268.7ZM225.1 247.5 228.4 247.1 231.6 246 233.4 243.2 232.6 236.8 230.7 236.7 229.2 235.5 227.3 235 224.1 237.1 223.1 238.7 221.6 239.8 219.7 239.8 220.1 242.5 221.7 244.6 222.4 249.7 222.8 250ZM469.2 258.1 471.8 256.7 472.6 257.1 469.6 252.5 468.6 253.4 466.3 253.5 467.1 255.4 466.4 257.3ZM350.5 259.7 347 256 344.8 254.9 342.9 256.7 340.4 257 340.1 259.7 338 261.3 338.4 263.2 339.8 264.5 340 266.4 339 268 341.2 269.4 344.1 268 347.3 267.8 349.8 265.6ZM279.9 373.2 282.4 372 284.2 369.9 284.5 364.5 283.8 362 281.6 360.2 281.2 357.4 279.3 355.5 276.7 355.1 274.2 356.4 271.6 355.5 268.5 357 265.7 359.1 264.9 363.9 270.2 371.4 272.3 372.6 273.8 374.7 276 375.8 278.5 375.6ZM411.6 403.7 413.4 401.8 414.5 396.7 415.7 394.5 414.1 392.8 413.6 390.5 408.9 389.5 404.2 390.2 403.4 392.5 405.8 398.9 408.8 400.7 410.7 403.7ZM441 265.7 447.6 263.8 449 262.6 450.1 261.1 449.9 259.1 451.1 257.6 450.2 253.7 447.2 251.1 441.9 255.2 439.6 255.5 441 263.1ZM506.2 344.4 508.1 349.8 512.7 353.2 514.2 356.8 516.1 355.4 517.5 353.6 520.6 347.5 524.3 344.7 526.4 343.9 521 343.1 517.2 339.3 514.7 338.3 512.5 336.7 509.8 337.1 507.1 336.8 506.8 339 508 340.8 507.7 342.9ZM325 374.7 326.9 373.7 329.4 370.3 331.2 369.3 331.1 365.1 332.5 363.5 333.2 361.4 330 360.3 328.5 357.4 326.2 355.4 323.3 354.2 320.8 355.5 324 361.4 324.4 363.6 322.1 367.6 321.9 370 322.5 372.3ZM464.8 360.6 461.2 369.2 464.3 370.7 471.5 367.5 474.2 368 471.5 366.8 470.4 364.1 471 361.3 469.7 358.8 464.6 357.4ZM426.5 332.2 424.9 329 422.8 328.3 421.2 326.7 419.1 327.4 417 326.8 415.8 328.4 412.2 330.3 411.8 332.3 412 334.8 413.5 336.8 417.5 339.3 419.3 337.8 421.7 337.9 425.5 335.6ZM470.2 292.5 471 295.1 475.5 297.8 478.1 295.3 481.7 294.9 483.6 295.3 485.4 294.5 487.1 293.5 487.7 291.6 487.2 289.6 488.4 285.7 488.4 283.8 486.2 281.8 485.1 279 482.6 277.2 479.6 276.9 476 277.5 474.7 281.3 472 284.4 470.8 288.3 467.8 291.1Z"/>
<path fill="#87d987" d="M487.6 278.5 489.7 289.2 489.7 294.6 487.9 300.1 489 305.5 492.9 313.4 494.3 317.6 499.7 318 510.4 315.5 515.9 316.3 521.3 316.3 527.9 307.5 530.7 302.8 529.7 297.7 529.4 292.5 526.7 288.8 498.4 286.6 492.7 283.2Z"/>
<path fill="#c5da71" d="M135.6 317.3 139.4 321 143.4 323.8 148.4 324.7 157 329 161.8 330.2 166.8 330.7 171.4 332.9 181.2 334.4 189.3 329 185.7 325.5 185 320.2 180 317.7 177.4 313.6 175.8 308.8 172 306.3 159.6 300.7 162.6 296.9 165 292.6 155 290.5 150.2 288.6 147.9 293.5 143.1 296.6 141 301.5 137.4 305.5 134.6 310.1 131.3 314.2ZM206 334 206.4 340.2 209.5 345.2 216.1 351.5 217.9 355.9 221.6 358.7 232.5 358.4 237.7 355.9 243.2 356 245.9 342.5 241.8 338.4 236.8 335.4 232.4 331.7 223 316.9 218.6 321 213 323.1 202.8 329ZM178.5 353.3 181.4 364.7 183.9 370 195 378 205.5 373.6 210.9 372 214.7 367.7 219 364.1 216.7 359.4 210.9 350.6 206.4 348.5 201.6 347.8 196.6 348 192 346.6ZM321 578 322.5 581.9 323 586 327.7 587.3 331.9 589.8 336.5 591.4 341.9 594.1 347.1 591.9 352.9 591.4 358 588.7 361.1 579.5 362.1 569.9 356.8 567.5 351.3 565.8 345.8 565.3 340.9 563.2 335.8 561.9 331.1 559.1 327.5 562.2 325.9 566.7 322.7 570 320.3 573.9ZM248.6 536.9 253.8 539.1 256.4 544.3 263.7 551 270.4 552.3 274.7 548.6 278.5 544.3 275.3 540.2 274.5 526.7 266.9 515.9 254.3 524 250 527.8 246.2 532.1ZM307.9 689.9 312.2 692.5 317.6 687.1 310.9 680.4 307.8 683.8 304.1 686.6ZM367.5 520 368.8 530.8 376.9 536.2 381.1 537 389 540.2 396.9 533.7 401.2 530.8 397.1 520 391.2 520.9 385.3 518.5 379.3 519.8ZM352.6 564.5 362.1 569.9 366.9 567.6 375.6 561.8 370.2 556.4 363.2 551.5 359.4 549.6 357.9 554.9 354.6 559.4ZM256 427 257.3 430.9 257.5 435 265.6 443.1 270.1 443.9 274.4 445.4 279 445.8 276.6 449.6 275 453.9 270.6 457.1 262.9 464.7 254.5 460.5 251.2 456.8 246.7 455.3 236 453.8 230.5 453.9 227.8 460.6 231.8 463.8 238.6 471.4 244.3 472.1 249.1 475.6 255.2 474.9 259.8 479.3 265.6 479.5 270.9 478.4 276.3 478.6 281.7 478.2 285.2 474.9 289.3 472.3 292.5 468.7 290.6 464.2 287.7 454.9 287.1 450 284.4 445.8 288.5 444.5 288.3 438.6 289.9 432.9 289.8 427 281.7 422.9 273.6 424.3 265.6 420.2 260.9 421.9 256.1 422.9ZM310.4 474.8 310.9 480.2 325 481.7 329.7 481.5 334.1 477.7 339.2 474.8 339.5 463.1 340.5 457.3 333.5 451.3 329 449.8 325.7 446.5 324.3 458.6 310.9 469.4ZM345.9 476.1 362.1 477.5 374.2 472.1 375.6 466.8 375.9 461.4 374.4 455.8 375.6 450.5 379 440.8 379.6 435.7 364.8 434.3 360.7 426.3 356.1 429.3 350.6 430.2 345.9 433 344 454.1 341.7 459.1 340.8 464.3 338.9 469.4 339.2 474.8ZM376.8 454 375.5 463.7 376.5 468.6 375.6 473.4 391.8 473.6 397.1 472.1 399.8 467.7 403.7 464.2 406.6 459.9 405.7 455.3 403.6 451 402.5 446.5 398.4 442.4 393.2 440.1 388.9 436.4 383.6 434.3 381.6 439.6 378.3 444.2 375.6 449.2ZM318.9 528.7 316.3 538.9 318.7 542.7 320.3 547 326 547.4 331.6 547.1 337.3 548 342.9 547.8 348.6 548.3 345.9 542.9 345.2 538.3 342.7 534.4 339.2 526 340.2 515.1 342.5 509.9 341.3 504.2 343.2 499 344.1 487.5 345.9 476.1 337.8 477.5 335.1 481.9 327.6 488.5 321.2 496 319.6 500.8 316.3 504.4 315.8 509.8 316.3 515.2 319.5 517.8 322.3 520.9 325.7 523.3ZM371.1 503.6 370.2 508.5 366 518.2 364.8 523.3 366.5 528.7 365.7 534.6 367.5 540 373.1 539.3 378.1 536.4 389 534.1 393.5 531.5 397.7 528.2 402.1 526.2 403.1 521.3 407.2 510.5 412.7 507.1 413.8 504.6 417.3 501.7 416.4 497.7 416 489.6 410.2 490 404.3 489.6 398.5 490.9 395.5 487.1 387.7 481.5 384.7 486.5 379.3 489.4 377.2 495.1 372.9 499Z"/>
<path fill="#ababab" d="M195.6 298 194.6 303.4 194.7 308.8 204 313.7 208.2 316.9 213.8 317.5 218.9 319.8 224.3 321 226.9 315.8 228.4 310.2 223 303.4 219.3 300.2 210.9 295.3 206.1 293.7 201.1 293 196 292.6ZM250.2 315.3 251 320.2 252.7 325 260.8 325.7 264.8 325 268.8 323.2 273.2 322 276.9 319.6 275.6 307.5 272.3 305.1 268.3 304.1 264.8 302.1 259.5 304.2 250 310.2ZM250.9 240.6 252.6 245.5 256.3 244 259.5 241.3 263.4 240.1 260.4 235.5 258 230.6 248.6 236ZM310.5 220.5 313.4 224.6 314.6 229.3 320 223.9 318.9 219.3 318.7 214.5 309.2 215.8ZM231.4 269.2 233.8 273.8 241.9 275.1 241.5 270.4 240.5 265.7 235.1 265.3 229.7 264.3ZM316 300.7 322.9 310.2 335 308.8 336.4 299.4 332.9 296.3 330 292.6ZM313.1 338.1 316 342.5 324.3 342.5 340.4 341.2 344 337.3 347.2 333.1 342.6 330.7 337.7 329 332.9 329.4 328.2 327.9 318.7 329 309.2 334.4ZM333.7 230.6 336.4 241.4 344.5 238.7 343.1 230.6ZM383.3 227.5 383.8 232.5 386.1 241.8 386 246.5 387.6 250.9 395.7 248.2 394.1 242.9 390.3 222.6 382.2 222.6ZM374.9 292.2 377.6 295.5 380.9 298 385.4 298.2 389.8 296.9 394.3 296.7 395.9 292.4 398.4 288.6 389 283.2 384.2 283.9 380.5 287.4 375.8 288.2 371.4 290ZM418.6 327.7 426.7 326.3 425.3 319.6 417.3 320.9ZM429.3 341.1 429.4 346.6 438.4 345.3 442.9 345.2 441.4 339.6 438.8 334.4 433.5 335.7 428 335.8ZM429 340.6 429.6 346.4 434.1 345.8 443.1 345.9 440.4 334.6 431.5 335.7 427 335.1ZM464.7 391.7 465.6 402.5 464.7 407.9 469.7 407.8 474.5 406.1 479.5 406.5 479.5 401.1 480.4 395.8 479.5 390.4 474.6 391 469.6 390.5ZM408.5 385.7 408.7 391 410.8 395.8 420.2 394.4 419 389.1 418.9 383.6 414.9 382.4 406.7 380.9ZM425.4 366.5 425 371.1 425.6 375.6 431 375.6 432.3 360.7 424.3 362.1ZM489.4 444.5 488 462 482 468.5 478.6 471.4 469.2 476.8 467.8 483.6 458.4 487.6 457.6 490.9 458.4 492.2 463.2 494.6 468.6 494.2 473.2 497.1 478.5 497.5 486.7 486.3 488.8 481 498.8 467.4 500.7 462.2 503.1 459.9 511.5 444.5 506 443.8 500.4 444.3 494.9 443.4ZM408.2 442.3 407.2 447 407.1 451.9 405.8 456.6 405.6 461.2 407.2 470.1 409.8 474.1 413.8 477 416.6 480.9 415.8 486.4 418 491.6 418.4 497 418 502.4 421.8 502.4 428.3 499.9 429 498 429.3 493.2 431.4 488.9 430.6 483.9 427.7 479.5 428.1 474.2 424.7 464.7 421.9 460.3 419.9 455.3 416.6 451.2 419.1 446.2 426 437.7 424.7 429.6 420.2 433.1 409.9 437.7ZM295.2 573.9 299.5 590.6 302.6 594.2 306.6 597.1 309.5 600.9 317.8 604 321.6 606.3 325.7 606.9 329.8 606.6 333.8 607.6 336.9 603.3 340.5 599.5 337.8 592.8 332.5 591.3 328.1 588 323 586 319.7 581.7 317.3 576.7 313.6 572.6 309.2 571.3 304.6 571.6 300.1 570.7ZM268.8 388.3 272.3 397.8 273.1 403.3 277.3 403.5 285.3 406 294.7 400.6 302.8 392.6 300.1 383.1 296.2 381.1 291.7 380.2 288 377.7 283.5 378 274.5 377.7 266.4 384.5ZM409.3 438.4 413.3 447.8 417.3 444.3 422.8 443.2 426.8 439.7 426 434.9 424.1 430.3 419.6 433.7ZM380.6 366.2 382.8 370.4 383.6 375 386.8 378.2 388.9 382.2 391.7 385.8 405.2 384.5 402.5 375 397.8 371.7 394 367.2 389 364.3 384.4 362.6 379.6 361.6ZM409.3 380.4 413.3 392.6 421.4 393.9 418.7 383.1 413.9 382.2ZM332.7 363.7 333.8 368.3 341.9 367 340.5 357.5 332.4 358.9Z"/>
<path fill="#8cddd8" d="M298.5 334.9 291.7 342.5 281.2 348.1 274.5 360.2 279.2 361.2 284 359.8 288.6 361.8 293.3 361.6 296 369.6 302.8 365.6 305.1 362.3 306.1 358.3 308.2 354.8 312.6 351.1 316.3 346.7 312.5 343.7 306.3 335.6 302.5 331.7ZM247.6 385.7 252.9 384.5 257.2 382.5 261.9 381.8 266.4 380.4 270.8 378.2 274.5 375 270.4 367 265.1 368.1 259.6 368.3 254.3 370.4 244.8 376.4 242.1 385.8ZM213.6 250.9 220.3 260.3 224.3 257.6 222 252.7 219 248.2ZM405.1 312.9 413.2 312.9 413.2 307.5 405.1 307.5Z"/>
<path fill="#fda557" d="M165 304.8 172.9 308.2 177.2 308.8 181.4 306.6 186 305.6 190.1 303.1 194.7 302.1 195.9 297.7 196 288.6 192.9 284.8 188 276.5 175.8 277.8 171.9 281.9 170 287.4 167 292.2 161.9 295.4 159.6 300.7ZM189.7 335.8 189.8 341.2 190.6 346.6 201.4 345.2 208.2 335.8 204.1 327.7 195 329.1 190.6 330.4ZM258 306.1 264.8 298 263.4 291.3 255.3 292.6 254.4 296.8 251.3 304.8ZM290.8 240 291.7 245.5 298.5 252.2 303.9 245.5 301 242.1 298.8 238.1 295.8 234.7 289 234.7ZM294.4 292.6 298.3 294.1 305.2 298.8 307.9 294 302.5 284.6 297 284.7 291.7 285.9ZM188 264.3 197.4 269.7 200.1 265.7 196.6 262.9 190.6 256.3 183.9 256.3ZM205.5 249.5 210.9 250.9 213.1 247.3 219 241.4 216.3 236 207.6 241.2 202.8 242.8ZM304.7 200.6 310.6 206.4 314.2 201.9 318.7 198.3 317.8 193.7 317 192.1 309.2 192.9 302.5 197ZM212.5 266.4 213.6 271.1 217.6 271.1 218 266.4 217.6 261.6 212.2 261.6ZM312.1 230.6 313.3 238.9 314.8 242.8 320.2 240.1 319.5 234.5 317.5 229.3ZM348.6 240.2 352.6 243.5 355.7 247.6 358 252.2 364.7 249.5 361.1 246.3 358.5 242.2 352.6 234.7 345.8 236ZM360.7 207.8 363.6 212.9 364.7 218.5 370.1 218.5 368.7 207.7 368.7 202.3 359.3 202.3ZM389 206.4 388.7 214.5 387.6 218.5 391.6 223.9 396 220 401.1 217.2 397.4 208.5 396.4 207.6ZM401.7 223.3 403.8 233.3 410.5 230.6 409.3 226.3 406.6 222.7 405.1 218.5 399.7 218.5ZM369.8 305 372.8 308.8 377.6 307.8 382.2 306.1 378.2 299.4 367.4 300.7ZM355.4 286.8 358 291.3 364.7 285.9 363.3 277.8 353.9 281.9ZM300 287.3 300 298 308.1 296.7 308 291.2 306.7 285.9ZM433 312.3 434.8 316.9 438.8 318.3 440.1 310.2 440.2 306.1 432.1 307.5ZM393 330.4 399.7 329 398.4 323.1 390.3 323.6ZM389.9 335.2 391.6 339.8 401.1 337.1 398.4 329 393.6 329.2 389 330.4ZM410.5 333.9 418.6 333.1 418.6 327.7 409.2 327.7ZM405.1 342.5 409.2 342.5 406.5 334.4 401.1 335.8ZM421.5 397 421.6 402.5 426.4 402 431 403.7 440.4 403.9 448.5 402.5 444.5 398.8 441 394.6 436.4 391.7 432.6 388.2 427 379.6 424.3 383.4 422.6 387.7 420.2 391.7ZM442.2 385.5 443.1 390.4 449.9 389 449.5 384.3 448.5 379.6 440.4 380.9ZM409.4 332.9 417.5 332.4 418.9 327 409.4 327ZM457.7 498.9 456.1 504.5 455.8 510.3 454.3 515.9 450.5 518.9 446.3 521.3 439.5 520 438.2 528 435.1 531.8 432.8 532.7 427.4 537.5 413.9 546.9 405.3 545.5 403 545.6 397.7 544.2 397.5 548.8 395 557.7 399 556 400.6 560.4 403.1 564.4 405.9 560.8 409.2 559 416.6 552.3 448.9 528 453.7 523.7 455 521.3 462.4 515.9 466.2 511.7 468.4 507.8 472 505.4 478.5 497.5 472.8 497.3 467.6 495.4 462.7 492.3 457.3 492 457 493ZM332.4 557.7 343.2 562.6 348.7 563.2 354 564.5 359.4 549.1 354.7 548.9 350 550.5 345.2 549.7 340.5 549.6 336 553.2ZM275.3 507.7 276.3 513.2 274.7 529.5 275 534.9 276.3 540.2 280.2 533.2 281.7 529.4 284.5 518.3 288.6 509.3 288.4 505 289.8 501.1 281.7 499.7 273.6 502.4ZM363.4 379.1 367.5 391.2 372.9 398 372.2 393 373.5 388.1 372.9 383.1 368.8 375ZM335.1 375 337.8 384.5 343.2 383.1 342.4 377.6 340.5 372.3Z"/>
<path fill="#fad71d" d="M227 302.1 231 309.6 233.8 312.9 237.4 315.6 243.2 322.3 247 325.3 250 329 249.1 324.3 249 319.4 246 315.1 245.9 310.2 243.4 301.3 243.2 296.7 239.6 292.9 236.5 288.6 233.7 293.4ZM235.1 256.3 243.2 258.9 245.6 253.4 248.6 248.2 244.6 241.4 239.6 243.3 236.1 247.6 231.1 249.5ZM252.6 233.3 259.4 228 256.7 222.6 248.6 225.3ZM209.5 261.6 216.3 257.6 210.9 250.9 204.1 254.9ZM221.6 261.6 224.3 271.1 229.7 272.4 227 261.6ZM389 283.2 397 280.5 394 275.6 390.3 271.1 384.9 277.8ZM440.2 326.3 446.9 329 457.7 326.3 456.3 318.3 450.5 318.5 444.7 320 438.8 319.6ZM358.2 362.1 359.7 366.2 362 370 366.1 375 374.1 371 372.8 360 368.9 357.6 364.7 356 360.1 357.8 355.3 358.7ZM477.8 343.3 482.6 347 489 356.7 494.3 372.9 499.6 371 505.2 370.4 515.9 367.5 518.6 359.4 526.7 354.5 516.7 353.2 511.9 351.3 509.3 347 507.6 342.2 502.6 332.5 498.5 328.1 495.2 323.1 493 317.6 487.6 317.9 482.2 317.6 479.7 322.4 479.9 328.1 476.2 332.4 475.5 337.8ZM444.5 379.6 449.9 379.6 448.5 370.2 443.1 371.5ZM466 372.9 467.4 383.6 472.2 383.6 471.4 372.3ZM406.3 371.5 405.9 376.9 410.8 375.6 411.7 371.6 411 367.4 412.1 363.4 405.4 366.1ZM362.1 586.6 361.4 592 361.7 597.2 363.2 602.1 365.6 606.8 376.7 606.8 379 601.3 389 584.7 394.7 576.2 397.1 571.2 395.5 565.7 393.1 560.5 387.7 542.9 379.6 542.9 378.1 547.7 378.7 552.9 376.9 557.7 372.3 561.2 364.8 569.9 362.7 573.8 361.8 578.2 359.4 582ZM301.4 515.2 300.2 520.5 300.1 526 302.8 529.1 304.3 533 306.8 536.2 310.9 545.6 315.7 545.9 320.3 547 316.3 538.9 317.2 533.7 318.9 528.7 325.7 523.3 316.3 515.2 316.3 504.4 318.3 499.9 322.1 496.6 324.3 492.3 325.7 482.9 320.3 482.2 314.9 483.3 309.5 482.9 308.1 491.8 308.2 496.3 300.5 504 297.4 508.5ZM355.3 360.2 363.4 365.6 366.1 375 374.2 371 372.8 363 372.9 358.9 364.1 355.6 359.4 354.8ZM405.2 365.6 404.7 375 409.3 376.4 412 364.3Z"/>
<path fill="#a53a4c" d="M177.4 314.6 179.6 319.3 182.6 323.6 192 329 197.4 328 202.8 327.7 204.4 322.1 206.8 316.9 203.1 314.1 199.1 311.8 189.1 308.7 183.9 306.1 179.4 308.7 174.5 310.2ZM287.7 223.9 294.4 222.6 293 217.2 285 218.5ZM272.9 234.2 280.4 233.3 279.6 228 271.5 229.3ZM327.5 238.7 332.3 238.7 331.8 231.5 327 232ZM403.8 362.7 410.5 361.4 407.8 354.6 401.1 356ZM390.6 392.4 390.3 396.7 391.7 400.6 401.2 400.6 402.8 390.8 402.5 385.8 397.1 385.8 389 388.5Z"/>
<path fill="none" stroke-width="1.3" d="M36.7 420.2 47.0 416.1 57.7 404.5 56.4 397.3 61.8 390.5 69.9 388.6 78.0 378.4 92.8 360.9 100.9 344.7 106.3 339.3 115.7 336.0 123.8 325.8 125.1 316.4 130.0 312.9 138.1 299.4 150.2 288.6 150.2 284.6 158.3 281.9 158.3 275.1 170.4 268.4 177.2 263.0 183.9 256.3 189.3 250.9 202.8 242.8 209.5 240.1 216.3 234.7 221.6 225.3 233.8 219.9 243.2 215.8 252.6 214.5 259.4 207.7 262.1 202.3 272.9 199.6 278.2 194.3 289.0 197.0 302.5 197.0 307.9 192.9 316.0 190.2 320.2 198.3 329.6 195.6 335.0 191.0 344.5 197.0 358.0 201.0 370.1 200.2 383.6 201.8 393.0 204.5 402.4 213.1 413.2 220.7 426.7 219.9 437.5 225.3 446.9 233.3 459.0 241.4 468.5 250.9 476.5 263.0 486.0 273.8 492.7 283.2 498.4 286.6 513.2 288.0 526.7 288.8 529.4 292.5 542.9 289.8 549.6 293.3 553.6 302.8 545.6 305.5 541.5 316.3 537.5 323.0 538.8 335.1 533.4 343.2 528.0 349.9 538.8 346.4 552.3 356.7 546.9 370.2 540.2 383.6 533.4 397.1 528.5 400.0 524.4 416.2 516.3 435.0 509.6 448.5 498.8 467.4 486.7 486.3 475.9 501.1 462.4 515.9 448.9 528.0 432.8 540.2 416.6 552.3 403.1 564.4 397.1 572.6 389.0 584.7 380.9 598.2 375.6 609.0 372.9 625.1 364.8 641.3 351.3 660.2 337.8 673.6 324.3 687.1 313.6 693.9 303.3 688.5 304.1 679.0 305.5 665.6 303.3 646.7 306.8 638.6 316.3 631.9 320.3 623.8 329.7 614.3 327.0 610.3 321.6 607.6 309.5 602.2 300.1 592.8 295.2 582.0 294.7 573.9 290.6 567.2 277.2 555.0 265.0 552.3 246.2 534.8 244.0 532.1 231.9 517.3 219.7 515.9 204.9 506.5 192.8 499.7 184.7 486.3 169.9 470.6 164.5 474.1 152.3 486.3 141.6 486.3 141.6 475.5 132.1 456.6 125.1 448.5 111.6 439.0 100.9 425.6 87.4 414.2 71.2 414.8 64.5 425.6 52.3 428.2 41.6 426.9ZM474.6 437.7 486.7 431.0 494.8 425.6 497.5 435.0 489.4 444.5 488.0 462.0 478.6 471.4 469.2 476.8 467.8 483.6 458.4 487.6 457.0 493.0 454.3 515.9 446.3 521.3 439.5 520.0 438.2 528.0 427.4 537.5 413.9 546.9 397.7 544.2 395.0 557.7 391.0 546.9 389.6 542.9 400.4 534.8 403.1 521.3 407.2 510.5 418.0 503.8 428.7 499.7 430.1 493.0 439.5 487.6 438.2 478.2 446.3 468.7 449.0 453.9 453.0 443.1 461.1 437.7Z"/>
</g>
<path d="M4.5 707V713H73.5V707" fill="none" stroke="#333" stroke-width="1"/>
</svg>

<!-- ===== charts ===== -->
<svg width="1768" height="742" viewBox="0 0 1768 742">
<path fill="#fda557" d="M803.25 410.65A108.4 108.4 0 0 1 808.22 278.31L829.42 295.98A80.8 80.8 0 0 0 825.72 394.62Z"/>
<path fill="#c5db71" d="M808.22 278.31A108.4 108.4 0 0 1 891.5 239.3L891.5 266.9A80.8 80.8 0 0 0 829.42 295.98Z"/>
<path fill="#87d987" d="M891.5 239.3A108.4 108.4 0 0 1 987.87 298.07L963.33 310.7A80.8 80.8 0 0 0 891.5 266.9Z"/>
<path fill="#ababab" d="M987.87 298.07A108.4 108.4 0 0 1 999.82 343.63L972.24 344.67A80.8 80.8 0 0 0 963.33 310.7Z"/>
<path fill="#fad71d" d="M999.82 343.63A108.4 108.4 0 0 1 991.32 389.97L965.9 379.21A80.8 80.8 0 0 0 972.24 344.67Z"/>
<path fill="#8cddd8" d="M991.32 389.97A108.4 108.4 0 0 1 979.75 410.65L957.28 394.62A80.8 80.8 0 0 0 965.9 379.21Z"/>
<path fill="#4d4d4d" d="M999.98 320.66L964.42 334.26L962.19 325.34Z"/>
<path stroke="#c8c8c8" stroke-width="1" d="M802.84 410.94L799.59 413.26"/>
<path stroke="#c8c8c8" stroke-width="1" d="M891.5 238.8L891.5 234.8"/>
<path stroke="#c8c8c8" stroke-width="1" d="M980.16 410.94L983.41 413.26"/>
</svg>
<svg width="1768" height="742" viewBox="0 0 1768 742">
<path fill="#bc7d63" stroke="#bc7d63" stroke-width="8.96" stroke-linejoin="round" d="M900.78 524.27A101.92 101.92 0 0 1 903.13 524.44L900.19 548.72A77.48 77.48 0 0 0 900.19 548.72Z"/>
<path fill="#fad71d" stroke="#fad71d" stroke-width="12.91" stroke-linejoin="round" d="M917.01 528.6A99.95 99.95 0 0 1 919.46 529.19L913.39 548.8A79.45 79.45 0 0 0 913.39 548.8Z"/>
<path stroke="#8cddd8" stroke-width="1.4" stroke-linecap="round" d="M920.61 556.51L931.48 527.47"/>
<path stroke="#a53a4c" stroke-width="3.36" stroke-linecap="round" d="M925.32 557.38L937.19 530.88"/>
<path fill="#c5da71" stroke="#c5da71" stroke-width="20" stroke-linejoin="round" d="M947.46 545.38A96.4 96.4 0 0 1 967.06 689.58L958.05 679.5A83 83 0 0 0 941.47 557.5Z"/>
<path fill="#fda557" stroke="#fda557" stroke-width="20" stroke-linejoin="round" d="M949.6 705.17A96.4 96.4 0 0 1 925.17 717.42L922.47 704.18A83 83 0 0 0 940.6 695.09Z"/>
<path fill="#ababab" stroke="#ababab" stroke-width="20" stroke-linejoin="round" d="M902.25 722.1A96.4 96.4 0 0 1 894.21 722.4L895.91 708.99A83 83 0 0 0 899.55 708.85Z"/>
<path fill="#87d987" stroke="#87d987" stroke-width="20" stroke-linejoin="round" d="M871 719.47A96.4 96.4 0 0 1 882.9 530.31L882.9 543.83A83 83 0 0 0 872.69 706.06Z"/>
</svg>
<svg width="1768" height="742" viewBox="0 0 1768 742">
<circle cx="277" cy="128.8" r="6.9" fill="#666"/><path d="M274.4 126.2L279.6 131.4M279.6 126.2L274.4 131.4" stroke="#fff" stroke-width="1.9" stroke-linecap="round"/>
<circle cx="425" cy="128.8" r="6.9" fill="#666"/><path d="M422.4 126.2L427.6 131.4M427.6 126.2L422.4 131.4" stroke="#fff" stroke-width="1.9" stroke-linecap="round"/>
<circle cx="573" cy="128.8" r="6.9" fill="#666"/><path d="M570.4 126.2L575.6 131.4M575.6 126.2L570.4 131.4" stroke="#fff" stroke-width="1.9" stroke-linecap="round"/>
<circle cx="946.8" cy="197.7" r="6.9" fill="#636363"/><path d="M944.2 195.1L949.4 200.3M949.4 195.1L944.2 200.3" stroke="#fff" stroke-width="1.9" stroke-linecap="round"/>
<circle cx="956.9" cy="485.6" r="6.9" fill="#636363"/><path d="M954.3 483L959.5 488.2M959.5 483L954.3 488.2" stroke="#fff" stroke-width="1.9" stroke-linecap="round"/>
<rect x="1052.9" y="165" width="15.2" height="11.8" rx="1.5" fill="#4a4a4a"/>
<circle cx="1056.2" cy="168.3" r="1.45" fill="#fff"/>
<path fill="#fff" d="M1054.5 175l3.2 -3.1l1.6 1.1l4.3 -4.3l3.2 3.2v3.1z"/>
<circle cx="1095.7" cy="170.8" r="7.7" fill="#4a4a4a"/><path d="M1093 168.1L1098.4 173.5M1098.4 168.1L1093 173.5" stroke="#fff" stroke-width="2.6" stroke-linecap="round"/>
<rect x="1123" y="164.2" width="15" height="13.4" rx="1.3" fill="#4a4a4a"/>
<rect x="1124.6" y="168.1" width="4.9" height="2.7" fill="#fff"/>
<rect x="1131.3" y="168.1" width="5.1" height="2.7" fill="#fff"/>
<rect x="1124.6" y="173" width="4.9" height="2.8" fill="#fff"/>
<rect x="1131.3" y="173" width="5.1" height="2.8" fill="#fff"/>
<path fill="none" stroke="#4a4a4a" stroke-width="2" d="M1158.6 168.9V165H1162.5M1166.7 165H1170.6V168.9M1158.6 172.9V176.8H1162.5M1166.7 176.8H1170.6V172.9"/>
<rect x="1055.8" y="454.1" width="15.2" height="11.8" rx="1.5" fill="#4a4a4a"/>
<circle cx="1059.1" cy="457.4" r="1.45" fill="#fff"/>
<path fill="#fff" d="M1057.4 464.1l3.2 -3.1l1.6 1.1l4.3 -4.3l3.2 3.2v3.1z"/>
<circle cx="1098.6" cy="459.9" r="7.7" fill="#4a4a4a"/><path d="M1095.9 457.2L1101.3 462.6M1101.3 457.2L1095.9 462.6" stroke="#fff" stroke-width="2.6" stroke-linecap="round"/>
<rect x="1125.9" y="453.3" width="15" height="13.4" rx="1.3" fill="#4a4a4a"/>
<rect x="1127.5" y="457.2" width="4.9" height="2.7" fill="#fff"/>
<rect x="1134.2" y="457.2" width="5.1" height="2.7" fill="#fff"/>
<rect x="1127.5" y="462.1" width="4.9" height="2.8" fill="#fff"/>
<rect x="1134.2" y="462.1" width="5.1" height="2.8" fill="#fff"/>
<path fill="none" stroke="#4a4a4a" stroke-width="2" d="M1161.5 458V454.1H1165.4M1169.6 454.1H1173.5V458M1161.5 462V465.9H1165.4M1169.6 465.9H1173.5V462"/>
</svg>
<svg width="1768" height="742" viewBox="0 0 1768 742">
<defs>
<linearGradient id="bgd" x1="0" y1="0" x2="1" y2="1"><stop offset="0" stop-color="#eef4f6"/><stop offset="0.25" stop-color="#c3d0d6"/><stop offset="0.5" stop-color="#e4ecef"/><stop offset="0.75" stop-color="#aebfc6"/><stop offset="1" stop-color="#e9f0f2"/></linearGradient>
<linearGradient id="bgo" x1="0" y1="0" x2="1" y2="1"><stop offset="0" stop-color="#f3d98a"/><stop offset="0.25" stop-color="#d9a93f"/><stop offset="0.5" stop-color="#efcd6e"/><stop offset="0.75" stop-color="#c48c2a"/><stop offset="1" stop-color="#e8c15a"/></linearGradient>
<linearGradient id="bgp" x1="0" y1="0" x2="1" y2="1"><stop offset="0" stop-color="#e6e6e6"/><stop offset="0.25" stop-color="#a9a9a9"/><stop offset="0.5" stop-color="#dcdcdc"/><stop offset="0.75" stop-color="#8c8c8c"/><stop offset="1" stop-color="#cfcfcf"/></linearGradient>
<radialGradient id="bdisc" cx="0.5" cy="0.42" r="0.6"><stop offset="0" stop-color="#ffffff"/><stop offset="0.6" stop-color="#f4f4f4"/><stop offset="1" stop-color="#d9d9d9"/></radialGradient>
</defs>
<path d="M1697.5 359L1707.75 364.35L1719.3 364.84L1725.5 374.6L1735.26 380.8L1735.75 392.35L1741.1 402.6L1735.75 412.85L1735.26 424.4L1725.5 430.6L1719.3 440.36L1707.75 440.85L1697.5 446.2L1687.25 440.85L1675.7 440.36L1669.5 430.6L1659.74 424.4L1659.25 412.85L1653.9 402.6L1659.25 392.35L1659.74 380.8L1669.5 374.6L1675.7 364.84L1687.25 364.35Z" fill="url(#bgd)" stroke="#b9c6cb" stroke-width="1.6" stroke-linejoin="round"/>
<circle cx="1697.5" cy="402.6" r="37.6" fill="url(#bdisc)" stroke="#cfc7bb" stroke-width="1.6"/>
<path d="M1665.71 395.84A32.5 32.5 0 0 1 1729.29 395.84" fill="none" stroke="#5b7aa6" stroke-width="2.4" stroke-dasharray="1.5 0.8" opacity=".75"/>
<path d="M1672.6 423.49A32.5 32.5 0 0 0 1722.4 423.49" fill="none" stroke="#8a95a3" stroke-width="2.2" stroke-dasharray="1.4 0.9" opacity=".6"/>
<circle cx="1697.1" cy="385.6" r="6.2" fill="#2a86bd"/>
<path d="M1698.1 379.5A6.2 6.2 0 0 1 1701.6 389.8" fill="none" stroke="#c9c23a" stroke-width="2.2"/>
<path d="M1692.9 389.8l-3.5 2.6l4 -0.4z" fill="#2a86bd"/>
<circle cx="1696.8" cy="385.6" r="3.6" fill="#1f5f9a"/>
<path d="M1697.5 477.2L1707.75 482.55L1719.3 483.04L1725.5 492.8L1735.26 499L1735.75 510.55L1741.1 520.8L1735.75 531.05L1735.26 542.6L1725.5 548.8L1719.3 558.56L1707.75 559.05L1697.5 564.4L1687.25 559.05L1675.7 558.56L1669.5 548.8L1659.74 542.6L1659.25 531.05L1653.9 520.8L1659.25 510.55L1659.74 499L1669.5 492.8L1675.7 483.04L1687.25 482.55Z" fill="url(#bgo)" stroke="#c9962f" stroke-width="1.6" stroke-linejoin="round"/>
<circle cx="1697.5" cy="520.8" r="37.6" fill="url(#bdisc)" stroke="#b8862b" stroke-width="1.6"/>
<path d="M1665.71 514.04A32.5 32.5 0 0 1 1729.29 514.04" fill="none" stroke="#5b7aa6" stroke-width="2.4" stroke-dasharray="1.5 0.8" opacity=".75"/>
<path d="M1672.6 541.69A32.5 32.5 0 0 0 1722.4 541.69" fill="none" stroke="#8a95a3" stroke-width="2.2" stroke-dasharray="1.4 0.9" opacity=".6"/>
<circle cx="1697.1" cy="503.8" r="6.2" fill="#2a86bd"/>
<path d="M1698.1 497.7A6.2 6.2 0 0 1 1701.6 508" fill="none" stroke="#c9c23a" stroke-width="2.2"/>
<path d="M1692.9 508l-3.5 2.6l4 -0.4z" fill="#2a86bd"/>
<circle cx="1696.8" cy="503.8" r="3.6" fill="#1f5f9a"/>
<path d="M1697.5 595.4L1707.75 600.75L1719.3 601.24L1725.5 611L1735.26 617.2L1735.75 628.75L1741.1 639L1735.75 649.25L1735.26 660.8L1725.5 667L1719.3 676.76L1707.75 677.25L1697.5 682.6L1687.25 677.25L1675.7 676.76L1669.5 667L1659.74 660.8L1659.25 649.25L1653.9 639L1659.25 628.75L1659.74 617.2L1669.5 611L1675.7 601.24L1687.25 600.75Z" fill="url(#bgp)" stroke="#9a9a9a" stroke-width="1.6" stroke-linejoin="round"/>
<circle cx="1697.5" cy="639" r="37.6" fill="url(#bdisc)" stroke="#8a8a8a" stroke-width="1.6"/>
<path d="M1665.71 632.24A32.5 32.5 0 0 1 1729.29 632.24" fill="none" stroke="#5b7aa6" stroke-width="2.4" stroke-dasharray="1.5 0.8" opacity=".75"/>
<path d="M1672.6 659.89A32.5 32.5 0 0 0 1722.4 659.89" fill="none" stroke="#8a95a3" stroke-width="2.2" stroke-dasharray="1.4 0.9" opacity=".6"/>
<circle cx="1697.1" cy="622" r="6.2" fill="#2a86bd"/>
<path d="M1698.1 615.9A6.2 6.2 0 0 1 1701.6 626.2" fill="none" stroke="#c9c23a" stroke-width="2.2"/>
<path d="M1692.9 626.2l-3.5 2.6l4 -0.4z" fill="#2a86bd"/>
<circle cx="1696.8" cy="622" r="3.6" fill="#1f5f9a"/>
</svg>

<!-- ===== text ===== -->
<div class="t" style="left:102.0px;top:72.7px;font:normal normal 30.5px/1 'Liberation Sans';color:#3a3a3a;transform:scaleX(1.0125);">da Transparência Pública</div>
<div class="t" style="left:6.4px;top:115.2px;font:normal bold 13.6px/1 'Liberation Sans';color:#595959;transform:scaleX(0.7943);">Ano</div>
<div class="t" style="left:6.4px;top:130.3px;font:normal normal 11.8px/1 'Liberation Sans';color:#8c8c8c;transform:scaleX(0.8190);">2023</div>
<div class="t" style="left:154.4px;top:115.2px;font:normal bold 13.6px/1 'Liberation Sans';color:#595959;transform:scaleX(0.8432);">Nome Formatado ...</div>
<div class="t" style="left:154.4px;top:130.3px;font:normal normal 11.8px/1 'Liberation Sans';color:#8c8c8c;transform:scaleX(0.7830);">Rio Grande do Sul</div>
<div class="t" style="left:302.3px;top:115.2px;font:normal bold 13.6px/1 'Liberation Sans';color:#595959;transform:scaleX(0.8432);">Nome Formatado ...</div>
<div class="t" style="left:302.3px;top:130.3px;font:normal normal 11.8px/1 'Liberation Sans';color:#8c8c8c;transform:scaleX(0.8258);">Constantina</div>
<div class="t" style="left:450.5px;top:115.2px;font:normal bold 13.6px/1 'Liberation Sans';color:#595959;transform:scaleX(0.8492);">Nome Poder</div>
<div class="t" style="left:450.5px;top:130.3px;font:normal normal 11.8px/1 'Liberation Sans';color:#8c8c8c;transform:scaleX(0.8341);">Legislativo</div>
<div class="t" style="left:21.0px;top:702.8px;font:normal bold 10.5px/1 'Liberation Sans';color:#333;">100 km</div>
<div class="t" style="left:611.7px;top:165.0px;font:normal bold 16.5px/1 'Liberation Sans';color:#787878;transform:scaleX(0.8005);">Índice de Transparência</div>
<div class="t" style="left:614.6px;top:454.3px;font:normal bold 16.5px/1 'Liberation Sans';color:#787878;transform:scaleX(0.8022);">Nível de Transparência</div>
<div class="t" style="left:824.6px;top:184.9px;font:normal bold 13px/1 'Liberation Sans';color:#595959;transform:scaleX(0.8817);">Nome Formatado ...</div>
<div class="t" style="left:824.6px;top:200.1px;font:normal normal 10.5px/1 'Liberation Sans';color:#8c8c8c;transform:scaleX(0.9189);">Constantina</div>
<div class="t" style="left:834.4px;top:472.9px;font:normal bold 13px/1 'Liberation Sans';color:#595959;transform:scaleX(0.8817);">Nome Formatado ...</div>
<div class="t" style="left:834.4px;top:487.9px;font:normal normal 10.5px/1 'Liberation Sans';color:#8c8c8c;transform:scaleX(0.8797);">Rio Grande do Sul</div>
<div class="t" style="left:872.0px;top:223.6px;font:normal normal 12px/1 'Liberation Mono';color:#666;transform:scaleX(0.8677);">50,00%</div>
<div class="t" style="left:765.4px;top:411.8px;font:normal normal 12px/1 'Liberation Mono';color:#666;transform:scaleX(0.8635);">0,00%</div>
<div class="t" style="left:988.7px;top:410.4px;font:normal normal 12px/1 'Liberation Mono';color:#666;transform:scaleX(0.8786);">100,00%</div>
<div class="t" style="left:859.0px;top:325.4px;font:normal normal 21.5px/1 'Liberation Mono';color:#404040;transform:scaleX(0.8434);">80,28%</div>
<div class="t" style="left:829.5px;top:347.0px;font:normal normal 11.5px/1 'Liberation Sans';color:#555;transform:scaleX(1.0061);">Índice de Transparência</div>
<div class="t" style="left:943.0px;top:509.8px;font:normal normal 13.5px/1 'Liberation Sans';color:#595959;transform:scaleX(1.0291);">Inexistente</div>
<div class="t" style="left:1013.5px;top:601.1px;font:normal normal 13.5px/1 'Liberation Sans';color:#595959;transform:scaleX(0.9746);">Básico</div>
<div class="t" style="left:693.0px;top:610.6px;font:normal normal 13.5px/1 'Liberation Sans';color:#595959;transform:scaleX(1.0533);">Intermediário</div>
<div class="t" style="left:949.0px;top:723.4px;font:normal normal 13.5px/1 'Liberation Sans';color:#595959;transform:scaleX(1.0140);">Inicial</div>
<div class="t" style="left:904.9px;top:570.4px;font:normal normal 11.5px/1 'Liberation Mono';color:#595959;transform:scaleX(0.8620);">1.2%</div>
<div class="t" style="left:828.3px;top:616.7px;font:normal normal 11.5px/1 'Liberation Mono';color:#595959;transform:scaleX(0.8952);">48.0%</div>
<div class="t" style="left:930.3px;top:612.5px;font:normal normal 11.5px/1 'Liberation Mono';color:#595959;transform:scaleX(0.8692);">31.1%</div>
<div class="t" style="left:907.5px;top:668.2px;font:normal normal 11.5px/1 'Liberation Mono';color:#595959;transform:scaleX(0.8258);">8.4%</div>
<div class="t" style="left:1359.4px;top:171.6px;font:normal normal 31px/1 'Liberation Sans';color:#555;transform:scaleX(0.9044);">Entidades Avaliadas</div>
<div class="t" style="left:1449.0px;top:261.0px;font:normal normal 49.5px/1 'Liberation Sans';color:#4a78a8;transform:scaleX(0.8669);">498</div>
<div class="t" style="left:1403.0px;top:368.7px;font:normal normal 23.3px/1 'Liberation Sans';color:#555;transform:scaleX(0.9427);">Diamante</div>
<div class="t" style="left:1440.9px;top:400.6px;font:normal normal 37.5px/1 'Liberation Sans';color:#4a78a8;transform:scaleX(0.8533);">4</div>
<div class="t" style="left:1427.3px;top:487.5px;font:normal normal 23.3px/1 'Liberation Sans';color:#555;transform:scaleX(0.8881);">Ouro</div>
<div class="t" style="left:1432.6px;top:519.0px;font:normal normal 37.5px/1 'Liberation Sans';color:#4a78a8;transform:scaleX(0.8677);">15</div>
<div class="t" style="left:1424.4px;top:605.6px;font:normal normal 23.3px/1 'Liberation Sans';color:#555;transform:scaleX(0.9212);">Prata</div>
<div class="t" style="left:1431.3px;top:637.1px;font:normal normal 37.5px/1 'Liberation Sans';color:#4a78a8;transform:scaleX(0.8989);">26</div>
<div class="t" style="left:735.6px;top:76.2px;font:normal bold 14.5px/1 'Liberation Sans';color:#566068;transform:scaleX(1.0972);">ATRICON</div>
<div class="t" style="left:879.0px;top:20.1px;font:normal bold 41px/1 'Liberation Sans';color:#222;transform:scaleX(1.0546);">tce</div>
<div class="t" style="left:888.3px;top:51.0px;font:normal bold 41px/1 'Liberation Sans';color:#222;transform:scaleX(1.0617);">mt</div>
<div class="t" style="left:985.4px;top:38.7px;font:italic bold 36.5px/1 'Liberation Sans';color:#3a2172;transform:scaleX(1.1703);letter-spacing:-3.5px;-webkit-text-stroke:2.1px #3a2172;">TCU</div>
<div class="t" style="left:1103.2px;top:76.7px;font:italic bold 10.2px/1 'Liberation Sans';color:#3a48a8;transform:scaleX(0.9962);-webkit-text-stroke:0.35px #3a48a8;">ABRACOM</div>
<div class="t" style="left:1206.6px;top:61.4px;font:normal bold 24px/1 'Liberation Sans';color:#1b8f97;transform:scaleX(1.0148);-webkit-text-stroke:0.4px #1b8f97;">Conaci</div>
<div class="t" style="left:1208.6px;top:85.1px;font:normal bold 3.2px/1 'Liberation Sans';color:#555;transform:scaleX(1.0316);">CONSELHO NACIONAL DE CONTROLE INTERNO</div>
<div class="t" style="left:1321.0px;top:64.1px;font:normal bold 25px/1 'Liberation Sans';color:#1b2547;transform:scaleX(0.9523);-webkit-text-stroke:0.7px #1b2547;">CNPTC</div>
<div class="t" style="left:1485.8px;top:46.8px;font:normal bold 15px/1 'Liberation Sans';color:#111;transform:scaleX(1.0329);">Instituto</div>
<div class="t" style="left:1485.8px;top:63.1px;font:normal bold 15px/1 'Liberation Sans';color:#111;transform:scaleX(0.9529);">Rui Barbosa</div>
<div class="t" style="left:1485.8px;top:81.6px;font:normal normal 3.9px/1 'Liberation Sans';color:#333;transform:scaleX(0.9659);">A Casa do Conhecimento dos Tribunais de Contas</div>
<div class="t" style="left:1606.6px;top:41.8px;font:normal normal 8.5px/1 'Liberation Sans';color:#a38b5d;transform:scaleX(0.9048);">ANOS</div>
<div class="t" style="left:1674.9px;top:399.2px;font:normal bold 6.4px/1 'Liberation Sans';color:#2c4a78;transform:scaleX(0.9016);">QUALIDADE EM</div>
<div class="t" style="left:1664.5px;top:406.1px;font:normal bold 9.2px/1 'Liberation Sans';color:#6a6f75;transform:scaleX(0.8258);-webkit-text-stroke:0.3px #6a6f75;">TRANSPARÊNCIA</div>
<div class="t" style="left:1686.8px;top:417.2px;font:normal bold 3.7px/1 'Liberation Sans';color:#4a6a9a;transform:scaleX(1.1043);">DIAMANTE</div>
<div class="t" style="left:1686.7px;top:423.5px;font:normal bold 7.1px/1 'Liberation Sans';color:#2c4a78;transform:scaleX(0.9549);letter-spacing:1.5px;">2023</div>
<div class="t" style="left:1694.9px;top:384.3px;font:normal bold 4.4px/1 'Liberation Sans';color:#fff;transform:scaleX(0.9244);">TP</div>
<div class="t" style="left:1674.9px;top:517.4px;font:normal bold 6.4px/1 'Liberation Sans';color:#2c4a78;transform:scaleX(0.9016);">QUALIDADE EM</div>
<div class="t" style="left:1664.5px;top:524.3px;font:normal bold 9.2px/1 'Liberation Sans';color:#8a6a20;transform:scaleX(0.8258);-webkit-text-stroke:0.3px #8a6a20;">TRANSPARÊNCIA</div>
<div class="t" style="left:1692.2px;top:535.4px;font:normal bold 3.7px/1 'Liberation Sans';color:#4a6a9a;transform:scaleX(0.9492);">OURO</div>
<div class="t" style="left:1686.7px;top:541.7px;font:normal bold 7.1px/1 'Liberation Sans';color:#2c4a78;transform:scaleX(0.9549);letter-spacing:1.5px;">2023</div>
<div class="t" style="left:1694.9px;top:502.5px;font:normal bold 4.4px/1 'Liberation Sans';color:#fff;transform:scaleX(0.9244);">TP</div>
<div class="t" style="left:1674.9px;top:635.6px;font:normal bold 6.4px/1 'Liberation Sans';color:#2c4a78;transform:scaleX(0.9016);">QUALIDADE EM</div>
<div class="t" style="left:1664.5px;top:642.5px;font:normal bold 9.2px/1 'Liberation Sans';color:#5f5f5f;transform:scaleX(0.8258);-webkit-text-stroke:0.3px #5f5f5f;">TRANSPARÊNCIA</div>
<div class="t" style="left:1691.2px;top:653.6px;font:normal bold 3.7px/1 'Liberation Sans';color:#4a6a9a;transform:scaleX(1.0283);">PRATA</div>
<div class="t" style="left:1686.7px;top:659.9px;font:normal bold 7.1px/1 'Liberation Sans';color:#2c4a78;transform:scaleX(0.9549);letter-spacing:1.5px;">2023</div>
<div class="t" style="left:1694.9px;top:620.7px;font:normal bold 4.4px/1 'Liberation Sans';color:#fff;transform:scaleX(0.9244);">TP</div>
</body>
</html>
